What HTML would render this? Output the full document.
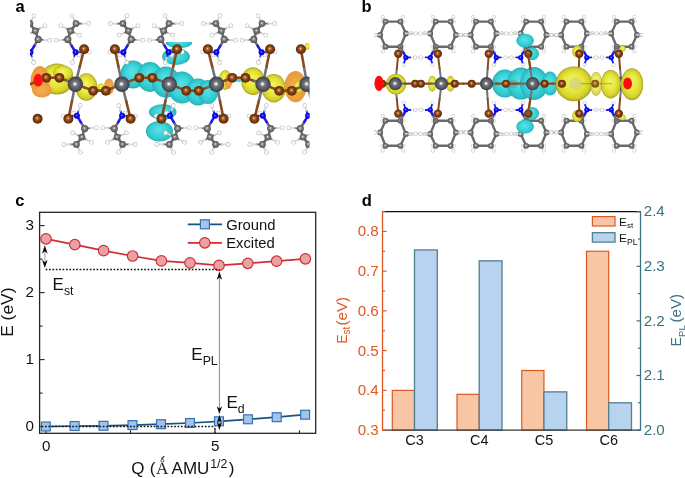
<!DOCTYPE html>
<html><head><meta charset="utf-8"><style>
html,body{margin:0;padding:0;background:#fff;}
svg{display:block;font-family:"Liberation Sans",sans-serif;will-change:transform;}
</style></head><body>
<svg width="685" height="478" viewBox="0 0 685 478">
<defs>
<radialGradient id="gPb" cx="0.5" cy="0.5" r="0.5" fx="0.46" fy="0.48">
 <stop offset="0" stop-color="#ffffff"/><stop offset="0.12" stop-color="#e4e4e6"/><stop offset="0.32" stop-color="#75787e"/><stop offset="0.7" stop-color="#55585e"/><stop offset="1" stop-color="#3c3e43"/></radialGradient>
<radialGradient id="gBr" cx="0.5" cy="0.5" r="0.5" fx="0.45" fy="0.42">
 <stop offset="0" stop-color="#f6d2b0"/><stop offset="0.25" stop-color="#b46a32"/><stop offset="0.6" stop-color="#7c3c10"/><stop offset="1" stop-color="#5a2a08"/></radialGradient>
<radialGradient id="gN" cx="0.5" cy="0.5" r="0.5" fx="0.45" fy="0.42">
 <stop offset="0" stop-color="#a0a0ff"/><stop offset="0.35" stop-color="#1414ff"/><stop offset="1" stop-color="#0000b8"/></radialGradient>
<radialGradient id="gC" cx="0.5" cy="0.5" r="0.5" fx="0.45" fy="0.42">
 <stop offset="0" stop-color="#f0f0f0"/><stop offset="0.35" stop-color="#8a8a8a"/><stop offset="1" stop-color="#505050"/></radialGradient>
<radialGradient id="gH" cx="0.5" cy="0.5" r="0.5">
 <stop offset="0" stop-color="#ffffff"/><stop offset="0.6" stop-color="#f4f4f4"/><stop offset="1" stop-color="#b0b0b0"/></radialGradient>
<radialGradient id="gCy" cx="0.5" cy="0.5" r="0.5" fx="0.45" fy="0.4">
 <stop offset="0" stop-color="#5ae2e6"/><stop offset="0.6" stop-color="#3ad3d8"/><stop offset="0.9" stop-color="#2cc0c6"/><stop offset="1" stop-color="#24aab2"/></radialGradient>
<radialGradient id="gYe" cx="0.5" cy="0.5" r="0.5" fx="0.45" fy="0.4">
 <stop offset="0" stop-color="#f4f46c"/><stop offset="0.55" stop-color="#e6e63a"/><stop offset="0.85" stop-color="#d4d02c"/><stop offset="1" stop-color="#a8a020"/></radialGradient>
<radialGradient id="gOr" cx="0.5" cy="0.5" r="0.5">
 <stop offset="0" stop-color="#f6b050"/><stop offset="1" stop-color="#e89a3a"/></radialGradient>
<clipPath id="clipTopA"><rect x="150" y="42" width="60" height="30"/></clipPath>
<clipPath id="clipA"><rect x="30" y="12" width="279.5" height="145"/></clipPath>
<clipPath id="clipB"><rect x="374" y="12" width="269" height="145"/></clipPath>
</defs>
<text x="15.6" y="11.8" font-size="16.5" font-weight="bold" fill="#000">a</text>
<text x="361.4" y="11.8" font-size="16.5" font-weight="bold" fill="#000">b</text>
<g clip-path="url(#clipA)">
<ellipse cx="57" cy="79" rx="16.5" ry="15.5" fill="url(#gYe)"/>
<ellipse cx="63" cy="73" rx="10" ry="7.5" fill="url(#gYe)"/>
<ellipse cx="40" cy="81.5" rx="9.5" ry="15.5" fill="url(#gOr)"/>
<ellipse cx="42" cy="90" rx="10" ry="7.5" fill="url(#gOr)"/>
<ellipse cx="86.3" cy="87" rx="11" ry="13.8" fill="url(#gYe)"/>
<ellipse cx="101" cy="87.2" rx="3.2" ry="3.8" fill="url(#gYe)"/>
<ellipse cx="109" cy="86.7" rx="5" ry="8.3" fill="url(#gOr)"/>
<ellipse cx="133" cy="74.5" rx="12.5" ry="14" fill="url(#gCy)"/>
<ellipse cx="150" cy="77" rx="13" ry="15" fill="url(#gCy)"/>
<ellipse cx="166" cy="82" rx="14" ry="15.5" fill="url(#gCy)"/>
<ellipse cx="182" cy="87.5" rx="14" ry="16" fill="url(#gCy)"/>
<ellipse cx="198" cy="92" rx="12" ry="13.5" fill="url(#gCy)"/>
<ellipse cx="208" cy="92" rx="10" ry="12" fill="url(#gCy)"/>
<g clip-path="url(#clipTopA)"><ellipse cx="179" cy="42.5" rx="13.2" ry="5.6" fill="url(#gCy)"/></g>
<ellipse cx="176" cy="56.6" rx="13.9" ry="8.4" fill="url(#gCy)"/>
<ellipse cx="162.7" cy="112" rx="13.8" ry="7.8" fill="url(#gCy)"/>
<ellipse cx="159.5" cy="131.2" rx="13.5" ry="10.3" fill="url(#gCy)"/>
<ellipse cx="225.3" cy="80" rx="6.6" ry="10" fill="url(#gYe)"/>
<ellipse cx="228.5" cy="81.5" rx="3.5" ry="7.5" fill="url(#gOr)"/>
<circle cx="238.6" cy="79.5" r="2.8" fill="#48d8dc"/>
<ellipse cx="253" cy="81.2" rx="11.7" ry="13.9" fill="url(#gYe)"/>
<ellipse cx="273.8" cy="88.2" rx="12" ry="14.2" fill="url(#gYe)"/>
<ellipse cx="295.5" cy="86.7" rx="11" ry="15.7" fill="url(#gOr)"/>
<ellipse cx="298.7" cy="87.1" rx="5" ry="6.6" fill="url(#gYe)"/>
<ellipse cx="307.5" cy="46.5" rx="2.6" ry="3.2" fill="url(#gYe)"/>
<line x1="75.4" y1="84" x2="79.75" y2="66.6" stroke="#707378" stroke-width="2.6" stroke-linecap="round"/><line x1="79.75" y1="66.6" x2="84.1" y2="49.2" stroke="#8a4a1c" stroke-width="2.6" stroke-linecap="round"/>
<line x1="121.9" y1="84" x2="126.25" y2="101.4" stroke="#707378" stroke-width="2.6" stroke-linecap="round"/><line x1="126.25" y1="101.4" x2="130.6" y2="118.8" stroke="#8a4a1c" stroke-width="2.6" stroke-linecap="round"/>
<line x1="75.4" y1="84" x2="71.9" y2="101.4" stroke="#707378" stroke-width="2.6" stroke-linecap="round"/><line x1="71.9" y1="101.4" x2="68.4" y2="118.8" stroke="#8a4a1c" stroke-width="2.6" stroke-linecap="round"/>
<line x1="169.3" y1="84" x2="173.2" y2="66.6" stroke="#707378" stroke-width="2.6" stroke-linecap="round"/><line x1="173.2" y1="66.6" x2="177.1" y2="49.2" stroke="#8a4a1c" stroke-width="2.6" stroke-linecap="round"/>
<line x1="216.5" y1="84" x2="220.05" y2="101.4" stroke="#707378" stroke-width="2.6" stroke-linecap="round"/><line x1="220.05" y1="101.4" x2="223.6" y2="118.8" stroke="#8a4a1c" stroke-width="2.6" stroke-linecap="round"/>
<line x1="121.9" y1="84" x2="118.4" y2="66.6" stroke="#707378" stroke-width="2.6" stroke-linecap="round"/><line x1="118.4" y1="66.6" x2="114.9" y2="49.2" stroke="#8a4a1c" stroke-width="2.6" stroke-linecap="round"/>
<line x1="169.3" y1="84" x2="165.35" y2="101.4" stroke="#707378" stroke-width="2.6" stroke-linecap="round"/><line x1="165.35" y1="101.4" x2="161.4" y2="118.8" stroke="#8a4a1c" stroke-width="2.6" stroke-linecap="round"/>
<line x1="263" y1="84" x2="266.55" y2="66.6" stroke="#707378" stroke-width="2.6" stroke-linecap="round"/><line x1="266.55" y1="66.6" x2="270.1" y2="49.2" stroke="#8a4a1c" stroke-width="2.6" stroke-linecap="round"/>
<line x1="307" y1="84" x2="311.8" y2="101.4" stroke="#707378" stroke-width="2.6" stroke-linecap="round"/><line x1="311.8" y1="101.4" x2="316.6" y2="118.8" stroke="#8a4a1c" stroke-width="2.6" stroke-linecap="round"/>
<line x1="216.5" y1="84" x2="212.2" y2="66.6" stroke="#707378" stroke-width="2.6" stroke-linecap="round"/><line x1="212.2" y1="66.6" x2="207.9" y2="49.2" stroke="#8a4a1c" stroke-width="2.6" stroke-linecap="round"/>
<line x1="263" y1="84" x2="258.7" y2="101.4" stroke="#707378" stroke-width="2.6" stroke-linecap="round"/><line x1="258.7" y1="101.4" x2="254.4" y2="118.8" stroke="#8a4a1c" stroke-width="2.6" stroke-linecap="round"/>
<line x1="307" y1="84" x2="303.95" y2="66.6" stroke="#707378" stroke-width="2.6" stroke-linecap="round"/><line x1="303.95" y1="66.6" x2="300.9" y2="49.2" stroke="#8a4a1c" stroke-width="2.6" stroke-linecap="round"/>
<line x1="76.1" y1="23.6" x2="82.4" y2="23.6" stroke="#6e6e6e" stroke-width="1.8" stroke-linecap="round"/><line x1="82.4" y1="23.6" x2="88.7" y2="23.6" stroke="#d8d8d8" stroke-width="1.8" stroke-linecap="round"/>
<line x1="76.1" y1="23.6" x2="74.05" y2="19.7" stroke="#6e6e6e" stroke-width="1.8" stroke-linecap="round"/><line x1="74.05" y1="19.7" x2="72" y2="15.8" stroke="#d8d8d8" stroke-width="1.8" stroke-linecap="round"/>
<line x1="70.6" y1="30.9" x2="65.8" y2="28.3" stroke="#6e6e6e" stroke-width="1.8" stroke-linecap="round"/><line x1="65.8" y1="28.3" x2="61" y2="25.7" stroke="#d8d8d8" stroke-width="1.8" stroke-linecap="round"/>
<line x1="70.6" y1="30.9" x2="75.2" y2="33" stroke="#6e6e6e" stroke-width="1.8" stroke-linecap="round"/><line x1="75.2" y1="33" x2="79.8" y2="35.1" stroke="#d8d8d8" stroke-width="1.8" stroke-linecap="round"/>
<line x1="67.8" y1="39.4" x2="62.05" y2="39.85" stroke="#6e6e6e" stroke-width="1.8" stroke-linecap="round"/><line x1="62.05" y1="39.85" x2="56.3" y2="40.3" stroke="#d8d8d8" stroke-width="1.8" stroke-linecap="round"/>
<line x1="75.6" y1="52.3" x2="73.95" y2="57.35" stroke="#1a1aff" stroke-width="1.8" stroke-linecap="round"/><line x1="73.95" y1="57.35" x2="72.3" y2="62.4" stroke="#d8d8d8" stroke-width="1.8" stroke-linecap="round"/>
<line x1="75.6" y1="52.3" x2="77.15" y2="53.6" stroke="#1a1aff" stroke-width="1.8" stroke-linecap="round"/><line x1="77.15" y1="53.6" x2="78.7" y2="54.9" stroke="#d8d8d8" stroke-width="1.8" stroke-linecap="round"/>
<line x1="75.6" y1="52.3" x2="82.4" y2="52.15" stroke="#1a1aff" stroke-width="1.8" stroke-linecap="round"/><line x1="82.4" y1="52.15" x2="89.2" y2="52" stroke="#d8d8d8" stroke-width="1.8" stroke-linecap="round"/>
<line x1="67.8" y1="39.4" x2="71.7" y2="45.85" stroke="#6e6e6e" stroke-width="2.6" stroke-linecap="round"/><line x1="71.7" y1="45.85" x2="75.6" y2="52.3" stroke="#1a1aff" stroke-width="2.6" stroke-linecap="round"/>
<line x1="67.8" y1="39.4" x2="70.6" y2="30.9" stroke="#6e6e6e" stroke-width="2.6" stroke-linecap="round"/>
<line x1="70.6" y1="30.9" x2="76.1" y2="23.6" stroke="#6e6e6e" stroke-width="2.6" stroke-linecap="round"/>
<circle cx="88.7" cy="23.6" r="2.3" fill="url(#gH)"/>
<circle cx="72" cy="15.8" r="2.3" fill="url(#gH)"/>
<circle cx="61" cy="25.7" r="2.3" fill="url(#gH)"/>
<circle cx="79.8" cy="35.1" r="2.3" fill="url(#gH)"/>
<circle cx="56.3" cy="40.3" r="2.3" fill="url(#gH)"/>
<circle cx="72.3" cy="62.4" r="2.3" fill="url(#gH)"/>
<circle cx="78.7" cy="54.9" r="2.3" fill="url(#gH)"/>
<circle cx="89.2" cy="52" r="2.3" fill="url(#gH)"/>
<circle cx="76.1" cy="23.6" r="3.4" fill="url(#gC)"/>
<circle cx="70.6" cy="30.9" r="3.4" fill="url(#gC)"/>
<circle cx="67.8" cy="39.4" r="3.6" fill="url(#gC)"/>
<circle cx="75.6" cy="52.3" r="3.0" fill="url(#gN)"/>
<line x1="122.6" y1="144.4" x2="128.9" y2="144.4" stroke="#6e6e6e" stroke-width="1.8" stroke-linecap="round"/><line x1="128.9" y1="144.4" x2="135.2" y2="144.4" stroke="#d8d8d8" stroke-width="1.8" stroke-linecap="round"/>
<line x1="122.6" y1="144.4" x2="120.55" y2="148.3" stroke="#6e6e6e" stroke-width="1.8" stroke-linecap="round"/><line x1="120.55" y1="148.3" x2="118.5" y2="152.2" stroke="#d8d8d8" stroke-width="1.8" stroke-linecap="round"/>
<line x1="117.1" y1="137.1" x2="112.3" y2="139.7" stroke="#6e6e6e" stroke-width="1.8" stroke-linecap="round"/><line x1="112.3" y1="139.7" x2="107.5" y2="142.3" stroke="#d8d8d8" stroke-width="1.8" stroke-linecap="round"/>
<line x1="117.1" y1="137.1" x2="121.7" y2="135" stroke="#6e6e6e" stroke-width="1.8" stroke-linecap="round"/><line x1="121.7" y1="135" x2="126.3" y2="132.9" stroke="#d8d8d8" stroke-width="1.8" stroke-linecap="round"/>
<line x1="114.3" y1="128.6" x2="108.55" y2="128.15" stroke="#6e6e6e" stroke-width="1.8" stroke-linecap="round"/><line x1="108.55" y1="128.15" x2="102.8" y2="127.7" stroke="#d8d8d8" stroke-width="1.8" stroke-linecap="round"/>
<line x1="122.1" y1="115.7" x2="120.45" y2="110.65" stroke="#1a1aff" stroke-width="1.8" stroke-linecap="round"/><line x1="120.45" y1="110.65" x2="118.8" y2="105.6" stroke="#d8d8d8" stroke-width="1.8" stroke-linecap="round"/>
<line x1="122.1" y1="115.7" x2="123.65" y2="114.4" stroke="#1a1aff" stroke-width="1.8" stroke-linecap="round"/><line x1="123.65" y1="114.4" x2="125.2" y2="113.1" stroke="#d8d8d8" stroke-width="1.8" stroke-linecap="round"/>
<line x1="122.1" y1="115.7" x2="128.9" y2="115.85" stroke="#1a1aff" stroke-width="1.8" stroke-linecap="round"/><line x1="128.9" y1="115.85" x2="135.7" y2="116" stroke="#d8d8d8" stroke-width="1.8" stroke-linecap="round"/>
<line x1="114.3" y1="128.6" x2="118.2" y2="122.15" stroke="#6e6e6e" stroke-width="2.6" stroke-linecap="round"/><line x1="118.2" y1="122.15" x2="122.1" y2="115.7" stroke="#1a1aff" stroke-width="2.6" stroke-linecap="round"/>
<line x1="114.3" y1="128.6" x2="117.1" y2="137.1" stroke="#6e6e6e" stroke-width="2.6" stroke-linecap="round"/>
<line x1="117.1" y1="137.1" x2="122.6" y2="144.4" stroke="#6e6e6e" stroke-width="2.6" stroke-linecap="round"/>
<circle cx="135.2" cy="144.4" r="2.3" fill="url(#gH)"/>
<circle cx="118.5" cy="152.2" r="2.3" fill="url(#gH)"/>
<circle cx="107.5" cy="142.3" r="2.3" fill="url(#gH)"/>
<circle cx="126.3" cy="132.9" r="2.3" fill="url(#gH)"/>
<circle cx="102.8" cy="127.7" r="2.3" fill="url(#gH)"/>
<circle cx="118.8" cy="105.6" r="2.3" fill="url(#gH)"/>
<circle cx="125.2" cy="113.1" r="2.3" fill="url(#gH)"/>
<circle cx="135.7" cy="116" r="2.3" fill="url(#gH)"/>
<circle cx="122.6" cy="144.4" r="3.4" fill="url(#gC)"/>
<circle cx="117.1" cy="137.1" r="3.4" fill="url(#gC)"/>
<circle cx="114.3" cy="128.6" r="3.6" fill="url(#gC)"/>
<circle cx="122.1" cy="115.7" r="3.0" fill="url(#gN)"/>
<line x1="29.9" y1="23.6" x2="23.6" y2="23.6" stroke="#6e6e6e" stroke-width="1.8" stroke-linecap="round"/><line x1="23.6" y1="23.6" x2="17.3" y2="23.6" stroke="#d8d8d8" stroke-width="1.8" stroke-linecap="round"/>
<line x1="29.9" y1="23.6" x2="31.95" y2="19.7" stroke="#6e6e6e" stroke-width="1.8" stroke-linecap="round"/><line x1="31.95" y1="19.7" x2="34" y2="15.8" stroke="#d8d8d8" stroke-width="1.8" stroke-linecap="round"/>
<line x1="35.4" y1="30.9" x2="40.2" y2="28.3" stroke="#6e6e6e" stroke-width="1.8" stroke-linecap="round"/><line x1="40.2" y1="28.3" x2="45" y2="25.7" stroke="#d8d8d8" stroke-width="1.8" stroke-linecap="round"/>
<line x1="35.4" y1="30.9" x2="30.8" y2="33" stroke="#6e6e6e" stroke-width="1.8" stroke-linecap="round"/><line x1="30.8" y1="33" x2="26.2" y2="35.1" stroke="#d8d8d8" stroke-width="1.8" stroke-linecap="round"/>
<line x1="38.2" y1="39.4" x2="43.95" y2="39.85" stroke="#6e6e6e" stroke-width="1.8" stroke-linecap="round"/><line x1="43.95" y1="39.85" x2="49.7" y2="40.3" stroke="#d8d8d8" stroke-width="1.8" stroke-linecap="round"/>
<line x1="30.4" y1="52.3" x2="32.05" y2="57.35" stroke="#1a1aff" stroke-width="1.8" stroke-linecap="round"/><line x1="32.05" y1="57.35" x2="33.7" y2="62.4" stroke="#d8d8d8" stroke-width="1.8" stroke-linecap="round"/>
<line x1="30.4" y1="52.3" x2="28.85" y2="53.6" stroke="#1a1aff" stroke-width="1.8" stroke-linecap="round"/><line x1="28.85" y1="53.6" x2="27.3" y2="54.9" stroke="#d8d8d8" stroke-width="1.8" stroke-linecap="round"/>
<line x1="30.4" y1="52.3" x2="23.6" y2="52.15" stroke="#1a1aff" stroke-width="1.8" stroke-linecap="round"/><line x1="23.6" y1="52.15" x2="16.8" y2="52" stroke="#d8d8d8" stroke-width="1.8" stroke-linecap="round"/>
<line x1="38.2" y1="39.4" x2="34.3" y2="45.85" stroke="#6e6e6e" stroke-width="2.6" stroke-linecap="round"/><line x1="34.3" y1="45.85" x2="30.4" y2="52.3" stroke="#1a1aff" stroke-width="2.6" stroke-linecap="round"/>
<line x1="38.2" y1="39.4" x2="35.4" y2="30.9" stroke="#6e6e6e" stroke-width="2.6" stroke-linecap="round"/>
<line x1="35.4" y1="30.9" x2="29.9" y2="23.6" stroke="#6e6e6e" stroke-width="2.6" stroke-linecap="round"/>
<circle cx="17.3" cy="23.6" r="2.3" fill="url(#gH)"/>
<circle cx="34" cy="15.8" r="2.3" fill="url(#gH)"/>
<circle cx="45" cy="25.7" r="2.3" fill="url(#gH)"/>
<circle cx="26.2" cy="35.1" r="2.3" fill="url(#gH)"/>
<circle cx="49.7" cy="40.3" r="2.3" fill="url(#gH)"/>
<circle cx="33.7" cy="62.4" r="2.3" fill="url(#gH)"/>
<circle cx="27.3" cy="54.9" r="2.3" fill="url(#gH)"/>
<circle cx="16.8" cy="52" r="2.3" fill="url(#gH)"/>
<circle cx="29.9" cy="23.6" r="3.4" fill="url(#gC)"/>
<circle cx="35.4" cy="30.9" r="3.4" fill="url(#gC)"/>
<circle cx="38.2" cy="39.4" r="3.6" fill="url(#gC)"/>
<circle cx="30.4" cy="52.3" r="3.0" fill="url(#gN)"/>
<line x1="76.4" y1="144.4" x2="70.1" y2="144.4" stroke="#6e6e6e" stroke-width="1.8" stroke-linecap="round"/><line x1="70.1" y1="144.4" x2="63.8" y2="144.4" stroke="#d8d8d8" stroke-width="1.8" stroke-linecap="round"/>
<line x1="76.4" y1="144.4" x2="78.45" y2="148.3" stroke="#6e6e6e" stroke-width="1.8" stroke-linecap="round"/><line x1="78.45" y1="148.3" x2="80.5" y2="152.2" stroke="#d8d8d8" stroke-width="1.8" stroke-linecap="round"/>
<line x1="81.9" y1="137.1" x2="86.7" y2="139.7" stroke="#6e6e6e" stroke-width="1.8" stroke-linecap="round"/><line x1="86.7" y1="139.7" x2="91.5" y2="142.3" stroke="#d8d8d8" stroke-width="1.8" stroke-linecap="round"/>
<line x1="81.9" y1="137.1" x2="77.3" y2="135" stroke="#6e6e6e" stroke-width="1.8" stroke-linecap="round"/><line x1="77.3" y1="135" x2="72.7" y2="132.9" stroke="#d8d8d8" stroke-width="1.8" stroke-linecap="round"/>
<line x1="84.7" y1="128.6" x2="90.45" y2="128.15" stroke="#6e6e6e" stroke-width="1.8" stroke-linecap="round"/><line x1="90.45" y1="128.15" x2="96.2" y2="127.7" stroke="#d8d8d8" stroke-width="1.8" stroke-linecap="round"/>
<line x1="76.9" y1="115.7" x2="78.55" y2="110.65" stroke="#1a1aff" stroke-width="1.8" stroke-linecap="round"/><line x1="78.55" y1="110.65" x2="80.2" y2="105.6" stroke="#d8d8d8" stroke-width="1.8" stroke-linecap="round"/>
<line x1="76.9" y1="115.7" x2="75.35" y2="114.4" stroke="#1a1aff" stroke-width="1.8" stroke-linecap="round"/><line x1="75.35" y1="114.4" x2="73.8" y2="113.1" stroke="#d8d8d8" stroke-width="1.8" stroke-linecap="round"/>
<line x1="76.9" y1="115.7" x2="70.1" y2="115.85" stroke="#1a1aff" stroke-width="1.8" stroke-linecap="round"/><line x1="70.1" y1="115.85" x2="63.3" y2="116" stroke="#d8d8d8" stroke-width="1.8" stroke-linecap="round"/>
<line x1="84.7" y1="128.6" x2="80.8" y2="122.15" stroke="#6e6e6e" stroke-width="2.6" stroke-linecap="round"/><line x1="80.8" y1="122.15" x2="76.9" y2="115.7" stroke="#1a1aff" stroke-width="2.6" stroke-linecap="round"/>
<line x1="84.7" y1="128.6" x2="81.9" y2="137.1" stroke="#6e6e6e" stroke-width="2.6" stroke-linecap="round"/>
<line x1="81.9" y1="137.1" x2="76.4" y2="144.4" stroke="#6e6e6e" stroke-width="2.6" stroke-linecap="round"/>
<circle cx="63.8" cy="144.4" r="2.3" fill="url(#gH)"/>
<circle cx="80.5" cy="152.2" r="2.3" fill="url(#gH)"/>
<circle cx="91.5" cy="142.3" r="2.3" fill="url(#gH)"/>
<circle cx="72.7" cy="132.9" r="2.3" fill="url(#gH)"/>
<circle cx="96.2" cy="127.7" r="2.3" fill="url(#gH)"/>
<circle cx="80.2" cy="105.6" r="2.3" fill="url(#gH)"/>
<circle cx="73.8" cy="113.1" r="2.3" fill="url(#gH)"/>
<circle cx="63.3" cy="116" r="2.3" fill="url(#gH)"/>
<circle cx="76.4" cy="144.4" r="3.4" fill="url(#gC)"/>
<circle cx="81.9" cy="137.1" r="3.4" fill="url(#gC)"/>
<circle cx="84.7" cy="128.6" r="3.6" fill="url(#gC)"/>
<circle cx="76.9" cy="115.7" r="3.0" fill="url(#gN)"/>
<line x1="169.1" y1="23.6" x2="175.4" y2="23.6" stroke="#6e6e6e" stroke-width="1.8" stroke-linecap="round"/><line x1="175.4" y1="23.6" x2="181.7" y2="23.6" stroke="#d8d8d8" stroke-width="1.8" stroke-linecap="round"/>
<line x1="169.1" y1="23.6" x2="167.05" y2="19.7" stroke="#6e6e6e" stroke-width="1.8" stroke-linecap="round"/><line x1="167.05" y1="19.7" x2="165" y2="15.8" stroke="#d8d8d8" stroke-width="1.8" stroke-linecap="round"/>
<line x1="163.6" y1="30.9" x2="158.8" y2="28.3" stroke="#6e6e6e" stroke-width="1.8" stroke-linecap="round"/><line x1="158.8" y1="28.3" x2="154" y2="25.7" stroke="#d8d8d8" stroke-width="1.8" stroke-linecap="round"/>
<line x1="163.6" y1="30.9" x2="168.2" y2="33" stroke="#6e6e6e" stroke-width="1.8" stroke-linecap="round"/><line x1="168.2" y1="33" x2="172.8" y2="35.1" stroke="#d8d8d8" stroke-width="1.8" stroke-linecap="round"/>
<line x1="160.8" y1="39.4" x2="155.05" y2="39.85" stroke="#6e6e6e" stroke-width="1.8" stroke-linecap="round"/><line x1="155.05" y1="39.85" x2="149.3" y2="40.3" stroke="#d8d8d8" stroke-width="1.8" stroke-linecap="round"/>
<line x1="168.6" y1="52.3" x2="166.95" y2="57.35" stroke="#1a1aff" stroke-width="1.8" stroke-linecap="round"/><line x1="166.95" y1="57.35" x2="165.3" y2="62.4" stroke="#d8d8d8" stroke-width="1.8" stroke-linecap="round"/>
<line x1="168.6" y1="52.3" x2="170.15" y2="53.6" stroke="#1a1aff" stroke-width="1.8" stroke-linecap="round"/><line x1="170.15" y1="53.6" x2="171.7" y2="54.9" stroke="#d8d8d8" stroke-width="1.8" stroke-linecap="round"/>
<line x1="168.6" y1="52.3" x2="175.4" y2="52.15" stroke="#1a1aff" stroke-width="1.8" stroke-linecap="round"/><line x1="175.4" y1="52.15" x2="182.2" y2="52" stroke="#d8d8d8" stroke-width="1.8" stroke-linecap="round"/>
<line x1="160.8" y1="39.4" x2="164.7" y2="45.85" stroke="#6e6e6e" stroke-width="2.6" stroke-linecap="round"/><line x1="164.7" y1="45.85" x2="168.6" y2="52.3" stroke="#1a1aff" stroke-width="2.6" stroke-linecap="round"/>
<line x1="160.8" y1="39.4" x2="163.6" y2="30.9" stroke="#6e6e6e" stroke-width="2.6" stroke-linecap="round"/>
<line x1="163.6" y1="30.9" x2="169.1" y2="23.6" stroke="#6e6e6e" stroke-width="2.6" stroke-linecap="round"/>
<circle cx="181.7" cy="23.6" r="2.3" fill="url(#gH)"/>
<circle cx="165" cy="15.8" r="2.3" fill="url(#gH)"/>
<circle cx="154" cy="25.7" r="2.3" fill="url(#gH)"/>
<circle cx="172.8" cy="35.1" r="2.3" fill="url(#gH)"/>
<circle cx="149.3" cy="40.3" r="2.3" fill="url(#gH)"/>
<circle cx="165.3" cy="62.4" r="2.3" fill="url(#gH)"/>
<circle cx="171.7" cy="54.9" r="2.3" fill="url(#gH)"/>
<circle cx="182.2" cy="52" r="2.3" fill="url(#gH)"/>
<circle cx="169.1" cy="23.6" r="3.4" fill="url(#gC)"/>
<circle cx="163.6" cy="30.9" r="3.4" fill="url(#gC)"/>
<circle cx="160.8" cy="39.4" r="3.6" fill="url(#gC)"/>
<circle cx="168.6" cy="52.3" r="3.0" fill="url(#gN)"/>
<line x1="215.6" y1="144.4" x2="221.9" y2="144.4" stroke="#6e6e6e" stroke-width="1.8" stroke-linecap="round"/><line x1="221.9" y1="144.4" x2="228.2" y2="144.4" stroke="#d8d8d8" stroke-width="1.8" stroke-linecap="round"/>
<line x1="215.6" y1="144.4" x2="213.55" y2="148.3" stroke="#6e6e6e" stroke-width="1.8" stroke-linecap="round"/><line x1="213.55" y1="148.3" x2="211.5" y2="152.2" stroke="#d8d8d8" stroke-width="1.8" stroke-linecap="round"/>
<line x1="210.1" y1="137.1" x2="205.3" y2="139.7" stroke="#6e6e6e" stroke-width="1.8" stroke-linecap="round"/><line x1="205.3" y1="139.7" x2="200.5" y2="142.3" stroke="#d8d8d8" stroke-width="1.8" stroke-linecap="round"/>
<line x1="210.1" y1="137.1" x2="214.7" y2="135" stroke="#6e6e6e" stroke-width="1.8" stroke-linecap="round"/><line x1="214.7" y1="135" x2="219.3" y2="132.9" stroke="#d8d8d8" stroke-width="1.8" stroke-linecap="round"/>
<line x1="207.3" y1="128.6" x2="201.55" y2="128.15" stroke="#6e6e6e" stroke-width="1.8" stroke-linecap="round"/><line x1="201.55" y1="128.15" x2="195.8" y2="127.7" stroke="#d8d8d8" stroke-width="1.8" stroke-linecap="round"/>
<line x1="215.1" y1="115.7" x2="213.45" y2="110.65" stroke="#1a1aff" stroke-width="1.8" stroke-linecap="round"/><line x1="213.45" y1="110.65" x2="211.8" y2="105.6" stroke="#d8d8d8" stroke-width="1.8" stroke-linecap="round"/>
<line x1="215.1" y1="115.7" x2="216.65" y2="114.4" stroke="#1a1aff" stroke-width="1.8" stroke-linecap="round"/><line x1="216.65" y1="114.4" x2="218.2" y2="113.1" stroke="#d8d8d8" stroke-width="1.8" stroke-linecap="round"/>
<line x1="215.1" y1="115.7" x2="221.9" y2="115.85" stroke="#1a1aff" stroke-width="1.8" stroke-linecap="round"/><line x1="221.9" y1="115.85" x2="228.7" y2="116" stroke="#d8d8d8" stroke-width="1.8" stroke-linecap="round"/>
<line x1="207.3" y1="128.6" x2="211.2" y2="122.15" stroke="#6e6e6e" stroke-width="2.6" stroke-linecap="round"/><line x1="211.2" y1="122.15" x2="215.1" y2="115.7" stroke="#1a1aff" stroke-width="2.6" stroke-linecap="round"/>
<line x1="207.3" y1="128.6" x2="210.1" y2="137.1" stroke="#6e6e6e" stroke-width="2.6" stroke-linecap="round"/>
<line x1="210.1" y1="137.1" x2="215.6" y2="144.4" stroke="#6e6e6e" stroke-width="2.6" stroke-linecap="round"/>
<circle cx="228.2" cy="144.4" r="2.3" fill="url(#gH)"/>
<circle cx="211.5" cy="152.2" r="2.3" fill="url(#gH)"/>
<circle cx="200.5" cy="142.3" r="2.3" fill="url(#gH)"/>
<circle cx="219.3" cy="132.9" r="2.3" fill="url(#gH)"/>
<circle cx="195.8" cy="127.7" r="2.3" fill="url(#gH)"/>
<circle cx="211.8" cy="105.6" r="2.3" fill="url(#gH)"/>
<circle cx="218.2" cy="113.1" r="2.3" fill="url(#gH)"/>
<circle cx="228.7" cy="116" r="2.3" fill="url(#gH)"/>
<circle cx="215.6" cy="144.4" r="3.4" fill="url(#gC)"/>
<circle cx="210.1" cy="137.1" r="3.4" fill="url(#gC)"/>
<circle cx="207.3" cy="128.6" r="3.6" fill="url(#gC)"/>
<circle cx="215.1" cy="115.7" r="3.0" fill="url(#gN)"/>
<line x1="122.9" y1="23.6" x2="116.6" y2="23.6" stroke="#6e6e6e" stroke-width="1.8" stroke-linecap="round"/><line x1="116.6" y1="23.6" x2="110.3" y2="23.6" stroke="#d8d8d8" stroke-width="1.8" stroke-linecap="round"/>
<line x1="122.9" y1="23.6" x2="124.95" y2="19.7" stroke="#6e6e6e" stroke-width="1.8" stroke-linecap="round"/><line x1="124.95" y1="19.7" x2="127" y2="15.8" stroke="#d8d8d8" stroke-width="1.8" stroke-linecap="round"/>
<line x1="128.4" y1="30.9" x2="133.2" y2="28.3" stroke="#6e6e6e" stroke-width="1.8" stroke-linecap="round"/><line x1="133.2" y1="28.3" x2="138" y2="25.7" stroke="#d8d8d8" stroke-width="1.8" stroke-linecap="round"/>
<line x1="128.4" y1="30.9" x2="123.8" y2="33" stroke="#6e6e6e" stroke-width="1.8" stroke-linecap="round"/><line x1="123.8" y1="33" x2="119.2" y2="35.1" stroke="#d8d8d8" stroke-width="1.8" stroke-linecap="round"/>
<line x1="131.2" y1="39.4" x2="136.95" y2="39.85" stroke="#6e6e6e" stroke-width="1.8" stroke-linecap="round"/><line x1="136.95" y1="39.85" x2="142.7" y2="40.3" stroke="#d8d8d8" stroke-width="1.8" stroke-linecap="round"/>
<line x1="123.4" y1="52.3" x2="125.05" y2="57.35" stroke="#1a1aff" stroke-width="1.8" stroke-linecap="round"/><line x1="125.05" y1="57.35" x2="126.7" y2="62.4" stroke="#d8d8d8" stroke-width="1.8" stroke-linecap="round"/>
<line x1="123.4" y1="52.3" x2="121.85" y2="53.6" stroke="#1a1aff" stroke-width="1.8" stroke-linecap="round"/><line x1="121.85" y1="53.6" x2="120.3" y2="54.9" stroke="#d8d8d8" stroke-width="1.8" stroke-linecap="round"/>
<line x1="123.4" y1="52.3" x2="116.6" y2="52.15" stroke="#1a1aff" stroke-width="1.8" stroke-linecap="round"/><line x1="116.6" y1="52.15" x2="109.8" y2="52" stroke="#d8d8d8" stroke-width="1.8" stroke-linecap="round"/>
<line x1="131.2" y1="39.4" x2="127.3" y2="45.85" stroke="#6e6e6e" stroke-width="2.6" stroke-linecap="round"/><line x1="127.3" y1="45.85" x2="123.4" y2="52.3" stroke="#1a1aff" stroke-width="2.6" stroke-linecap="round"/>
<line x1="131.2" y1="39.4" x2="128.4" y2="30.9" stroke="#6e6e6e" stroke-width="2.6" stroke-linecap="round"/>
<line x1="128.4" y1="30.9" x2="122.9" y2="23.6" stroke="#6e6e6e" stroke-width="2.6" stroke-linecap="round"/>
<circle cx="110.3" cy="23.6" r="2.3" fill="url(#gH)"/>
<circle cx="127" cy="15.8" r="2.3" fill="url(#gH)"/>
<circle cx="138" cy="25.7" r="2.3" fill="url(#gH)"/>
<circle cx="119.2" cy="35.1" r="2.3" fill="url(#gH)"/>
<circle cx="142.7" cy="40.3" r="2.3" fill="url(#gH)"/>
<circle cx="126.7" cy="62.4" r="2.3" fill="url(#gH)"/>
<circle cx="120.3" cy="54.9" r="2.3" fill="url(#gH)"/>
<circle cx="109.8" cy="52" r="2.3" fill="url(#gH)"/>
<circle cx="122.9" cy="23.6" r="3.4" fill="url(#gC)"/>
<circle cx="128.4" cy="30.9" r="3.4" fill="url(#gC)"/>
<circle cx="131.2" cy="39.4" r="3.6" fill="url(#gC)"/>
<circle cx="123.4" cy="52.3" r="3.0" fill="url(#gN)"/>
<line x1="169.4" y1="144.4" x2="163.1" y2="144.4" stroke="#6e6e6e" stroke-width="1.8" stroke-linecap="round"/><line x1="163.1" y1="144.4" x2="156.8" y2="144.4" stroke="#d8d8d8" stroke-width="1.8" stroke-linecap="round"/>
<line x1="169.4" y1="144.4" x2="171.45" y2="148.3" stroke="#6e6e6e" stroke-width="1.8" stroke-linecap="round"/><line x1="171.45" y1="148.3" x2="173.5" y2="152.2" stroke="#d8d8d8" stroke-width="1.8" stroke-linecap="round"/>
<line x1="174.9" y1="137.1" x2="179.7" y2="139.7" stroke="#6e6e6e" stroke-width="1.8" stroke-linecap="round"/><line x1="179.7" y1="139.7" x2="184.5" y2="142.3" stroke="#d8d8d8" stroke-width="1.8" stroke-linecap="round"/>
<line x1="174.9" y1="137.1" x2="170.3" y2="135" stroke="#6e6e6e" stroke-width="1.8" stroke-linecap="round"/><line x1="170.3" y1="135" x2="165.7" y2="132.9" stroke="#d8d8d8" stroke-width="1.8" stroke-linecap="round"/>
<line x1="177.7" y1="128.6" x2="183.45" y2="128.15" stroke="#6e6e6e" stroke-width="1.8" stroke-linecap="round"/><line x1="183.45" y1="128.15" x2="189.2" y2="127.7" stroke="#d8d8d8" stroke-width="1.8" stroke-linecap="round"/>
<line x1="169.9" y1="115.7" x2="171.55" y2="110.65" stroke="#1a1aff" stroke-width="1.8" stroke-linecap="round"/><line x1="171.55" y1="110.65" x2="173.2" y2="105.6" stroke="#d8d8d8" stroke-width="1.8" stroke-linecap="round"/>
<line x1="169.9" y1="115.7" x2="168.35" y2="114.4" stroke="#1a1aff" stroke-width="1.8" stroke-linecap="round"/><line x1="168.35" y1="114.4" x2="166.8" y2="113.1" stroke="#d8d8d8" stroke-width="1.8" stroke-linecap="round"/>
<line x1="169.9" y1="115.7" x2="163.1" y2="115.85" stroke="#1a1aff" stroke-width="1.8" stroke-linecap="round"/><line x1="163.1" y1="115.85" x2="156.3" y2="116" stroke="#d8d8d8" stroke-width="1.8" stroke-linecap="round"/>
<line x1="177.7" y1="128.6" x2="173.8" y2="122.15" stroke="#6e6e6e" stroke-width="2.6" stroke-linecap="round"/><line x1="173.8" y1="122.15" x2="169.9" y2="115.7" stroke="#1a1aff" stroke-width="2.6" stroke-linecap="round"/>
<line x1="177.7" y1="128.6" x2="174.9" y2="137.1" stroke="#6e6e6e" stroke-width="2.6" stroke-linecap="round"/>
<line x1="174.9" y1="137.1" x2="169.4" y2="144.4" stroke="#6e6e6e" stroke-width="2.6" stroke-linecap="round"/>
<circle cx="156.8" cy="144.4" r="2.3" fill="url(#gH)"/>
<circle cx="173.5" cy="152.2" r="2.3" fill="url(#gH)"/>
<circle cx="184.5" cy="142.3" r="2.3" fill="url(#gH)"/>
<circle cx="165.7" cy="132.9" r="2.3" fill="url(#gH)"/>
<circle cx="189.2" cy="127.7" r="2.3" fill="url(#gH)"/>
<circle cx="173.2" cy="105.6" r="2.3" fill="url(#gH)"/>
<circle cx="166.8" cy="113.1" r="2.3" fill="url(#gH)"/>
<circle cx="156.3" cy="116" r="2.3" fill="url(#gH)"/>
<circle cx="169.4" cy="144.4" r="3.4" fill="url(#gC)"/>
<circle cx="174.9" cy="137.1" r="3.4" fill="url(#gC)"/>
<circle cx="177.7" cy="128.6" r="3.6" fill="url(#gC)"/>
<circle cx="169.9" cy="115.7" r="3.0" fill="url(#gN)"/>
<line x1="262.1" y1="23.6" x2="268.4" y2="23.6" stroke="#6e6e6e" stroke-width="1.8" stroke-linecap="round"/><line x1="268.4" y1="23.6" x2="274.7" y2="23.6" stroke="#d8d8d8" stroke-width="1.8" stroke-linecap="round"/>
<line x1="262.1" y1="23.6" x2="260.05" y2="19.7" stroke="#6e6e6e" stroke-width="1.8" stroke-linecap="round"/><line x1="260.05" y1="19.7" x2="258" y2="15.8" stroke="#d8d8d8" stroke-width="1.8" stroke-linecap="round"/>
<line x1="256.6" y1="30.9" x2="251.8" y2="28.3" stroke="#6e6e6e" stroke-width="1.8" stroke-linecap="round"/><line x1="251.8" y1="28.3" x2="247" y2="25.7" stroke="#d8d8d8" stroke-width="1.8" stroke-linecap="round"/>
<line x1="256.6" y1="30.9" x2="261.2" y2="33" stroke="#6e6e6e" stroke-width="1.8" stroke-linecap="round"/><line x1="261.2" y1="33" x2="265.8" y2="35.1" stroke="#d8d8d8" stroke-width="1.8" stroke-linecap="round"/>
<line x1="253.8" y1="39.4" x2="248.05" y2="39.85" stroke="#6e6e6e" stroke-width="1.8" stroke-linecap="round"/><line x1="248.05" y1="39.85" x2="242.3" y2="40.3" stroke="#d8d8d8" stroke-width="1.8" stroke-linecap="round"/>
<line x1="261.6" y1="52.3" x2="259.95" y2="57.35" stroke="#1a1aff" stroke-width="1.8" stroke-linecap="round"/><line x1="259.95" y1="57.35" x2="258.3" y2="62.4" stroke="#d8d8d8" stroke-width="1.8" stroke-linecap="round"/>
<line x1="261.6" y1="52.3" x2="263.15" y2="53.6" stroke="#1a1aff" stroke-width="1.8" stroke-linecap="round"/><line x1="263.15" y1="53.6" x2="264.7" y2="54.9" stroke="#d8d8d8" stroke-width="1.8" stroke-linecap="round"/>
<line x1="261.6" y1="52.3" x2="268.4" y2="52.15" stroke="#1a1aff" stroke-width="1.8" stroke-linecap="round"/><line x1="268.4" y1="52.15" x2="275.2" y2="52" stroke="#d8d8d8" stroke-width="1.8" stroke-linecap="round"/>
<line x1="253.8" y1="39.4" x2="257.7" y2="45.85" stroke="#6e6e6e" stroke-width="2.6" stroke-linecap="round"/><line x1="257.7" y1="45.85" x2="261.6" y2="52.3" stroke="#1a1aff" stroke-width="2.6" stroke-linecap="round"/>
<line x1="253.8" y1="39.4" x2="256.6" y2="30.9" stroke="#6e6e6e" stroke-width="2.6" stroke-linecap="round"/>
<line x1="256.6" y1="30.9" x2="262.1" y2="23.6" stroke="#6e6e6e" stroke-width="2.6" stroke-linecap="round"/>
<circle cx="274.7" cy="23.6" r="2.3" fill="url(#gH)"/>
<circle cx="258" cy="15.8" r="2.3" fill="url(#gH)"/>
<circle cx="247" cy="25.7" r="2.3" fill="url(#gH)"/>
<circle cx="265.8" cy="35.1" r="2.3" fill="url(#gH)"/>
<circle cx="242.3" cy="40.3" r="2.3" fill="url(#gH)"/>
<circle cx="258.3" cy="62.4" r="2.3" fill="url(#gH)"/>
<circle cx="264.7" cy="54.9" r="2.3" fill="url(#gH)"/>
<circle cx="275.2" cy="52" r="2.3" fill="url(#gH)"/>
<circle cx="262.1" cy="23.6" r="3.4" fill="url(#gC)"/>
<circle cx="256.6" cy="30.9" r="3.4" fill="url(#gC)"/>
<circle cx="253.8" cy="39.4" r="3.6" fill="url(#gC)"/>
<circle cx="261.6" cy="52.3" r="3.0" fill="url(#gN)"/>
<line x1="308.6" y1="144.4" x2="314.9" y2="144.4" stroke="#6e6e6e" stroke-width="1.8" stroke-linecap="round"/><line x1="314.9" y1="144.4" x2="321.2" y2="144.4" stroke="#d8d8d8" stroke-width="1.8" stroke-linecap="round"/>
<line x1="308.6" y1="144.4" x2="306.55" y2="148.3" stroke="#6e6e6e" stroke-width="1.8" stroke-linecap="round"/><line x1="306.55" y1="148.3" x2="304.5" y2="152.2" stroke="#d8d8d8" stroke-width="1.8" stroke-linecap="round"/>
<line x1="303.1" y1="137.1" x2="298.3" y2="139.7" stroke="#6e6e6e" stroke-width="1.8" stroke-linecap="round"/><line x1="298.3" y1="139.7" x2="293.5" y2="142.3" stroke="#d8d8d8" stroke-width="1.8" stroke-linecap="round"/>
<line x1="303.1" y1="137.1" x2="307.7" y2="135" stroke="#6e6e6e" stroke-width="1.8" stroke-linecap="round"/><line x1="307.7" y1="135" x2="312.3" y2="132.9" stroke="#d8d8d8" stroke-width="1.8" stroke-linecap="round"/>
<line x1="300.3" y1="128.6" x2="294.55" y2="128.15" stroke="#6e6e6e" stroke-width="1.8" stroke-linecap="round"/><line x1="294.55" y1="128.15" x2="288.8" y2="127.7" stroke="#d8d8d8" stroke-width="1.8" stroke-linecap="round"/>
<line x1="308.1" y1="115.7" x2="306.45" y2="110.65" stroke="#1a1aff" stroke-width="1.8" stroke-linecap="round"/><line x1="306.45" y1="110.65" x2="304.8" y2="105.6" stroke="#d8d8d8" stroke-width="1.8" stroke-linecap="round"/>
<line x1="308.1" y1="115.7" x2="309.65" y2="114.4" stroke="#1a1aff" stroke-width="1.8" stroke-linecap="round"/><line x1="309.65" y1="114.4" x2="311.2" y2="113.1" stroke="#d8d8d8" stroke-width="1.8" stroke-linecap="round"/>
<line x1="308.1" y1="115.7" x2="314.9" y2="115.85" stroke="#1a1aff" stroke-width="1.8" stroke-linecap="round"/><line x1="314.9" y1="115.85" x2="321.7" y2="116" stroke="#d8d8d8" stroke-width="1.8" stroke-linecap="round"/>
<line x1="300.3" y1="128.6" x2="304.2" y2="122.15" stroke="#6e6e6e" stroke-width="2.6" stroke-linecap="round"/><line x1="304.2" y1="122.15" x2="308.1" y2="115.7" stroke="#1a1aff" stroke-width="2.6" stroke-linecap="round"/>
<line x1="300.3" y1="128.6" x2="303.1" y2="137.1" stroke="#6e6e6e" stroke-width="2.6" stroke-linecap="round"/>
<line x1="303.1" y1="137.1" x2="308.6" y2="144.4" stroke="#6e6e6e" stroke-width="2.6" stroke-linecap="round"/>
<circle cx="321.2" cy="144.4" r="2.3" fill="url(#gH)"/>
<circle cx="304.5" cy="152.2" r="2.3" fill="url(#gH)"/>
<circle cx="293.5" cy="142.3" r="2.3" fill="url(#gH)"/>
<circle cx="312.3" cy="132.9" r="2.3" fill="url(#gH)"/>
<circle cx="288.8" cy="127.7" r="2.3" fill="url(#gH)"/>
<circle cx="304.8" cy="105.6" r="2.3" fill="url(#gH)"/>
<circle cx="311.2" cy="113.1" r="2.3" fill="url(#gH)"/>
<circle cx="321.7" cy="116" r="2.3" fill="url(#gH)"/>
<circle cx="308.6" cy="144.4" r="3.4" fill="url(#gC)"/>
<circle cx="303.1" cy="137.1" r="3.4" fill="url(#gC)"/>
<circle cx="300.3" cy="128.6" r="3.6" fill="url(#gC)"/>
<circle cx="308.1" cy="115.7" r="3.0" fill="url(#gN)"/>
<line x1="215.9" y1="23.6" x2="209.6" y2="23.6" stroke="#6e6e6e" stroke-width="1.8" stroke-linecap="round"/><line x1="209.6" y1="23.6" x2="203.3" y2="23.6" stroke="#d8d8d8" stroke-width="1.8" stroke-linecap="round"/>
<line x1="215.9" y1="23.6" x2="217.95" y2="19.7" stroke="#6e6e6e" stroke-width="1.8" stroke-linecap="round"/><line x1="217.95" y1="19.7" x2="220" y2="15.8" stroke="#d8d8d8" stroke-width="1.8" stroke-linecap="round"/>
<line x1="221.4" y1="30.9" x2="226.2" y2="28.3" stroke="#6e6e6e" stroke-width="1.8" stroke-linecap="round"/><line x1="226.2" y1="28.3" x2="231" y2="25.7" stroke="#d8d8d8" stroke-width="1.8" stroke-linecap="round"/>
<line x1="221.4" y1="30.9" x2="216.8" y2="33" stroke="#6e6e6e" stroke-width="1.8" stroke-linecap="round"/><line x1="216.8" y1="33" x2="212.2" y2="35.1" stroke="#d8d8d8" stroke-width="1.8" stroke-linecap="round"/>
<line x1="224.2" y1="39.4" x2="229.95" y2="39.85" stroke="#6e6e6e" stroke-width="1.8" stroke-linecap="round"/><line x1="229.95" y1="39.85" x2="235.7" y2="40.3" stroke="#d8d8d8" stroke-width="1.8" stroke-linecap="round"/>
<line x1="216.4" y1="52.3" x2="218.05" y2="57.35" stroke="#1a1aff" stroke-width="1.8" stroke-linecap="round"/><line x1="218.05" y1="57.35" x2="219.7" y2="62.4" stroke="#d8d8d8" stroke-width="1.8" stroke-linecap="round"/>
<line x1="216.4" y1="52.3" x2="214.85" y2="53.6" stroke="#1a1aff" stroke-width="1.8" stroke-linecap="round"/><line x1="214.85" y1="53.6" x2="213.3" y2="54.9" stroke="#d8d8d8" stroke-width="1.8" stroke-linecap="round"/>
<line x1="216.4" y1="52.3" x2="209.6" y2="52.15" stroke="#1a1aff" stroke-width="1.8" stroke-linecap="round"/><line x1="209.6" y1="52.15" x2="202.8" y2="52" stroke="#d8d8d8" stroke-width="1.8" stroke-linecap="round"/>
<line x1="224.2" y1="39.4" x2="220.3" y2="45.85" stroke="#6e6e6e" stroke-width="2.6" stroke-linecap="round"/><line x1="220.3" y1="45.85" x2="216.4" y2="52.3" stroke="#1a1aff" stroke-width="2.6" stroke-linecap="round"/>
<line x1="224.2" y1="39.4" x2="221.4" y2="30.9" stroke="#6e6e6e" stroke-width="2.6" stroke-linecap="round"/>
<line x1="221.4" y1="30.9" x2="215.9" y2="23.6" stroke="#6e6e6e" stroke-width="2.6" stroke-linecap="round"/>
<circle cx="203.3" cy="23.6" r="2.3" fill="url(#gH)"/>
<circle cx="220" cy="15.8" r="2.3" fill="url(#gH)"/>
<circle cx="231" cy="25.7" r="2.3" fill="url(#gH)"/>
<circle cx="212.2" cy="35.1" r="2.3" fill="url(#gH)"/>
<circle cx="235.7" cy="40.3" r="2.3" fill="url(#gH)"/>
<circle cx="219.7" cy="62.4" r="2.3" fill="url(#gH)"/>
<circle cx="213.3" cy="54.9" r="2.3" fill="url(#gH)"/>
<circle cx="202.8" cy="52" r="2.3" fill="url(#gH)"/>
<circle cx="215.9" cy="23.6" r="3.4" fill="url(#gC)"/>
<circle cx="221.4" cy="30.9" r="3.4" fill="url(#gC)"/>
<circle cx="224.2" cy="39.4" r="3.6" fill="url(#gC)"/>
<circle cx="216.4" cy="52.3" r="3.0" fill="url(#gN)"/>
<line x1="262.4" y1="144.4" x2="256.1" y2="144.4" stroke="#6e6e6e" stroke-width="1.8" stroke-linecap="round"/><line x1="256.1" y1="144.4" x2="249.8" y2="144.4" stroke="#d8d8d8" stroke-width="1.8" stroke-linecap="round"/>
<line x1="262.4" y1="144.4" x2="264.45" y2="148.3" stroke="#6e6e6e" stroke-width="1.8" stroke-linecap="round"/><line x1="264.45" y1="148.3" x2="266.5" y2="152.2" stroke="#d8d8d8" stroke-width="1.8" stroke-linecap="round"/>
<line x1="267.9" y1="137.1" x2="272.7" y2="139.7" stroke="#6e6e6e" stroke-width="1.8" stroke-linecap="round"/><line x1="272.7" y1="139.7" x2="277.5" y2="142.3" stroke="#d8d8d8" stroke-width="1.8" stroke-linecap="round"/>
<line x1="267.9" y1="137.1" x2="263.3" y2="135" stroke="#6e6e6e" stroke-width="1.8" stroke-linecap="round"/><line x1="263.3" y1="135" x2="258.7" y2="132.9" stroke="#d8d8d8" stroke-width="1.8" stroke-linecap="round"/>
<line x1="270.7" y1="128.6" x2="276.45" y2="128.15" stroke="#6e6e6e" stroke-width="1.8" stroke-linecap="round"/><line x1="276.45" y1="128.15" x2="282.2" y2="127.7" stroke="#d8d8d8" stroke-width="1.8" stroke-linecap="round"/>
<line x1="262.9" y1="115.7" x2="264.55" y2="110.65" stroke="#1a1aff" stroke-width="1.8" stroke-linecap="round"/><line x1="264.55" y1="110.65" x2="266.2" y2="105.6" stroke="#d8d8d8" stroke-width="1.8" stroke-linecap="round"/>
<line x1="262.9" y1="115.7" x2="261.35" y2="114.4" stroke="#1a1aff" stroke-width="1.8" stroke-linecap="round"/><line x1="261.35" y1="114.4" x2="259.8" y2="113.1" stroke="#d8d8d8" stroke-width="1.8" stroke-linecap="round"/>
<line x1="262.9" y1="115.7" x2="256.1" y2="115.85" stroke="#1a1aff" stroke-width="1.8" stroke-linecap="round"/><line x1="256.1" y1="115.85" x2="249.3" y2="116" stroke="#d8d8d8" stroke-width="1.8" stroke-linecap="round"/>
<line x1="270.7" y1="128.6" x2="266.8" y2="122.15" stroke="#6e6e6e" stroke-width="2.6" stroke-linecap="round"/><line x1="266.8" y1="122.15" x2="262.9" y2="115.7" stroke="#1a1aff" stroke-width="2.6" stroke-linecap="round"/>
<line x1="270.7" y1="128.6" x2="267.9" y2="137.1" stroke="#6e6e6e" stroke-width="2.6" stroke-linecap="round"/>
<line x1="267.9" y1="137.1" x2="262.4" y2="144.4" stroke="#6e6e6e" stroke-width="2.6" stroke-linecap="round"/>
<circle cx="249.8" cy="144.4" r="2.3" fill="url(#gH)"/>
<circle cx="266.5" cy="152.2" r="2.3" fill="url(#gH)"/>
<circle cx="277.5" cy="142.3" r="2.3" fill="url(#gH)"/>
<circle cx="258.7" cy="132.9" r="2.3" fill="url(#gH)"/>
<circle cx="282.2" cy="127.7" r="2.3" fill="url(#gH)"/>
<circle cx="266.2" cy="105.6" r="2.3" fill="url(#gH)"/>
<circle cx="259.8" cy="113.1" r="2.3" fill="url(#gH)"/>
<circle cx="249.3" cy="116" r="2.3" fill="url(#gH)"/>
<circle cx="262.4" cy="144.4" r="3.4" fill="url(#gC)"/>
<circle cx="267.9" cy="137.1" r="3.4" fill="url(#gC)"/>
<circle cx="270.7" cy="128.6" r="3.6" fill="url(#gC)"/>
<circle cx="262.9" cy="115.7" r="3.0" fill="url(#gN)"/>
<circle cx="37.6" cy="118.8" r="5.0" fill="url(#gBr)"/>
<circle cx="84.1" cy="49.2" r="5.0" fill="url(#gBr)"/>
<circle cx="130.6" cy="118.8" r="5.0" fill="url(#gBr)"/>
<circle cx="68.4" cy="118.8" r="5.0" fill="url(#gBr)"/>
<circle cx="177.1" cy="49.2" r="5.0" fill="url(#gBr)"/>
<circle cx="223.6" cy="118.8" r="5.0" fill="url(#gBr)"/>
<circle cx="114.9" cy="49.2" r="5.0" fill="url(#gBr)"/>
<circle cx="161.4" cy="118.8" r="5.0" fill="url(#gBr)"/>
<circle cx="270.1" cy="49.2" r="5.0" fill="url(#gBr)"/>
<circle cx="207.9" cy="49.2" r="5.0" fill="url(#gBr)"/>
<circle cx="254.4" cy="118.8" r="5.0" fill="url(#gBr)"/>
<circle cx="300.9" cy="49.2" r="5.0" fill="url(#gBr)"/>
<line x1="-46.7" y1="77.8" x2="-40.15" y2="77.8" stroke="#8a4a1c" stroke-width="2.6" stroke-linecap="round"/><line x1="-40.15" y1="77.8" x2="-33.6" y2="77.8" stroke="#8a4a1c" stroke-width="2.6" stroke-linecap="round"/>
<line x1="-33.6" y1="77.8" x2="-16.7" y2="84.3" stroke="#8a4a1c" stroke-width="2.6" stroke-linecap="round"/><line x1="-16.7" y1="84.3" x2="0.2" y2="90.8" stroke="#8a4a1c" stroke-width="2.6" stroke-linecap="round"/>
<line x1="0.2" y1="90.8" x2="6.5" y2="90.8" stroke="#8a4a1c" stroke-width="2.6" stroke-linecap="round"/><line x1="6.5" y1="90.8" x2="12.8" y2="90.8" stroke="#8a4a1c" stroke-width="2.6" stroke-linecap="round"/>
<line x1="12.8" y1="90.8" x2="29.55" y2="84.3" stroke="#8a4a1c" stroke-width="2.6" stroke-linecap="round"/><line x1="29.55" y1="84.3" x2="46.3" y2="77.8" stroke="#8a4a1c" stroke-width="2.6" stroke-linecap="round"/>
<line x1="46.3" y1="77.8" x2="52.85" y2="77.8" stroke="#8a4a1c" stroke-width="2.6" stroke-linecap="round"/><line x1="52.85" y1="77.8" x2="59.4" y2="77.8" stroke="#8a4a1c" stroke-width="2.6" stroke-linecap="round"/>
<line x1="59.4" y1="77.8" x2="67.4" y2="80.9" stroke="#8a4a1c" stroke-width="2.6" stroke-linecap="round"/><line x1="67.4" y1="80.9" x2="75.4" y2="84" stroke="#6a6d72" stroke-width="2.6" stroke-linecap="round"/>
<line x1="75.4" y1="84" x2="84.3" y2="87.4" stroke="#6a6d72" stroke-width="2.6" stroke-linecap="round"/><line x1="84.3" y1="87.4" x2="93.2" y2="90.8" stroke="#8a4a1c" stroke-width="2.6" stroke-linecap="round"/>
<line x1="93.2" y1="90.8" x2="99.5" y2="90.8" stroke="#8a4a1c" stroke-width="2.6" stroke-linecap="round"/><line x1="99.5" y1="90.8" x2="105.8" y2="90.8" stroke="#8a4a1c" stroke-width="2.6" stroke-linecap="round"/>
<line x1="105.8" y1="90.8" x2="113.85" y2="87.4" stroke="#8a4a1c" stroke-width="2.6" stroke-linecap="round"/><line x1="113.85" y1="87.4" x2="121.9" y2="84" stroke="#6a6d72" stroke-width="2.6" stroke-linecap="round"/>
<line x1="121.9" y1="84" x2="130.6" y2="80.9" stroke="#6a6d72" stroke-width="2.6" stroke-linecap="round"/><line x1="130.6" y1="80.9" x2="139.3" y2="77.8" stroke="#8a4a1c" stroke-width="2.6" stroke-linecap="round"/>
<line x1="139.3" y1="77.8" x2="145.85" y2="77.8" stroke="#8a4a1c" stroke-width="2.6" stroke-linecap="round"/><line x1="145.85" y1="77.8" x2="152.4" y2="77.8" stroke="#8a4a1c" stroke-width="2.6" stroke-linecap="round"/>
<line x1="152.4" y1="77.8" x2="160.85" y2="80.9" stroke="#8a4a1c" stroke-width="2.6" stroke-linecap="round"/><line x1="160.85" y1="80.9" x2="169.3" y2="84" stroke="#6a6d72" stroke-width="2.6" stroke-linecap="round"/>
<line x1="169.3" y1="84" x2="177.75" y2="87.4" stroke="#6a6d72" stroke-width="2.6" stroke-linecap="round"/><line x1="177.75" y1="87.4" x2="186.2" y2="90.8" stroke="#8a4a1c" stroke-width="2.6" stroke-linecap="round"/>
<line x1="186.2" y1="90.8" x2="192.5" y2="90.8" stroke="#8a4a1c" stroke-width="2.6" stroke-linecap="round"/><line x1="192.5" y1="90.8" x2="198.8" y2="90.8" stroke="#8a4a1c" stroke-width="2.6" stroke-linecap="round"/>
<line x1="198.8" y1="90.8" x2="207.65" y2="87.4" stroke="#8a4a1c" stroke-width="2.6" stroke-linecap="round"/><line x1="207.65" y1="87.4" x2="216.5" y2="84" stroke="#6a6d72" stroke-width="2.6" stroke-linecap="round"/>
<line x1="216.5" y1="84" x2="224.4" y2="80.9" stroke="#6a6d72" stroke-width="2.6" stroke-linecap="round"/><line x1="224.4" y1="80.9" x2="232.3" y2="77.8" stroke="#8a4a1c" stroke-width="2.6" stroke-linecap="round"/>
<line x1="232.3" y1="77.8" x2="238.85" y2="77.8" stroke="#8a4a1c" stroke-width="2.6" stroke-linecap="round"/><line x1="238.85" y1="77.8" x2="245.4" y2="77.8" stroke="#8a4a1c" stroke-width="2.6" stroke-linecap="round"/>
<line x1="245.4" y1="77.8" x2="254.2" y2="80.9" stroke="#8a4a1c" stroke-width="2.6" stroke-linecap="round"/><line x1="254.2" y1="80.9" x2="263" y2="84" stroke="#6a6d72" stroke-width="2.6" stroke-linecap="round"/>
<line x1="263" y1="84" x2="271.1" y2="87.4" stroke="#6a6d72" stroke-width="2.6" stroke-linecap="round"/><line x1="271.1" y1="87.4" x2="279.2" y2="90.8" stroke="#8a4a1c" stroke-width="2.6" stroke-linecap="round"/>
<line x1="279.2" y1="90.8" x2="285.5" y2="90.8" stroke="#8a4a1c" stroke-width="2.6" stroke-linecap="round"/><line x1="285.5" y1="90.8" x2="291.8" y2="90.8" stroke="#8a4a1c" stroke-width="2.6" stroke-linecap="round"/>
<line x1="291.8" y1="90.8" x2="299.4" y2="87.4" stroke="#8a4a1c" stroke-width="2.6" stroke-linecap="round"/><line x1="299.4" y1="87.4" x2="307" y2="84" stroke="#6a6d72" stroke-width="2.6" stroke-linecap="round"/>
<line x1="307" y1="84" x2="316.15" y2="80.9" stroke="#6a6d72" stroke-width="2.6" stroke-linecap="round"/><line x1="316.15" y1="80.9" x2="325.3" y2="77.8" stroke="#8a4a1c" stroke-width="2.6" stroke-linecap="round"/>
<line x1="325.3" y1="77.8" x2="331.85" y2="77.8" stroke="#8a4a1c" stroke-width="2.6" stroke-linecap="round"/><line x1="331.85" y1="77.8" x2="338.4" y2="77.8" stroke="#8a4a1c" stroke-width="2.6" stroke-linecap="round"/>
<line x1="338.4" y1="77.8" x2="355.3" y2="84.3" stroke="#8a4a1c" stroke-width="2.6" stroke-linecap="round"/><line x1="355.3" y1="84.3" x2="372.2" y2="90.8" stroke="#8a4a1c" stroke-width="2.6" stroke-linecap="round"/>
<line x1="372.2" y1="90.8" x2="378.5" y2="90.8" stroke="#8a4a1c" stroke-width="2.6" stroke-linecap="round"/><line x1="378.5" y1="90.8" x2="384.8" y2="90.8" stroke="#8a4a1c" stroke-width="2.6" stroke-linecap="round"/>
<line x1="384.8" y1="90.8" x2="401.55" y2="84.3" stroke="#8a4a1c" stroke-width="2.6" stroke-linecap="round"/><line x1="401.55" y1="84.3" x2="418.3" y2="77.8" stroke="#8a4a1c" stroke-width="2.6" stroke-linecap="round"/>
<line x1="418.3" y1="77.8" x2="424.85" y2="77.8" stroke="#8a4a1c" stroke-width="2.6" stroke-linecap="round"/><line x1="424.85" y1="77.8" x2="431.4" y2="77.8" stroke="#8a4a1c" stroke-width="2.6" stroke-linecap="round"/>
<line x1="431.4" y1="77.8" x2="448.3" y2="84.3" stroke="#8a4a1c" stroke-width="2.6" stroke-linecap="round"/><line x1="448.3" y1="84.3" x2="465.2" y2="90.8" stroke="#8a4a1c" stroke-width="2.6" stroke-linecap="round"/>
<line x1="465.2" y1="90.8" x2="471.5" y2="90.8" stroke="#8a4a1c" stroke-width="2.6" stroke-linecap="round"/><line x1="471.5" y1="90.8" x2="477.8" y2="90.8" stroke="#8a4a1c" stroke-width="2.6" stroke-linecap="round"/>
<circle cx="-46.7" cy="77.8" r="4.9" fill="url(#gBr)"/>
<circle cx="-33.6" cy="77.8" r="4.9" fill="url(#gBr)"/>
<circle cx="0.2" cy="90.8" r="4.9" fill="url(#gBr)"/>
<circle cx="12.8" cy="90.8" r="4.9" fill="url(#gBr)"/>
<circle cx="46.3" cy="77.8" r="4.9" fill="url(#gBr)"/>
<circle cx="59.4" cy="77.8" r="4.9" fill="url(#gBr)"/>
<circle cx="93.2" cy="90.8" r="4.9" fill="url(#gBr)"/>
<circle cx="105.8" cy="90.8" r="4.9" fill="url(#gBr)"/>
<circle cx="139.3" cy="77.8" r="4.9" fill="url(#gBr)"/>
<circle cx="152.4" cy="77.8" r="4.9" fill="url(#gBr)"/>
<circle cx="186.2" cy="90.8" r="4.9" fill="url(#gBr)"/>
<circle cx="198.8" cy="90.8" r="4.9" fill="url(#gBr)"/>
<circle cx="232.3" cy="77.8" r="4.9" fill="url(#gBr)"/>
<circle cx="245.4" cy="77.8" r="4.9" fill="url(#gBr)"/>
<circle cx="279.2" cy="90.8" r="4.9" fill="url(#gBr)"/>
<circle cx="291.8" cy="90.8" r="4.9" fill="url(#gBr)"/>
<circle cx="325.3" cy="77.8" r="4.9" fill="url(#gBr)"/>
<circle cx="338.4" cy="77.8" r="4.9" fill="url(#gBr)"/>
<circle cx="372.2" cy="90.8" r="4.9" fill="url(#gBr)"/>
<circle cx="384.8" cy="90.8" r="4.9" fill="url(#gBr)"/>
<circle cx="418.3" cy="77.8" r="4.9" fill="url(#gBr)"/>
<circle cx="431.4" cy="77.8" r="4.9" fill="url(#gBr)"/>
<circle cx="465.2" cy="90.8" r="4.9" fill="url(#gBr)"/>
<circle cx="477.8" cy="90.8" r="4.9" fill="url(#gBr)"/>
<circle cx="75.4" cy="84.2" r="7.7" fill="url(#gPb)"/>
<circle cx="121.9" cy="84.2" r="7.7" fill="url(#gPb)"/>
<circle cx="169.3" cy="84.2" r="7.7" fill="url(#gPb)"/>
<circle cx="216.5" cy="84.2" r="7.7" fill="url(#gPb)"/>
<circle cx="263" cy="84.2" r="7.7" fill="url(#gPb)"/>
<circle cx="307" cy="84.2" r="7.7" fill="url(#gPb)"/>
<ellipse cx="38.1" cy="80.2" rx="4.6" ry="6.4" fill="#ff1010"/>
</g>
<g clip-path="url(#clipB)">
<line x1="349.5" y1="83.7" x2="303.15" y2="68.75" stroke="#707378" stroke-width="2.0" stroke-linecap="round"/><line x1="303.15" y1="68.75" x2="256.8" y2="53.8" stroke="#8a4a1c" stroke-width="2.0" stroke-linecap="round"/>
<line x1="349.5" y1="83.7" x2="303.15" y2="98.65" stroke="#707378" stroke-width="2.0" stroke-linecap="round"/><line x1="303.15" y1="98.65" x2="256.8" y2="113.6" stroke="#8a4a1c" stroke-width="2.0" stroke-linecap="round"/>
<line x1="349.5" y1="83.7" x2="328.65" y2="68.75" stroke="#707378" stroke-width="2.0" stroke-linecap="round"/><line x1="328.65" y1="68.75" x2="307.8" y2="53.8" stroke="#8a4a1c" stroke-width="2.0" stroke-linecap="round"/>
<line x1="349.5" y1="83.7" x2="328.65" y2="98.65" stroke="#707378" stroke-width="2.0" stroke-linecap="round"/><line x1="328.65" y1="98.65" x2="307.8" y2="113.6" stroke="#8a4a1c" stroke-width="2.0" stroke-linecap="round"/>
<line x1="349.5" y1="83.7" x2="348.4" y2="68.75" stroke="#707378" stroke-width="2.0" stroke-linecap="round"/><line x1="348.4" y1="68.75" x2="347.3" y2="53.8" stroke="#8a4a1c" stroke-width="2.0" stroke-linecap="round"/>
<line x1="349.5" y1="83.7" x2="348.4" y2="98.65" stroke="#707378" stroke-width="2.0" stroke-linecap="round"/><line x1="348.4" y1="98.65" x2="347.3" y2="113.6" stroke="#8a4a1c" stroke-width="2.0" stroke-linecap="round"/>
<line x1="395.3" y1="83.7" x2="396.8" y2="68.75" stroke="#707378" stroke-width="2.0" stroke-linecap="round"/><line x1="396.8" y1="68.75" x2="398.3" y2="53.8" stroke="#8a4a1c" stroke-width="2.0" stroke-linecap="round"/>
<line x1="395.3" y1="83.7" x2="396.8" y2="98.65" stroke="#707378" stroke-width="2.0" stroke-linecap="round"/><line x1="396.8" y1="98.65" x2="398.3" y2="113.6" stroke="#8a4a1c" stroke-width="2.0" stroke-linecap="round"/>
<line x1="441.5" y1="83.7" x2="439.65" y2="68.75" stroke="#707378" stroke-width="2.0" stroke-linecap="round"/><line x1="439.65" y1="68.75" x2="437.8" y2="53.8" stroke="#8a4a1c" stroke-width="2.0" stroke-linecap="round"/>
<line x1="441.5" y1="83.7" x2="439.65" y2="98.65" stroke="#707378" stroke-width="2.0" stroke-linecap="round"/><line x1="439.65" y1="98.65" x2="437.8" y2="113.6" stroke="#8a4a1c" stroke-width="2.0" stroke-linecap="round"/>
<line x1="486.5" y1="83.7" x2="487.65" y2="68.75" stroke="#707378" stroke-width="2.0" stroke-linecap="round"/><line x1="487.65" y1="68.75" x2="488.8" y2="53.8" stroke="#8a4a1c" stroke-width="2.0" stroke-linecap="round"/>
<line x1="486.5" y1="83.7" x2="487.65" y2="98.65" stroke="#707378" stroke-width="2.0" stroke-linecap="round"/><line x1="487.65" y1="98.65" x2="488.8" y2="113.6" stroke="#8a4a1c" stroke-width="2.0" stroke-linecap="round"/>
<line x1="532.7" y1="83.7" x2="530.5" y2="68.75" stroke="#707378" stroke-width="2.0" stroke-linecap="round"/><line x1="530.5" y1="68.75" x2="528.3" y2="53.8" stroke="#8a4a1c" stroke-width="2.0" stroke-linecap="round"/>
<line x1="532.7" y1="83.7" x2="530.5" y2="98.65" stroke="#707378" stroke-width="2.0" stroke-linecap="round"/><line x1="530.5" y1="98.65" x2="528.3" y2="113.6" stroke="#8a4a1c" stroke-width="2.0" stroke-linecap="round"/>
<line x1="578.5" y1="83.7" x2="578.9" y2="68.75" stroke="#707378" stroke-width="2.0" stroke-linecap="round"/><line x1="578.9" y1="68.75" x2="579.3" y2="53.8" stroke="#8a4a1c" stroke-width="2.0" stroke-linecap="round"/>
<line x1="578.5" y1="83.7" x2="578.9" y2="98.65" stroke="#707378" stroke-width="2.0" stroke-linecap="round"/><line x1="578.9" y1="98.65" x2="579.3" y2="113.6" stroke="#8a4a1c" stroke-width="2.0" stroke-linecap="round"/>
<line x1="621.4" y1="83.7" x2="620.1" y2="68.75" stroke="#707378" stroke-width="2.0" stroke-linecap="round"/><line x1="620.1" y1="68.75" x2="618.8" y2="53.8" stroke="#8a4a1c" stroke-width="2.0" stroke-linecap="round"/>
<line x1="621.4" y1="83.7" x2="620.1" y2="98.65" stroke="#707378" stroke-width="2.0" stroke-linecap="round"/><line x1="620.1" y1="98.65" x2="618.8" y2="113.6" stroke="#8a4a1c" stroke-width="2.0" stroke-linecap="round"/>
<line x1="667" y1="83.7" x2="668.4" y2="68.75" stroke="#707378" stroke-width="2.0" stroke-linecap="round"/><line x1="668.4" y1="68.75" x2="669.8" y2="53.8" stroke="#8a4a1c" stroke-width="2.0" stroke-linecap="round"/>
<line x1="667" y1="83.7" x2="668.4" y2="98.65" stroke="#707378" stroke-width="2.0" stroke-linecap="round"/><line x1="668.4" y1="98.65" x2="669.8" y2="113.6" stroke="#8a4a1c" stroke-width="2.0" stroke-linecap="round"/>
<line x1="254.7" y1="21.6" x2="253.3" y2="19.23" stroke="#6e6e6e" stroke-width="1.4" stroke-linecap="round"/><line x1="253.3" y1="19.23" x2="251.9" y2="16.87" stroke="#d8d8d8" stroke-width="1.4" stroke-linecap="round"/>
<circle cx="251.9" cy="16.87" r="1.9" fill="url(#gH)"/>
<circle cx="251.5" cy="21.6" r="1.8" fill="url(#gH)"/>
<line x1="269.6" y1="21.6" x2="271.01" y2="19.24" stroke="#6e6e6e" stroke-width="1.4" stroke-linecap="round"/><line x1="271.01" y1="19.24" x2="272.43" y2="16.88" stroke="#d8d8d8" stroke-width="1.4" stroke-linecap="round"/>
<circle cx="272.43" cy="16.88" r="1.9" fill="url(#gH)"/>
<circle cx="272.8" cy="21.6" r="1.8" fill="url(#gH)"/>
<line x1="274.9" y1="34.9" x2="277.64" y2="35.07" stroke="#6e6e6e" stroke-width="1.4" stroke-linecap="round"/><line x1="277.64" y1="35.07" x2="280.39" y2="35.24" stroke="#d8d8d8" stroke-width="1.4" stroke-linecap="round"/>
<circle cx="280.39" cy="35.24" r="1.9" fill="url(#gH)"/>
<circle cx="278.1" cy="34.9" r="1.8" fill="url(#gH)"/>
<line x1="269.6" y1="46.7" x2="271.01" y2="49.06" stroke="#6e6e6e" stroke-width="1.4" stroke-linecap="round"/><line x1="271.01" y1="49.06" x2="272.41" y2="51.43" stroke="#d8d8d8" stroke-width="1.4" stroke-linecap="round"/>
<circle cx="272.41" cy="51.43" r="1.9" fill="url(#gH)"/>
<circle cx="272.8" cy="46.7" r="1.8" fill="url(#gH)"/>
<line x1="254.7" y1="46.7" x2="253.31" y2="49.07" stroke="#6e6e6e" stroke-width="1.4" stroke-linecap="round"/><line x1="253.31" y1="49.07" x2="251.91" y2="51.44" stroke="#d8d8d8" stroke-width="1.4" stroke-linecap="round"/>
<circle cx="251.91" cy="51.44" r="1.9" fill="url(#gH)"/>
<circle cx="251.5" cy="46.7" r="1.8" fill="url(#gH)"/>
<line x1="249.2" y1="33.5" x2="246.45" y2="33.37" stroke="#6e6e6e" stroke-width="1.4" stroke-linecap="round"/><line x1="246.45" y1="33.37" x2="243.71" y2="33.24" stroke="#d8d8d8" stroke-width="1.4" stroke-linecap="round"/>
<circle cx="243.71" cy="33.24" r="1.9" fill="url(#gH)"/>
<circle cx="246" cy="33.5" r="1.8" fill="url(#gH)"/>
<line x1="254.7" y1="21.6" x2="269.6" y2="21.6" stroke="#6a6a6a" stroke-width="2.4" stroke-linecap="round"/>
<line x1="269.6" y1="21.6" x2="274.9" y2="34.9" stroke="#6a6a6a" stroke-width="2.4" stroke-linecap="round"/>
<line x1="274.9" y1="34.9" x2="269.6" y2="46.7" stroke="#6a6a6a" stroke-width="2.4" stroke-linecap="round"/>
<line x1="269.6" y1="46.7" x2="254.7" y2="46.7" stroke="#6a6a6a" stroke-width="2.4" stroke-linecap="round"/>
<line x1="254.7" y1="46.7" x2="249.2" y2="33.5" stroke="#6a6a6a" stroke-width="2.4" stroke-linecap="round"/>
<line x1="249.2" y1="33.5" x2="254.7" y2="21.6" stroke="#6a6a6a" stroke-width="2.4" stroke-linecap="round"/>
<circle cx="254.7" cy="21.6" r="2.9" fill="url(#gC)"/>
<circle cx="269.6" cy="21.6" r="2.9" fill="url(#gC)"/>
<circle cx="274.9" cy="34.9" r="2.9" fill="url(#gC)"/>
<circle cx="269.6" cy="46.7" r="2.9" fill="url(#gC)"/>
<circle cx="254.7" cy="46.7" r="2.9" fill="url(#gC)"/>
<circle cx="249.2" cy="33.5" r="2.9" fill="url(#gC)"/>
<line x1="254.7" y1="145.8" x2="253.3" y2="148.17" stroke="#6e6e6e" stroke-width="1.4" stroke-linecap="round"/><line x1="253.3" y1="148.17" x2="251.9" y2="150.53" stroke="#d8d8d8" stroke-width="1.4" stroke-linecap="round"/>
<circle cx="251.9" cy="150.53" r="1.9" fill="url(#gH)"/>
<circle cx="251.5" cy="145.8" r="1.8" fill="url(#gH)"/>
<line x1="269.6" y1="145.8" x2="271.01" y2="148.16" stroke="#6e6e6e" stroke-width="1.4" stroke-linecap="round"/><line x1="271.01" y1="148.16" x2="272.43" y2="150.52" stroke="#d8d8d8" stroke-width="1.4" stroke-linecap="round"/>
<circle cx="272.43" cy="150.52" r="1.9" fill="url(#gH)"/>
<circle cx="272.8" cy="145.8" r="1.8" fill="url(#gH)"/>
<line x1="274.9" y1="132.5" x2="277.64" y2="132.33" stroke="#6e6e6e" stroke-width="1.4" stroke-linecap="round"/><line x1="277.64" y1="132.33" x2="280.39" y2="132.16" stroke="#d8d8d8" stroke-width="1.4" stroke-linecap="round"/>
<circle cx="280.39" cy="132.16" r="1.9" fill="url(#gH)"/>
<circle cx="278.1" cy="132.5" r="1.8" fill="url(#gH)"/>
<line x1="269.6" y1="120.7" x2="271.01" y2="118.34" stroke="#6e6e6e" stroke-width="1.4" stroke-linecap="round"/><line x1="271.01" y1="118.34" x2="272.41" y2="115.97" stroke="#d8d8d8" stroke-width="1.4" stroke-linecap="round"/>
<circle cx="272.41" cy="115.97" r="1.9" fill="url(#gH)"/>
<circle cx="272.8" cy="120.7" r="1.8" fill="url(#gH)"/>
<line x1="254.7" y1="120.7" x2="253.31" y2="118.33" stroke="#6e6e6e" stroke-width="1.4" stroke-linecap="round"/><line x1="253.31" y1="118.33" x2="251.91" y2="115.96" stroke="#d8d8d8" stroke-width="1.4" stroke-linecap="round"/>
<circle cx="251.91" cy="115.96" r="1.9" fill="url(#gH)"/>
<circle cx="251.5" cy="120.7" r="1.8" fill="url(#gH)"/>
<line x1="249.2" y1="133.9" x2="246.45" y2="134.03" stroke="#6e6e6e" stroke-width="1.4" stroke-linecap="round"/><line x1="246.45" y1="134.03" x2="243.71" y2="134.16" stroke="#d8d8d8" stroke-width="1.4" stroke-linecap="round"/>
<circle cx="243.71" cy="134.16" r="1.9" fill="url(#gH)"/>
<circle cx="246" cy="133.9" r="1.8" fill="url(#gH)"/>
<line x1="254.7" y1="145.8" x2="269.6" y2="145.8" stroke="#6a6a6a" stroke-width="2.4" stroke-linecap="round"/>
<line x1="269.6" y1="145.8" x2="274.9" y2="132.5" stroke="#6a6a6a" stroke-width="2.4" stroke-linecap="round"/>
<line x1="274.9" y1="132.5" x2="269.6" y2="120.7" stroke="#6a6a6a" stroke-width="2.4" stroke-linecap="round"/>
<line x1="269.6" y1="120.7" x2="254.7" y2="120.7" stroke="#6a6a6a" stroke-width="2.4" stroke-linecap="round"/>
<line x1="254.7" y1="120.7" x2="249.2" y2="133.9" stroke="#6a6a6a" stroke-width="2.4" stroke-linecap="round"/>
<line x1="249.2" y1="133.9" x2="254.7" y2="145.8" stroke="#6a6a6a" stroke-width="2.4" stroke-linecap="round"/>
<circle cx="254.7" cy="145.8" r="2.9" fill="url(#gC)"/>
<circle cx="269.6" cy="145.8" r="2.9" fill="url(#gC)"/>
<circle cx="274.9" cy="132.5" r="2.9" fill="url(#gC)"/>
<circle cx="269.6" cy="120.7" r="2.9" fill="url(#gC)"/>
<circle cx="254.7" cy="120.7" r="2.9" fill="url(#gC)"/>
<circle cx="249.2" cy="133.9" r="2.9" fill="url(#gC)"/>
<line x1="309.9" y1="21.6" x2="311.3" y2="19.23" stroke="#6e6e6e" stroke-width="1.4" stroke-linecap="round"/><line x1="311.3" y1="19.23" x2="312.7" y2="16.87" stroke="#d8d8d8" stroke-width="1.4" stroke-linecap="round"/>
<circle cx="312.7" cy="16.87" r="1.9" fill="url(#gH)"/>
<circle cx="313.1" cy="21.6" r="1.8" fill="url(#gH)"/>
<line x1="295" y1="21.6" x2="293.59" y2="19.24" stroke="#6e6e6e" stroke-width="1.4" stroke-linecap="round"/><line x1="293.59" y1="19.24" x2="292.17" y2="16.88" stroke="#d8d8d8" stroke-width="1.4" stroke-linecap="round"/>
<circle cx="292.17" cy="16.88" r="1.9" fill="url(#gH)"/>
<circle cx="291.8" cy="21.6" r="1.8" fill="url(#gH)"/>
<line x1="289.7" y1="34.9" x2="286.96" y2="35.07" stroke="#6e6e6e" stroke-width="1.4" stroke-linecap="round"/><line x1="286.96" y1="35.07" x2="284.21" y2="35.24" stroke="#d8d8d8" stroke-width="1.4" stroke-linecap="round"/>
<circle cx="284.21" cy="35.24" r="1.9" fill="url(#gH)"/>
<circle cx="286.5" cy="34.9" r="1.8" fill="url(#gH)"/>
<line x1="295" y1="46.7" x2="293.59" y2="49.06" stroke="#6e6e6e" stroke-width="1.4" stroke-linecap="round"/><line x1="293.59" y1="49.06" x2="292.19" y2="51.43" stroke="#d8d8d8" stroke-width="1.4" stroke-linecap="round"/>
<circle cx="292.19" cy="51.43" r="1.9" fill="url(#gH)"/>
<circle cx="291.8" cy="46.7" r="1.8" fill="url(#gH)"/>
<line x1="309.9" y1="46.7" x2="311.29" y2="49.07" stroke="#6e6e6e" stroke-width="1.4" stroke-linecap="round"/><line x1="311.29" y1="49.07" x2="312.69" y2="51.44" stroke="#d8d8d8" stroke-width="1.4" stroke-linecap="round"/>
<circle cx="312.69" cy="51.44" r="1.9" fill="url(#gH)"/>
<circle cx="313.1" cy="46.7" r="1.8" fill="url(#gH)"/>
<line x1="315.4" y1="33.5" x2="318.15" y2="33.37" stroke="#6e6e6e" stroke-width="1.4" stroke-linecap="round"/><line x1="318.15" y1="33.37" x2="320.89" y2="33.24" stroke="#d8d8d8" stroke-width="1.4" stroke-linecap="round"/>
<circle cx="320.89" cy="33.24" r="1.9" fill="url(#gH)"/>
<circle cx="318.6" cy="33.5" r="1.8" fill="url(#gH)"/>
<line x1="309.9" y1="21.6" x2="295" y2="21.6" stroke="#6a6a6a" stroke-width="2.4" stroke-linecap="round"/>
<line x1="295" y1="21.6" x2="289.7" y2="34.9" stroke="#6a6a6a" stroke-width="2.4" stroke-linecap="round"/>
<line x1="289.7" y1="34.9" x2="295" y2="46.7" stroke="#6a6a6a" stroke-width="2.4" stroke-linecap="round"/>
<line x1="295" y1="46.7" x2="309.9" y2="46.7" stroke="#6a6a6a" stroke-width="2.4" stroke-linecap="round"/>
<line x1="309.9" y1="46.7" x2="315.4" y2="33.5" stroke="#6a6a6a" stroke-width="2.4" stroke-linecap="round"/>
<line x1="315.4" y1="33.5" x2="309.9" y2="21.6" stroke="#6a6a6a" stroke-width="2.4" stroke-linecap="round"/>
<circle cx="309.9" cy="21.6" r="2.9" fill="url(#gC)"/>
<circle cx="295" cy="21.6" r="2.9" fill="url(#gC)"/>
<circle cx="289.7" cy="34.9" r="2.9" fill="url(#gC)"/>
<circle cx="295" cy="46.7" r="2.9" fill="url(#gC)"/>
<circle cx="309.9" cy="46.7" r="2.9" fill="url(#gC)"/>
<circle cx="315.4" cy="33.5" r="2.9" fill="url(#gC)"/>
<line x1="309.9" y1="145.8" x2="311.3" y2="148.17" stroke="#6e6e6e" stroke-width="1.4" stroke-linecap="round"/><line x1="311.3" y1="148.17" x2="312.7" y2="150.53" stroke="#d8d8d8" stroke-width="1.4" stroke-linecap="round"/>
<circle cx="312.7" cy="150.53" r="1.9" fill="url(#gH)"/>
<circle cx="313.1" cy="145.8" r="1.8" fill="url(#gH)"/>
<line x1="295" y1="145.8" x2="293.59" y2="148.16" stroke="#6e6e6e" stroke-width="1.4" stroke-linecap="round"/><line x1="293.59" y1="148.16" x2="292.17" y2="150.52" stroke="#d8d8d8" stroke-width="1.4" stroke-linecap="round"/>
<circle cx="292.17" cy="150.52" r="1.9" fill="url(#gH)"/>
<circle cx="291.8" cy="145.8" r="1.8" fill="url(#gH)"/>
<line x1="289.7" y1="132.5" x2="286.96" y2="132.33" stroke="#6e6e6e" stroke-width="1.4" stroke-linecap="round"/><line x1="286.96" y1="132.33" x2="284.21" y2="132.16" stroke="#d8d8d8" stroke-width="1.4" stroke-linecap="round"/>
<circle cx="284.21" cy="132.16" r="1.9" fill="url(#gH)"/>
<circle cx="286.5" cy="132.5" r="1.8" fill="url(#gH)"/>
<line x1="295" y1="120.7" x2="293.59" y2="118.34" stroke="#6e6e6e" stroke-width="1.4" stroke-linecap="round"/><line x1="293.59" y1="118.34" x2="292.19" y2="115.97" stroke="#d8d8d8" stroke-width="1.4" stroke-linecap="round"/>
<circle cx="292.19" cy="115.97" r="1.9" fill="url(#gH)"/>
<circle cx="291.8" cy="120.7" r="1.8" fill="url(#gH)"/>
<line x1="309.9" y1="120.7" x2="311.29" y2="118.33" stroke="#6e6e6e" stroke-width="1.4" stroke-linecap="round"/><line x1="311.29" y1="118.33" x2="312.69" y2="115.96" stroke="#d8d8d8" stroke-width="1.4" stroke-linecap="round"/>
<circle cx="312.69" cy="115.96" r="1.9" fill="url(#gH)"/>
<circle cx="313.1" cy="120.7" r="1.8" fill="url(#gH)"/>
<line x1="315.4" y1="133.9" x2="318.15" y2="134.03" stroke="#6e6e6e" stroke-width="1.4" stroke-linecap="round"/><line x1="318.15" y1="134.03" x2="320.89" y2="134.16" stroke="#d8d8d8" stroke-width="1.4" stroke-linecap="round"/>
<circle cx="320.89" cy="134.16" r="1.9" fill="url(#gH)"/>
<circle cx="318.6" cy="133.9" r="1.8" fill="url(#gH)"/>
<line x1="309.9" y1="145.8" x2="295" y2="145.8" stroke="#6a6a6a" stroke-width="2.4" stroke-linecap="round"/>
<line x1="295" y1="145.8" x2="289.7" y2="132.5" stroke="#6a6a6a" stroke-width="2.4" stroke-linecap="round"/>
<line x1="289.7" y1="132.5" x2="295" y2="120.7" stroke="#6a6a6a" stroke-width="2.4" stroke-linecap="round"/>
<line x1="295" y1="120.7" x2="309.9" y2="120.7" stroke="#6a6a6a" stroke-width="2.4" stroke-linecap="round"/>
<line x1="309.9" y1="120.7" x2="315.4" y2="133.9" stroke="#6a6a6a" stroke-width="2.4" stroke-linecap="round"/>
<line x1="315.4" y1="133.9" x2="309.9" y2="145.8" stroke="#6a6a6a" stroke-width="2.4" stroke-linecap="round"/>
<circle cx="309.9" cy="145.8" r="2.9" fill="url(#gC)"/>
<circle cx="295" cy="145.8" r="2.9" fill="url(#gC)"/>
<circle cx="289.7" cy="132.5" r="2.9" fill="url(#gC)"/>
<circle cx="295" cy="120.7" r="2.9" fill="url(#gC)"/>
<circle cx="309.9" cy="120.7" r="2.9" fill="url(#gC)"/>
<circle cx="315.4" cy="133.9" r="2.9" fill="url(#gC)"/>
<line x1="345.2" y1="21.6" x2="343.8" y2="19.23" stroke="#6e6e6e" stroke-width="1.4" stroke-linecap="round"/><line x1="343.8" y1="19.23" x2="342.4" y2="16.87" stroke="#d8d8d8" stroke-width="1.4" stroke-linecap="round"/>
<circle cx="342.4" cy="16.87" r="1.9" fill="url(#gH)"/>
<circle cx="342" cy="21.6" r="1.8" fill="url(#gH)"/>
<line x1="360.1" y1="21.6" x2="361.51" y2="19.24" stroke="#6e6e6e" stroke-width="1.4" stroke-linecap="round"/><line x1="361.51" y1="19.24" x2="362.93" y2="16.88" stroke="#d8d8d8" stroke-width="1.4" stroke-linecap="round"/>
<circle cx="362.93" cy="16.88" r="1.9" fill="url(#gH)"/>
<circle cx="363.3" cy="21.6" r="1.8" fill="url(#gH)"/>
<line x1="365.4" y1="34.9" x2="368.14" y2="35.07" stroke="#6e6e6e" stroke-width="1.4" stroke-linecap="round"/><line x1="368.14" y1="35.07" x2="370.89" y2="35.24" stroke="#d8d8d8" stroke-width="1.4" stroke-linecap="round"/>
<circle cx="370.89" cy="35.24" r="1.9" fill="url(#gH)"/>
<circle cx="368.6" cy="34.9" r="1.8" fill="url(#gH)"/>
<line x1="360.1" y1="46.7" x2="361.51" y2="49.06" stroke="#6e6e6e" stroke-width="1.4" stroke-linecap="round"/><line x1="361.51" y1="49.06" x2="362.91" y2="51.43" stroke="#d8d8d8" stroke-width="1.4" stroke-linecap="round"/>
<circle cx="362.91" cy="51.43" r="1.9" fill="url(#gH)"/>
<circle cx="363.3" cy="46.7" r="1.8" fill="url(#gH)"/>
<line x1="345.2" y1="46.7" x2="343.81" y2="49.07" stroke="#6e6e6e" stroke-width="1.4" stroke-linecap="round"/><line x1="343.81" y1="49.07" x2="342.41" y2="51.44" stroke="#d8d8d8" stroke-width="1.4" stroke-linecap="round"/>
<circle cx="342.41" cy="51.44" r="1.9" fill="url(#gH)"/>
<circle cx="342" cy="46.7" r="1.8" fill="url(#gH)"/>
<line x1="339.7" y1="33.5" x2="336.95" y2="33.37" stroke="#6e6e6e" stroke-width="1.4" stroke-linecap="round"/><line x1="336.95" y1="33.37" x2="334.21" y2="33.24" stroke="#d8d8d8" stroke-width="1.4" stroke-linecap="round"/>
<circle cx="334.21" cy="33.24" r="1.9" fill="url(#gH)"/>
<circle cx="336.5" cy="33.5" r="1.8" fill="url(#gH)"/>
<line x1="345.2" y1="21.6" x2="360.1" y2="21.6" stroke="#6a6a6a" stroke-width="2.4" stroke-linecap="round"/>
<line x1="360.1" y1="21.6" x2="365.4" y2="34.9" stroke="#6a6a6a" stroke-width="2.4" stroke-linecap="round"/>
<line x1="365.4" y1="34.9" x2="360.1" y2="46.7" stroke="#6a6a6a" stroke-width="2.4" stroke-linecap="round"/>
<line x1="360.1" y1="46.7" x2="345.2" y2="46.7" stroke="#6a6a6a" stroke-width="2.4" stroke-linecap="round"/>
<line x1="345.2" y1="46.7" x2="339.7" y2="33.5" stroke="#6a6a6a" stroke-width="2.4" stroke-linecap="round"/>
<line x1="339.7" y1="33.5" x2="345.2" y2="21.6" stroke="#6a6a6a" stroke-width="2.4" stroke-linecap="round"/>
<circle cx="345.2" cy="21.6" r="2.9" fill="url(#gC)"/>
<circle cx="360.1" cy="21.6" r="2.9" fill="url(#gC)"/>
<circle cx="365.4" cy="34.9" r="2.9" fill="url(#gC)"/>
<circle cx="360.1" cy="46.7" r="2.9" fill="url(#gC)"/>
<circle cx="345.2" cy="46.7" r="2.9" fill="url(#gC)"/>
<circle cx="339.7" cy="33.5" r="2.9" fill="url(#gC)"/>
<line x1="345.2" y1="145.8" x2="343.8" y2="148.17" stroke="#6e6e6e" stroke-width="1.4" stroke-linecap="round"/><line x1="343.8" y1="148.17" x2="342.4" y2="150.53" stroke="#d8d8d8" stroke-width="1.4" stroke-linecap="round"/>
<circle cx="342.4" cy="150.53" r="1.9" fill="url(#gH)"/>
<circle cx="342" cy="145.8" r="1.8" fill="url(#gH)"/>
<line x1="360.1" y1="145.8" x2="361.51" y2="148.16" stroke="#6e6e6e" stroke-width="1.4" stroke-linecap="round"/><line x1="361.51" y1="148.16" x2="362.93" y2="150.52" stroke="#d8d8d8" stroke-width="1.4" stroke-linecap="round"/>
<circle cx="362.93" cy="150.52" r="1.9" fill="url(#gH)"/>
<circle cx="363.3" cy="145.8" r="1.8" fill="url(#gH)"/>
<line x1="365.4" y1="132.5" x2="368.14" y2="132.33" stroke="#6e6e6e" stroke-width="1.4" stroke-linecap="round"/><line x1="368.14" y1="132.33" x2="370.89" y2="132.16" stroke="#d8d8d8" stroke-width="1.4" stroke-linecap="round"/>
<circle cx="370.89" cy="132.16" r="1.9" fill="url(#gH)"/>
<circle cx="368.6" cy="132.5" r="1.8" fill="url(#gH)"/>
<line x1="360.1" y1="120.7" x2="361.51" y2="118.34" stroke="#6e6e6e" stroke-width="1.4" stroke-linecap="round"/><line x1="361.51" y1="118.34" x2="362.91" y2="115.97" stroke="#d8d8d8" stroke-width="1.4" stroke-linecap="round"/>
<circle cx="362.91" cy="115.97" r="1.9" fill="url(#gH)"/>
<circle cx="363.3" cy="120.7" r="1.8" fill="url(#gH)"/>
<line x1="345.2" y1="120.7" x2="343.81" y2="118.33" stroke="#6e6e6e" stroke-width="1.4" stroke-linecap="round"/><line x1="343.81" y1="118.33" x2="342.41" y2="115.96" stroke="#d8d8d8" stroke-width="1.4" stroke-linecap="round"/>
<circle cx="342.41" cy="115.96" r="1.9" fill="url(#gH)"/>
<circle cx="342" cy="120.7" r="1.8" fill="url(#gH)"/>
<line x1="339.7" y1="133.9" x2="336.95" y2="134.03" stroke="#6e6e6e" stroke-width="1.4" stroke-linecap="round"/><line x1="336.95" y1="134.03" x2="334.21" y2="134.16" stroke="#d8d8d8" stroke-width="1.4" stroke-linecap="round"/>
<circle cx="334.21" cy="134.16" r="1.9" fill="url(#gH)"/>
<circle cx="336.5" cy="133.9" r="1.8" fill="url(#gH)"/>
<line x1="345.2" y1="145.8" x2="360.1" y2="145.8" stroke="#6a6a6a" stroke-width="2.4" stroke-linecap="round"/>
<line x1="360.1" y1="145.8" x2="365.4" y2="132.5" stroke="#6a6a6a" stroke-width="2.4" stroke-linecap="round"/>
<line x1="365.4" y1="132.5" x2="360.1" y2="120.7" stroke="#6a6a6a" stroke-width="2.4" stroke-linecap="round"/>
<line x1="360.1" y1="120.7" x2="345.2" y2="120.7" stroke="#6a6a6a" stroke-width="2.4" stroke-linecap="round"/>
<line x1="345.2" y1="120.7" x2="339.7" y2="133.9" stroke="#6a6a6a" stroke-width="2.4" stroke-linecap="round"/>
<line x1="339.7" y1="133.9" x2="345.2" y2="145.8" stroke="#6a6a6a" stroke-width="2.4" stroke-linecap="round"/>
<circle cx="345.2" cy="145.8" r="2.9" fill="url(#gC)"/>
<circle cx="360.1" cy="145.8" r="2.9" fill="url(#gC)"/>
<circle cx="365.4" cy="132.5" r="2.9" fill="url(#gC)"/>
<circle cx="360.1" cy="120.7" r="2.9" fill="url(#gC)"/>
<circle cx="345.2" cy="120.7" r="2.9" fill="url(#gC)"/>
<circle cx="339.7" cy="133.9" r="2.9" fill="url(#gC)"/>
<line x1="400.4" y1="21.6" x2="401.8" y2="19.23" stroke="#6e6e6e" stroke-width="1.4" stroke-linecap="round"/><line x1="401.8" y1="19.23" x2="403.2" y2="16.87" stroke="#d8d8d8" stroke-width="1.4" stroke-linecap="round"/>
<circle cx="403.2" cy="16.87" r="1.9" fill="url(#gH)"/>
<circle cx="403.6" cy="21.6" r="1.8" fill="url(#gH)"/>
<line x1="385.5" y1="21.6" x2="384.09" y2="19.24" stroke="#6e6e6e" stroke-width="1.4" stroke-linecap="round"/><line x1="384.09" y1="19.24" x2="382.67" y2="16.88" stroke="#d8d8d8" stroke-width="1.4" stroke-linecap="round"/>
<circle cx="382.67" cy="16.88" r="1.9" fill="url(#gH)"/>
<circle cx="382.3" cy="21.6" r="1.8" fill="url(#gH)"/>
<line x1="380.2" y1="34.9" x2="377.46" y2="35.07" stroke="#6e6e6e" stroke-width="1.4" stroke-linecap="round"/><line x1="377.46" y1="35.07" x2="374.71" y2="35.24" stroke="#d8d8d8" stroke-width="1.4" stroke-linecap="round"/>
<circle cx="374.71" cy="35.24" r="1.9" fill="url(#gH)"/>
<circle cx="377" cy="34.9" r="1.8" fill="url(#gH)"/>
<line x1="385.5" y1="46.7" x2="384.09" y2="49.06" stroke="#6e6e6e" stroke-width="1.4" stroke-linecap="round"/><line x1="384.09" y1="49.06" x2="382.69" y2="51.43" stroke="#d8d8d8" stroke-width="1.4" stroke-linecap="round"/>
<circle cx="382.69" cy="51.43" r="1.9" fill="url(#gH)"/>
<circle cx="382.3" cy="46.7" r="1.8" fill="url(#gH)"/>
<line x1="400.4" y1="46.7" x2="401.79" y2="49.07" stroke="#6e6e6e" stroke-width="1.4" stroke-linecap="round"/><line x1="401.79" y1="49.07" x2="403.19" y2="51.44" stroke="#d8d8d8" stroke-width="1.4" stroke-linecap="round"/>
<circle cx="403.19" cy="51.44" r="1.9" fill="url(#gH)"/>
<circle cx="403.6" cy="46.7" r="1.8" fill="url(#gH)"/>
<line x1="405.9" y1="33.5" x2="408.65" y2="33.37" stroke="#6e6e6e" stroke-width="1.4" stroke-linecap="round"/><line x1="408.65" y1="33.37" x2="411.39" y2="33.24" stroke="#d8d8d8" stroke-width="1.4" stroke-linecap="round"/>
<circle cx="411.39" cy="33.24" r="1.9" fill="url(#gH)"/>
<circle cx="409.1" cy="33.5" r="1.8" fill="url(#gH)"/>
<line x1="400.4" y1="21.6" x2="385.5" y2="21.6" stroke="#6a6a6a" stroke-width="2.4" stroke-linecap="round"/>
<line x1="385.5" y1="21.6" x2="380.2" y2="34.9" stroke="#6a6a6a" stroke-width="2.4" stroke-linecap="round"/>
<line x1="380.2" y1="34.9" x2="385.5" y2="46.7" stroke="#6a6a6a" stroke-width="2.4" stroke-linecap="round"/>
<line x1="385.5" y1="46.7" x2="400.4" y2="46.7" stroke="#6a6a6a" stroke-width="2.4" stroke-linecap="round"/>
<line x1="400.4" y1="46.7" x2="405.9" y2="33.5" stroke="#6a6a6a" stroke-width="2.4" stroke-linecap="round"/>
<line x1="405.9" y1="33.5" x2="400.4" y2="21.6" stroke="#6a6a6a" stroke-width="2.4" stroke-linecap="round"/>
<circle cx="400.4" cy="21.6" r="2.9" fill="url(#gC)"/>
<circle cx="385.5" cy="21.6" r="2.9" fill="url(#gC)"/>
<circle cx="380.2" cy="34.9" r="2.9" fill="url(#gC)"/>
<circle cx="385.5" cy="46.7" r="2.9" fill="url(#gC)"/>
<circle cx="400.4" cy="46.7" r="2.9" fill="url(#gC)"/>
<circle cx="405.9" cy="33.5" r="2.9" fill="url(#gC)"/>
<line x1="400.4" y1="145.8" x2="401.8" y2="148.17" stroke="#6e6e6e" stroke-width="1.4" stroke-linecap="round"/><line x1="401.8" y1="148.17" x2="403.2" y2="150.53" stroke="#d8d8d8" stroke-width="1.4" stroke-linecap="round"/>
<circle cx="403.2" cy="150.53" r="1.9" fill="url(#gH)"/>
<circle cx="403.6" cy="145.8" r="1.8" fill="url(#gH)"/>
<line x1="385.5" y1="145.8" x2="384.09" y2="148.16" stroke="#6e6e6e" stroke-width="1.4" stroke-linecap="round"/><line x1="384.09" y1="148.16" x2="382.67" y2="150.52" stroke="#d8d8d8" stroke-width="1.4" stroke-linecap="round"/>
<circle cx="382.67" cy="150.52" r="1.9" fill="url(#gH)"/>
<circle cx="382.3" cy="145.8" r="1.8" fill="url(#gH)"/>
<line x1="380.2" y1="132.5" x2="377.46" y2="132.33" stroke="#6e6e6e" stroke-width="1.4" stroke-linecap="round"/><line x1="377.46" y1="132.33" x2="374.71" y2="132.16" stroke="#d8d8d8" stroke-width="1.4" stroke-linecap="round"/>
<circle cx="374.71" cy="132.16" r="1.9" fill="url(#gH)"/>
<circle cx="377" cy="132.5" r="1.8" fill="url(#gH)"/>
<line x1="385.5" y1="120.7" x2="384.09" y2="118.34" stroke="#6e6e6e" stroke-width="1.4" stroke-linecap="round"/><line x1="384.09" y1="118.34" x2="382.69" y2="115.97" stroke="#d8d8d8" stroke-width="1.4" stroke-linecap="round"/>
<circle cx="382.69" cy="115.97" r="1.9" fill="url(#gH)"/>
<circle cx="382.3" cy="120.7" r="1.8" fill="url(#gH)"/>
<line x1="400.4" y1="120.7" x2="401.79" y2="118.33" stroke="#6e6e6e" stroke-width="1.4" stroke-linecap="round"/><line x1="401.79" y1="118.33" x2="403.19" y2="115.96" stroke="#d8d8d8" stroke-width="1.4" stroke-linecap="round"/>
<circle cx="403.19" cy="115.96" r="1.9" fill="url(#gH)"/>
<circle cx="403.6" cy="120.7" r="1.8" fill="url(#gH)"/>
<line x1="405.9" y1="133.9" x2="408.65" y2="134.03" stroke="#6e6e6e" stroke-width="1.4" stroke-linecap="round"/><line x1="408.65" y1="134.03" x2="411.39" y2="134.16" stroke="#d8d8d8" stroke-width="1.4" stroke-linecap="round"/>
<circle cx="411.39" cy="134.16" r="1.9" fill="url(#gH)"/>
<circle cx="409.1" cy="133.9" r="1.8" fill="url(#gH)"/>
<line x1="400.4" y1="145.8" x2="385.5" y2="145.8" stroke="#6a6a6a" stroke-width="2.4" stroke-linecap="round"/>
<line x1="385.5" y1="145.8" x2="380.2" y2="132.5" stroke="#6a6a6a" stroke-width="2.4" stroke-linecap="round"/>
<line x1="380.2" y1="132.5" x2="385.5" y2="120.7" stroke="#6a6a6a" stroke-width="2.4" stroke-linecap="round"/>
<line x1="385.5" y1="120.7" x2="400.4" y2="120.7" stroke="#6a6a6a" stroke-width="2.4" stroke-linecap="round"/>
<line x1="400.4" y1="120.7" x2="405.9" y2="133.9" stroke="#6a6a6a" stroke-width="2.4" stroke-linecap="round"/>
<line x1="405.9" y1="133.9" x2="400.4" y2="145.8" stroke="#6a6a6a" stroke-width="2.4" stroke-linecap="round"/>
<circle cx="400.4" cy="145.8" r="2.9" fill="url(#gC)"/>
<circle cx="385.5" cy="145.8" r="2.9" fill="url(#gC)"/>
<circle cx="380.2" cy="132.5" r="2.9" fill="url(#gC)"/>
<circle cx="385.5" cy="120.7" r="2.9" fill="url(#gC)"/>
<circle cx="400.4" cy="120.7" r="2.9" fill="url(#gC)"/>
<circle cx="405.9" cy="133.9" r="2.9" fill="url(#gC)"/>
<line x1="435.7" y1="21.6" x2="434.3" y2="19.23" stroke="#6e6e6e" stroke-width="1.4" stroke-linecap="round"/><line x1="434.3" y1="19.23" x2="432.9" y2="16.87" stroke="#d8d8d8" stroke-width="1.4" stroke-linecap="round"/>
<circle cx="432.9" cy="16.87" r="1.9" fill="url(#gH)"/>
<circle cx="432.5" cy="21.6" r="1.8" fill="url(#gH)"/>
<line x1="450.6" y1="21.6" x2="452.01" y2="19.24" stroke="#6e6e6e" stroke-width="1.4" stroke-linecap="round"/><line x1="452.01" y1="19.24" x2="453.43" y2="16.88" stroke="#d8d8d8" stroke-width="1.4" stroke-linecap="round"/>
<circle cx="453.43" cy="16.88" r="1.9" fill="url(#gH)"/>
<circle cx="453.8" cy="21.6" r="1.8" fill="url(#gH)"/>
<line x1="455.9" y1="34.9" x2="458.64" y2="35.07" stroke="#6e6e6e" stroke-width="1.4" stroke-linecap="round"/><line x1="458.64" y1="35.07" x2="461.39" y2="35.24" stroke="#d8d8d8" stroke-width="1.4" stroke-linecap="round"/>
<circle cx="461.39" cy="35.24" r="1.9" fill="url(#gH)"/>
<circle cx="459.1" cy="34.9" r="1.8" fill="url(#gH)"/>
<line x1="450.6" y1="46.7" x2="452.01" y2="49.06" stroke="#6e6e6e" stroke-width="1.4" stroke-linecap="round"/><line x1="452.01" y1="49.06" x2="453.41" y2="51.43" stroke="#d8d8d8" stroke-width="1.4" stroke-linecap="round"/>
<circle cx="453.41" cy="51.43" r="1.9" fill="url(#gH)"/>
<circle cx="453.8" cy="46.7" r="1.8" fill="url(#gH)"/>
<line x1="435.7" y1="46.7" x2="434.31" y2="49.07" stroke="#6e6e6e" stroke-width="1.4" stroke-linecap="round"/><line x1="434.31" y1="49.07" x2="432.91" y2="51.44" stroke="#d8d8d8" stroke-width="1.4" stroke-linecap="round"/>
<circle cx="432.91" cy="51.44" r="1.9" fill="url(#gH)"/>
<circle cx="432.5" cy="46.7" r="1.8" fill="url(#gH)"/>
<line x1="430.2" y1="33.5" x2="427.45" y2="33.37" stroke="#6e6e6e" stroke-width="1.4" stroke-linecap="round"/><line x1="427.45" y1="33.37" x2="424.71" y2="33.24" stroke="#d8d8d8" stroke-width="1.4" stroke-linecap="round"/>
<circle cx="424.71" cy="33.24" r="1.9" fill="url(#gH)"/>
<circle cx="427" cy="33.5" r="1.8" fill="url(#gH)"/>
<line x1="435.7" y1="21.6" x2="450.6" y2="21.6" stroke="#6a6a6a" stroke-width="2.4" stroke-linecap="round"/>
<line x1="450.6" y1="21.6" x2="455.9" y2="34.9" stroke="#6a6a6a" stroke-width="2.4" stroke-linecap="round"/>
<line x1="455.9" y1="34.9" x2="450.6" y2="46.7" stroke="#6a6a6a" stroke-width="2.4" stroke-linecap="round"/>
<line x1="450.6" y1="46.7" x2="435.7" y2="46.7" stroke="#6a6a6a" stroke-width="2.4" stroke-linecap="round"/>
<line x1="435.7" y1="46.7" x2="430.2" y2="33.5" stroke="#6a6a6a" stroke-width="2.4" stroke-linecap="round"/>
<line x1="430.2" y1="33.5" x2="435.7" y2="21.6" stroke="#6a6a6a" stroke-width="2.4" stroke-linecap="round"/>
<circle cx="435.7" cy="21.6" r="2.9" fill="url(#gC)"/>
<circle cx="450.6" cy="21.6" r="2.9" fill="url(#gC)"/>
<circle cx="455.9" cy="34.9" r="2.9" fill="url(#gC)"/>
<circle cx="450.6" cy="46.7" r="2.9" fill="url(#gC)"/>
<circle cx="435.7" cy="46.7" r="2.9" fill="url(#gC)"/>
<circle cx="430.2" cy="33.5" r="2.9" fill="url(#gC)"/>
<line x1="435.7" y1="145.8" x2="434.3" y2="148.17" stroke="#6e6e6e" stroke-width="1.4" stroke-linecap="round"/><line x1="434.3" y1="148.17" x2="432.9" y2="150.53" stroke="#d8d8d8" stroke-width="1.4" stroke-linecap="round"/>
<circle cx="432.9" cy="150.53" r="1.9" fill="url(#gH)"/>
<circle cx="432.5" cy="145.8" r="1.8" fill="url(#gH)"/>
<line x1="450.6" y1="145.8" x2="452.01" y2="148.16" stroke="#6e6e6e" stroke-width="1.4" stroke-linecap="round"/><line x1="452.01" y1="148.16" x2="453.43" y2="150.52" stroke="#d8d8d8" stroke-width="1.4" stroke-linecap="round"/>
<circle cx="453.43" cy="150.52" r="1.9" fill="url(#gH)"/>
<circle cx="453.8" cy="145.8" r="1.8" fill="url(#gH)"/>
<line x1="455.9" y1="132.5" x2="458.64" y2="132.33" stroke="#6e6e6e" stroke-width="1.4" stroke-linecap="round"/><line x1="458.64" y1="132.33" x2="461.39" y2="132.16" stroke="#d8d8d8" stroke-width="1.4" stroke-linecap="round"/>
<circle cx="461.39" cy="132.16" r="1.9" fill="url(#gH)"/>
<circle cx="459.1" cy="132.5" r="1.8" fill="url(#gH)"/>
<line x1="450.6" y1="120.7" x2="452.01" y2="118.34" stroke="#6e6e6e" stroke-width="1.4" stroke-linecap="round"/><line x1="452.01" y1="118.34" x2="453.41" y2="115.97" stroke="#d8d8d8" stroke-width="1.4" stroke-linecap="round"/>
<circle cx="453.41" cy="115.97" r="1.9" fill="url(#gH)"/>
<circle cx="453.8" cy="120.7" r="1.8" fill="url(#gH)"/>
<line x1="435.7" y1="120.7" x2="434.31" y2="118.33" stroke="#6e6e6e" stroke-width="1.4" stroke-linecap="round"/><line x1="434.31" y1="118.33" x2="432.91" y2="115.96" stroke="#d8d8d8" stroke-width="1.4" stroke-linecap="round"/>
<circle cx="432.91" cy="115.96" r="1.9" fill="url(#gH)"/>
<circle cx="432.5" cy="120.7" r="1.8" fill="url(#gH)"/>
<line x1="430.2" y1="133.9" x2="427.45" y2="134.03" stroke="#6e6e6e" stroke-width="1.4" stroke-linecap="round"/><line x1="427.45" y1="134.03" x2="424.71" y2="134.16" stroke="#d8d8d8" stroke-width="1.4" stroke-linecap="round"/>
<circle cx="424.71" cy="134.16" r="1.9" fill="url(#gH)"/>
<circle cx="427" cy="133.9" r="1.8" fill="url(#gH)"/>
<line x1="435.7" y1="145.8" x2="450.6" y2="145.8" stroke="#6a6a6a" stroke-width="2.4" stroke-linecap="round"/>
<line x1="450.6" y1="145.8" x2="455.9" y2="132.5" stroke="#6a6a6a" stroke-width="2.4" stroke-linecap="round"/>
<line x1="455.9" y1="132.5" x2="450.6" y2="120.7" stroke="#6a6a6a" stroke-width="2.4" stroke-linecap="round"/>
<line x1="450.6" y1="120.7" x2="435.7" y2="120.7" stroke="#6a6a6a" stroke-width="2.4" stroke-linecap="round"/>
<line x1="435.7" y1="120.7" x2="430.2" y2="133.9" stroke="#6a6a6a" stroke-width="2.4" stroke-linecap="round"/>
<line x1="430.2" y1="133.9" x2="435.7" y2="145.8" stroke="#6a6a6a" stroke-width="2.4" stroke-linecap="round"/>
<circle cx="435.7" cy="145.8" r="2.9" fill="url(#gC)"/>
<circle cx="450.6" cy="145.8" r="2.9" fill="url(#gC)"/>
<circle cx="455.9" cy="132.5" r="2.9" fill="url(#gC)"/>
<circle cx="450.6" cy="120.7" r="2.9" fill="url(#gC)"/>
<circle cx="435.7" cy="120.7" r="2.9" fill="url(#gC)"/>
<circle cx="430.2" cy="133.9" r="2.9" fill="url(#gC)"/>
<line x1="490.9" y1="21.6" x2="492.3" y2="19.23" stroke="#6e6e6e" stroke-width="1.4" stroke-linecap="round"/><line x1="492.3" y1="19.23" x2="493.7" y2="16.87" stroke="#d8d8d8" stroke-width="1.4" stroke-linecap="round"/>
<circle cx="493.7" cy="16.87" r="1.9" fill="url(#gH)"/>
<circle cx="494.1" cy="21.6" r="1.8" fill="url(#gH)"/>
<line x1="476" y1="21.6" x2="474.59" y2="19.24" stroke="#6e6e6e" stroke-width="1.4" stroke-linecap="round"/><line x1="474.59" y1="19.24" x2="473.17" y2="16.88" stroke="#d8d8d8" stroke-width="1.4" stroke-linecap="round"/>
<circle cx="473.17" cy="16.88" r="1.9" fill="url(#gH)"/>
<circle cx="472.8" cy="21.6" r="1.8" fill="url(#gH)"/>
<line x1="470.7" y1="34.9" x2="467.96" y2="35.07" stroke="#6e6e6e" stroke-width="1.4" stroke-linecap="round"/><line x1="467.96" y1="35.07" x2="465.21" y2="35.24" stroke="#d8d8d8" stroke-width="1.4" stroke-linecap="round"/>
<circle cx="465.21" cy="35.24" r="1.9" fill="url(#gH)"/>
<circle cx="467.5" cy="34.9" r="1.8" fill="url(#gH)"/>
<line x1="476" y1="46.7" x2="474.59" y2="49.06" stroke="#6e6e6e" stroke-width="1.4" stroke-linecap="round"/><line x1="474.59" y1="49.06" x2="473.19" y2="51.43" stroke="#d8d8d8" stroke-width="1.4" stroke-linecap="round"/>
<circle cx="473.19" cy="51.43" r="1.9" fill="url(#gH)"/>
<circle cx="472.8" cy="46.7" r="1.8" fill="url(#gH)"/>
<line x1="490.9" y1="46.7" x2="492.29" y2="49.07" stroke="#6e6e6e" stroke-width="1.4" stroke-linecap="round"/><line x1="492.29" y1="49.07" x2="493.69" y2="51.44" stroke="#d8d8d8" stroke-width="1.4" stroke-linecap="round"/>
<circle cx="493.69" cy="51.44" r="1.9" fill="url(#gH)"/>
<circle cx="494.1" cy="46.7" r="1.8" fill="url(#gH)"/>
<line x1="496.4" y1="33.5" x2="499.15" y2="33.37" stroke="#6e6e6e" stroke-width="1.4" stroke-linecap="round"/><line x1="499.15" y1="33.37" x2="501.89" y2="33.24" stroke="#d8d8d8" stroke-width="1.4" stroke-linecap="round"/>
<circle cx="501.89" cy="33.24" r="1.9" fill="url(#gH)"/>
<circle cx="499.6" cy="33.5" r="1.8" fill="url(#gH)"/>
<line x1="490.9" y1="21.6" x2="476" y2="21.6" stroke="#6a6a6a" stroke-width="2.4" stroke-linecap="round"/>
<line x1="476" y1="21.6" x2="470.7" y2="34.9" stroke="#6a6a6a" stroke-width="2.4" stroke-linecap="round"/>
<line x1="470.7" y1="34.9" x2="476" y2="46.7" stroke="#6a6a6a" stroke-width="2.4" stroke-linecap="round"/>
<line x1="476" y1="46.7" x2="490.9" y2="46.7" stroke="#6a6a6a" stroke-width="2.4" stroke-linecap="round"/>
<line x1="490.9" y1="46.7" x2="496.4" y2="33.5" stroke="#6a6a6a" stroke-width="2.4" stroke-linecap="round"/>
<line x1="496.4" y1="33.5" x2="490.9" y2="21.6" stroke="#6a6a6a" stroke-width="2.4" stroke-linecap="round"/>
<circle cx="490.9" cy="21.6" r="2.9" fill="url(#gC)"/>
<circle cx="476" cy="21.6" r="2.9" fill="url(#gC)"/>
<circle cx="470.7" cy="34.9" r="2.9" fill="url(#gC)"/>
<circle cx="476" cy="46.7" r="2.9" fill="url(#gC)"/>
<circle cx="490.9" cy="46.7" r="2.9" fill="url(#gC)"/>
<circle cx="496.4" cy="33.5" r="2.9" fill="url(#gC)"/>
<line x1="490.9" y1="145.8" x2="492.3" y2="148.17" stroke="#6e6e6e" stroke-width="1.4" stroke-linecap="round"/><line x1="492.3" y1="148.17" x2="493.7" y2="150.53" stroke="#d8d8d8" stroke-width="1.4" stroke-linecap="round"/>
<circle cx="493.7" cy="150.53" r="1.9" fill="url(#gH)"/>
<circle cx="494.1" cy="145.8" r="1.8" fill="url(#gH)"/>
<line x1="476" y1="145.8" x2="474.59" y2="148.16" stroke="#6e6e6e" stroke-width="1.4" stroke-linecap="round"/><line x1="474.59" y1="148.16" x2="473.17" y2="150.52" stroke="#d8d8d8" stroke-width="1.4" stroke-linecap="round"/>
<circle cx="473.17" cy="150.52" r="1.9" fill="url(#gH)"/>
<circle cx="472.8" cy="145.8" r="1.8" fill="url(#gH)"/>
<line x1="470.7" y1="132.5" x2="467.96" y2="132.33" stroke="#6e6e6e" stroke-width="1.4" stroke-linecap="round"/><line x1="467.96" y1="132.33" x2="465.21" y2="132.16" stroke="#d8d8d8" stroke-width="1.4" stroke-linecap="round"/>
<circle cx="465.21" cy="132.16" r="1.9" fill="url(#gH)"/>
<circle cx="467.5" cy="132.5" r="1.8" fill="url(#gH)"/>
<line x1="476" y1="120.7" x2="474.59" y2="118.34" stroke="#6e6e6e" stroke-width="1.4" stroke-linecap="round"/><line x1="474.59" y1="118.34" x2="473.19" y2="115.97" stroke="#d8d8d8" stroke-width="1.4" stroke-linecap="round"/>
<circle cx="473.19" cy="115.97" r="1.9" fill="url(#gH)"/>
<circle cx="472.8" cy="120.7" r="1.8" fill="url(#gH)"/>
<line x1="490.9" y1="120.7" x2="492.29" y2="118.33" stroke="#6e6e6e" stroke-width="1.4" stroke-linecap="round"/><line x1="492.29" y1="118.33" x2="493.69" y2="115.96" stroke="#d8d8d8" stroke-width="1.4" stroke-linecap="round"/>
<circle cx="493.69" cy="115.96" r="1.9" fill="url(#gH)"/>
<circle cx="494.1" cy="120.7" r="1.8" fill="url(#gH)"/>
<line x1="496.4" y1="133.9" x2="499.15" y2="134.03" stroke="#6e6e6e" stroke-width="1.4" stroke-linecap="round"/><line x1="499.15" y1="134.03" x2="501.89" y2="134.16" stroke="#d8d8d8" stroke-width="1.4" stroke-linecap="round"/>
<circle cx="501.89" cy="134.16" r="1.9" fill="url(#gH)"/>
<circle cx="499.6" cy="133.9" r="1.8" fill="url(#gH)"/>
<line x1="490.9" y1="145.8" x2="476" y2="145.8" stroke="#6a6a6a" stroke-width="2.4" stroke-linecap="round"/>
<line x1="476" y1="145.8" x2="470.7" y2="132.5" stroke="#6a6a6a" stroke-width="2.4" stroke-linecap="round"/>
<line x1="470.7" y1="132.5" x2="476" y2="120.7" stroke="#6a6a6a" stroke-width="2.4" stroke-linecap="round"/>
<line x1="476" y1="120.7" x2="490.9" y2="120.7" stroke="#6a6a6a" stroke-width="2.4" stroke-linecap="round"/>
<line x1="490.9" y1="120.7" x2="496.4" y2="133.9" stroke="#6a6a6a" stroke-width="2.4" stroke-linecap="round"/>
<line x1="496.4" y1="133.9" x2="490.9" y2="145.8" stroke="#6a6a6a" stroke-width="2.4" stroke-linecap="round"/>
<circle cx="490.9" cy="145.8" r="2.9" fill="url(#gC)"/>
<circle cx="476" cy="145.8" r="2.9" fill="url(#gC)"/>
<circle cx="470.7" cy="132.5" r="2.9" fill="url(#gC)"/>
<circle cx="476" cy="120.7" r="2.9" fill="url(#gC)"/>
<circle cx="490.9" cy="120.7" r="2.9" fill="url(#gC)"/>
<circle cx="496.4" cy="133.9" r="2.9" fill="url(#gC)"/>
<line x1="526.2" y1="21.6" x2="524.8" y2="19.23" stroke="#6e6e6e" stroke-width="1.4" stroke-linecap="round"/><line x1="524.8" y1="19.23" x2="523.4" y2="16.87" stroke="#d8d8d8" stroke-width="1.4" stroke-linecap="round"/>
<circle cx="523.4" cy="16.87" r="1.9" fill="url(#gH)"/>
<circle cx="523" cy="21.6" r="1.8" fill="url(#gH)"/>
<line x1="541.1" y1="21.6" x2="542.51" y2="19.24" stroke="#6e6e6e" stroke-width="1.4" stroke-linecap="round"/><line x1="542.51" y1="19.24" x2="543.93" y2="16.88" stroke="#d8d8d8" stroke-width="1.4" stroke-linecap="round"/>
<circle cx="543.93" cy="16.88" r="1.9" fill="url(#gH)"/>
<circle cx="544.3" cy="21.6" r="1.8" fill="url(#gH)"/>
<line x1="546.4" y1="34.9" x2="549.14" y2="35.07" stroke="#6e6e6e" stroke-width="1.4" stroke-linecap="round"/><line x1="549.14" y1="35.07" x2="551.89" y2="35.24" stroke="#d8d8d8" stroke-width="1.4" stroke-linecap="round"/>
<circle cx="551.89" cy="35.24" r="1.9" fill="url(#gH)"/>
<circle cx="549.6" cy="34.9" r="1.8" fill="url(#gH)"/>
<line x1="541.1" y1="46.7" x2="542.51" y2="49.06" stroke="#6e6e6e" stroke-width="1.4" stroke-linecap="round"/><line x1="542.51" y1="49.06" x2="543.91" y2="51.43" stroke="#d8d8d8" stroke-width="1.4" stroke-linecap="round"/>
<circle cx="543.91" cy="51.43" r="1.9" fill="url(#gH)"/>
<circle cx="544.3" cy="46.7" r="1.8" fill="url(#gH)"/>
<line x1="526.2" y1="46.7" x2="524.81" y2="49.07" stroke="#6e6e6e" stroke-width="1.4" stroke-linecap="round"/><line x1="524.81" y1="49.07" x2="523.41" y2="51.44" stroke="#d8d8d8" stroke-width="1.4" stroke-linecap="round"/>
<circle cx="523.41" cy="51.44" r="1.9" fill="url(#gH)"/>
<circle cx="523" cy="46.7" r="1.8" fill="url(#gH)"/>
<line x1="520.7" y1="33.5" x2="517.95" y2="33.37" stroke="#6e6e6e" stroke-width="1.4" stroke-linecap="round"/><line x1="517.95" y1="33.37" x2="515.21" y2="33.24" stroke="#d8d8d8" stroke-width="1.4" stroke-linecap="round"/>
<circle cx="515.21" cy="33.24" r="1.9" fill="url(#gH)"/>
<circle cx="517.5" cy="33.5" r="1.8" fill="url(#gH)"/>
<line x1="526.2" y1="21.6" x2="541.1" y2="21.6" stroke="#6a6a6a" stroke-width="2.4" stroke-linecap="round"/>
<line x1="541.1" y1="21.6" x2="546.4" y2="34.9" stroke="#6a6a6a" stroke-width="2.4" stroke-linecap="round"/>
<line x1="546.4" y1="34.9" x2="541.1" y2="46.7" stroke="#6a6a6a" stroke-width="2.4" stroke-linecap="round"/>
<line x1="541.1" y1="46.7" x2="526.2" y2="46.7" stroke="#6a6a6a" stroke-width="2.4" stroke-linecap="round"/>
<line x1="526.2" y1="46.7" x2="520.7" y2="33.5" stroke="#6a6a6a" stroke-width="2.4" stroke-linecap="round"/>
<line x1="520.7" y1="33.5" x2="526.2" y2="21.6" stroke="#6a6a6a" stroke-width="2.4" stroke-linecap="round"/>
<circle cx="526.2" cy="21.6" r="2.9" fill="url(#gC)"/>
<circle cx="541.1" cy="21.6" r="2.9" fill="url(#gC)"/>
<circle cx="546.4" cy="34.9" r="2.9" fill="url(#gC)"/>
<circle cx="541.1" cy="46.7" r="2.9" fill="url(#gC)"/>
<circle cx="526.2" cy="46.7" r="2.9" fill="url(#gC)"/>
<circle cx="520.7" cy="33.5" r="2.9" fill="url(#gC)"/>
<line x1="526.2" y1="145.8" x2="524.8" y2="148.17" stroke="#6e6e6e" stroke-width="1.4" stroke-linecap="round"/><line x1="524.8" y1="148.17" x2="523.4" y2="150.53" stroke="#d8d8d8" stroke-width="1.4" stroke-linecap="round"/>
<circle cx="523.4" cy="150.53" r="1.9" fill="url(#gH)"/>
<circle cx="523" cy="145.8" r="1.8" fill="url(#gH)"/>
<line x1="541.1" y1="145.8" x2="542.51" y2="148.16" stroke="#6e6e6e" stroke-width="1.4" stroke-linecap="round"/><line x1="542.51" y1="148.16" x2="543.93" y2="150.52" stroke="#d8d8d8" stroke-width="1.4" stroke-linecap="round"/>
<circle cx="543.93" cy="150.52" r="1.9" fill="url(#gH)"/>
<circle cx="544.3" cy="145.8" r="1.8" fill="url(#gH)"/>
<line x1="546.4" y1="132.5" x2="549.14" y2="132.33" stroke="#6e6e6e" stroke-width="1.4" stroke-linecap="round"/><line x1="549.14" y1="132.33" x2="551.89" y2="132.16" stroke="#d8d8d8" stroke-width="1.4" stroke-linecap="round"/>
<circle cx="551.89" cy="132.16" r="1.9" fill="url(#gH)"/>
<circle cx="549.6" cy="132.5" r="1.8" fill="url(#gH)"/>
<line x1="541.1" y1="120.7" x2="542.51" y2="118.34" stroke="#6e6e6e" stroke-width="1.4" stroke-linecap="round"/><line x1="542.51" y1="118.34" x2="543.91" y2="115.97" stroke="#d8d8d8" stroke-width="1.4" stroke-linecap="round"/>
<circle cx="543.91" cy="115.97" r="1.9" fill="url(#gH)"/>
<circle cx="544.3" cy="120.7" r="1.8" fill="url(#gH)"/>
<line x1="526.2" y1="120.7" x2="524.81" y2="118.33" stroke="#6e6e6e" stroke-width="1.4" stroke-linecap="round"/><line x1="524.81" y1="118.33" x2="523.41" y2="115.96" stroke="#d8d8d8" stroke-width="1.4" stroke-linecap="round"/>
<circle cx="523.41" cy="115.96" r="1.9" fill="url(#gH)"/>
<circle cx="523" cy="120.7" r="1.8" fill="url(#gH)"/>
<line x1="520.7" y1="133.9" x2="517.95" y2="134.03" stroke="#6e6e6e" stroke-width="1.4" stroke-linecap="round"/><line x1="517.95" y1="134.03" x2="515.21" y2="134.16" stroke="#d8d8d8" stroke-width="1.4" stroke-linecap="round"/>
<circle cx="515.21" cy="134.16" r="1.9" fill="url(#gH)"/>
<circle cx="517.5" cy="133.9" r="1.8" fill="url(#gH)"/>
<line x1="526.2" y1="145.8" x2="541.1" y2="145.8" stroke="#6a6a6a" stroke-width="2.4" stroke-linecap="round"/>
<line x1="541.1" y1="145.8" x2="546.4" y2="132.5" stroke="#6a6a6a" stroke-width="2.4" stroke-linecap="round"/>
<line x1="546.4" y1="132.5" x2="541.1" y2="120.7" stroke="#6a6a6a" stroke-width="2.4" stroke-linecap="round"/>
<line x1="541.1" y1="120.7" x2="526.2" y2="120.7" stroke="#6a6a6a" stroke-width="2.4" stroke-linecap="round"/>
<line x1="526.2" y1="120.7" x2="520.7" y2="133.9" stroke="#6a6a6a" stroke-width="2.4" stroke-linecap="round"/>
<line x1="520.7" y1="133.9" x2="526.2" y2="145.8" stroke="#6a6a6a" stroke-width="2.4" stroke-linecap="round"/>
<circle cx="526.2" cy="145.8" r="2.9" fill="url(#gC)"/>
<circle cx="541.1" cy="145.8" r="2.9" fill="url(#gC)"/>
<circle cx="546.4" cy="132.5" r="2.9" fill="url(#gC)"/>
<circle cx="541.1" cy="120.7" r="2.9" fill="url(#gC)"/>
<circle cx="526.2" cy="120.7" r="2.9" fill="url(#gC)"/>
<circle cx="520.7" cy="133.9" r="2.9" fill="url(#gC)"/>
<line x1="581.4" y1="21.6" x2="582.8" y2="19.23" stroke="#6e6e6e" stroke-width="1.4" stroke-linecap="round"/><line x1="582.8" y1="19.23" x2="584.2" y2="16.87" stroke="#d8d8d8" stroke-width="1.4" stroke-linecap="round"/>
<circle cx="584.2" cy="16.87" r="1.9" fill="url(#gH)"/>
<circle cx="584.6" cy="21.6" r="1.8" fill="url(#gH)"/>
<line x1="566.5" y1="21.6" x2="565.09" y2="19.24" stroke="#6e6e6e" stroke-width="1.4" stroke-linecap="round"/><line x1="565.09" y1="19.24" x2="563.67" y2="16.88" stroke="#d8d8d8" stroke-width="1.4" stroke-linecap="round"/>
<circle cx="563.67" cy="16.88" r="1.9" fill="url(#gH)"/>
<circle cx="563.3" cy="21.6" r="1.8" fill="url(#gH)"/>
<line x1="561.2" y1="34.9" x2="558.46" y2="35.07" stroke="#6e6e6e" stroke-width="1.4" stroke-linecap="round"/><line x1="558.46" y1="35.07" x2="555.71" y2="35.24" stroke="#d8d8d8" stroke-width="1.4" stroke-linecap="round"/>
<circle cx="555.71" cy="35.24" r="1.9" fill="url(#gH)"/>
<circle cx="558" cy="34.9" r="1.8" fill="url(#gH)"/>
<line x1="566.5" y1="46.7" x2="565.09" y2="49.06" stroke="#6e6e6e" stroke-width="1.4" stroke-linecap="round"/><line x1="565.09" y1="49.06" x2="563.69" y2="51.43" stroke="#d8d8d8" stroke-width="1.4" stroke-linecap="round"/>
<circle cx="563.69" cy="51.43" r="1.9" fill="url(#gH)"/>
<circle cx="563.3" cy="46.7" r="1.8" fill="url(#gH)"/>
<line x1="581.4" y1="46.7" x2="582.79" y2="49.07" stroke="#6e6e6e" stroke-width="1.4" stroke-linecap="round"/><line x1="582.79" y1="49.07" x2="584.19" y2="51.44" stroke="#d8d8d8" stroke-width="1.4" stroke-linecap="round"/>
<circle cx="584.19" cy="51.44" r="1.9" fill="url(#gH)"/>
<circle cx="584.6" cy="46.7" r="1.8" fill="url(#gH)"/>
<line x1="586.9" y1="33.5" x2="589.65" y2="33.37" stroke="#6e6e6e" stroke-width="1.4" stroke-linecap="round"/><line x1="589.65" y1="33.37" x2="592.39" y2="33.24" stroke="#d8d8d8" stroke-width="1.4" stroke-linecap="round"/>
<circle cx="592.39" cy="33.24" r="1.9" fill="url(#gH)"/>
<circle cx="590.1" cy="33.5" r="1.8" fill="url(#gH)"/>
<line x1="581.4" y1="21.6" x2="566.5" y2="21.6" stroke="#6a6a6a" stroke-width="2.4" stroke-linecap="round"/>
<line x1="566.5" y1="21.6" x2="561.2" y2="34.9" stroke="#6a6a6a" stroke-width="2.4" stroke-linecap="round"/>
<line x1="561.2" y1="34.9" x2="566.5" y2="46.7" stroke="#6a6a6a" stroke-width="2.4" stroke-linecap="round"/>
<line x1="566.5" y1="46.7" x2="581.4" y2="46.7" stroke="#6a6a6a" stroke-width="2.4" stroke-linecap="round"/>
<line x1="581.4" y1="46.7" x2="586.9" y2="33.5" stroke="#6a6a6a" stroke-width="2.4" stroke-linecap="round"/>
<line x1="586.9" y1="33.5" x2="581.4" y2="21.6" stroke="#6a6a6a" stroke-width="2.4" stroke-linecap="round"/>
<circle cx="581.4" cy="21.6" r="2.9" fill="url(#gC)"/>
<circle cx="566.5" cy="21.6" r="2.9" fill="url(#gC)"/>
<circle cx="561.2" cy="34.9" r="2.9" fill="url(#gC)"/>
<circle cx="566.5" cy="46.7" r="2.9" fill="url(#gC)"/>
<circle cx="581.4" cy="46.7" r="2.9" fill="url(#gC)"/>
<circle cx="586.9" cy="33.5" r="2.9" fill="url(#gC)"/>
<line x1="581.4" y1="145.8" x2="582.8" y2="148.17" stroke="#6e6e6e" stroke-width="1.4" stroke-linecap="round"/><line x1="582.8" y1="148.17" x2="584.2" y2="150.53" stroke="#d8d8d8" stroke-width="1.4" stroke-linecap="round"/>
<circle cx="584.2" cy="150.53" r="1.9" fill="url(#gH)"/>
<circle cx="584.6" cy="145.8" r="1.8" fill="url(#gH)"/>
<line x1="566.5" y1="145.8" x2="565.09" y2="148.16" stroke="#6e6e6e" stroke-width="1.4" stroke-linecap="round"/><line x1="565.09" y1="148.16" x2="563.67" y2="150.52" stroke="#d8d8d8" stroke-width="1.4" stroke-linecap="round"/>
<circle cx="563.67" cy="150.52" r="1.9" fill="url(#gH)"/>
<circle cx="563.3" cy="145.8" r="1.8" fill="url(#gH)"/>
<line x1="561.2" y1="132.5" x2="558.46" y2="132.33" stroke="#6e6e6e" stroke-width="1.4" stroke-linecap="round"/><line x1="558.46" y1="132.33" x2="555.71" y2="132.16" stroke="#d8d8d8" stroke-width="1.4" stroke-linecap="round"/>
<circle cx="555.71" cy="132.16" r="1.9" fill="url(#gH)"/>
<circle cx="558" cy="132.5" r="1.8" fill="url(#gH)"/>
<line x1="566.5" y1="120.7" x2="565.09" y2="118.34" stroke="#6e6e6e" stroke-width="1.4" stroke-linecap="round"/><line x1="565.09" y1="118.34" x2="563.69" y2="115.97" stroke="#d8d8d8" stroke-width="1.4" stroke-linecap="round"/>
<circle cx="563.69" cy="115.97" r="1.9" fill="url(#gH)"/>
<circle cx="563.3" cy="120.7" r="1.8" fill="url(#gH)"/>
<line x1="581.4" y1="120.7" x2="582.79" y2="118.33" stroke="#6e6e6e" stroke-width="1.4" stroke-linecap="round"/><line x1="582.79" y1="118.33" x2="584.19" y2="115.96" stroke="#d8d8d8" stroke-width="1.4" stroke-linecap="round"/>
<circle cx="584.19" cy="115.96" r="1.9" fill="url(#gH)"/>
<circle cx="584.6" cy="120.7" r="1.8" fill="url(#gH)"/>
<line x1="586.9" y1="133.9" x2="589.65" y2="134.03" stroke="#6e6e6e" stroke-width="1.4" stroke-linecap="round"/><line x1="589.65" y1="134.03" x2="592.39" y2="134.16" stroke="#d8d8d8" stroke-width="1.4" stroke-linecap="round"/>
<circle cx="592.39" cy="134.16" r="1.9" fill="url(#gH)"/>
<circle cx="590.1" cy="133.9" r="1.8" fill="url(#gH)"/>
<line x1="581.4" y1="145.8" x2="566.5" y2="145.8" stroke="#6a6a6a" stroke-width="2.4" stroke-linecap="round"/>
<line x1="566.5" y1="145.8" x2="561.2" y2="132.5" stroke="#6a6a6a" stroke-width="2.4" stroke-linecap="round"/>
<line x1="561.2" y1="132.5" x2="566.5" y2="120.7" stroke="#6a6a6a" stroke-width="2.4" stroke-linecap="round"/>
<line x1="566.5" y1="120.7" x2="581.4" y2="120.7" stroke="#6a6a6a" stroke-width="2.4" stroke-linecap="round"/>
<line x1="581.4" y1="120.7" x2="586.9" y2="133.9" stroke="#6a6a6a" stroke-width="2.4" stroke-linecap="round"/>
<line x1="586.9" y1="133.9" x2="581.4" y2="145.8" stroke="#6a6a6a" stroke-width="2.4" stroke-linecap="round"/>
<circle cx="581.4" cy="145.8" r="2.9" fill="url(#gC)"/>
<circle cx="566.5" cy="145.8" r="2.9" fill="url(#gC)"/>
<circle cx="561.2" cy="132.5" r="2.9" fill="url(#gC)"/>
<circle cx="566.5" cy="120.7" r="2.9" fill="url(#gC)"/>
<circle cx="581.4" cy="120.7" r="2.9" fill="url(#gC)"/>
<circle cx="586.9" cy="133.9" r="2.9" fill="url(#gC)"/>
<line x1="616.7" y1="21.6" x2="615.3" y2="19.23" stroke="#6e6e6e" stroke-width="1.4" stroke-linecap="round"/><line x1="615.3" y1="19.23" x2="613.9" y2="16.87" stroke="#d8d8d8" stroke-width="1.4" stroke-linecap="round"/>
<circle cx="613.9" cy="16.87" r="1.9" fill="url(#gH)"/>
<circle cx="613.5" cy="21.6" r="1.8" fill="url(#gH)"/>
<line x1="631.6" y1="21.6" x2="633.01" y2="19.24" stroke="#6e6e6e" stroke-width="1.4" stroke-linecap="round"/><line x1="633.01" y1="19.24" x2="634.43" y2="16.88" stroke="#d8d8d8" stroke-width="1.4" stroke-linecap="round"/>
<circle cx="634.43" cy="16.88" r="1.9" fill="url(#gH)"/>
<circle cx="634.8" cy="21.6" r="1.8" fill="url(#gH)"/>
<line x1="636.9" y1="34.9" x2="639.64" y2="35.07" stroke="#6e6e6e" stroke-width="1.4" stroke-linecap="round"/><line x1="639.64" y1="35.07" x2="642.39" y2="35.24" stroke="#d8d8d8" stroke-width="1.4" stroke-linecap="round"/>
<circle cx="642.39" cy="35.24" r="1.9" fill="url(#gH)"/>
<circle cx="640.1" cy="34.9" r="1.8" fill="url(#gH)"/>
<line x1="631.6" y1="46.7" x2="633.01" y2="49.06" stroke="#6e6e6e" stroke-width="1.4" stroke-linecap="round"/><line x1="633.01" y1="49.06" x2="634.41" y2="51.43" stroke="#d8d8d8" stroke-width="1.4" stroke-linecap="round"/>
<circle cx="634.41" cy="51.43" r="1.9" fill="url(#gH)"/>
<circle cx="634.8" cy="46.7" r="1.8" fill="url(#gH)"/>
<line x1="616.7" y1="46.7" x2="615.31" y2="49.07" stroke="#6e6e6e" stroke-width="1.4" stroke-linecap="round"/><line x1="615.31" y1="49.07" x2="613.91" y2="51.44" stroke="#d8d8d8" stroke-width="1.4" stroke-linecap="round"/>
<circle cx="613.91" cy="51.44" r="1.9" fill="url(#gH)"/>
<circle cx="613.5" cy="46.7" r="1.8" fill="url(#gH)"/>
<line x1="611.2" y1="33.5" x2="608.45" y2="33.37" stroke="#6e6e6e" stroke-width="1.4" stroke-linecap="round"/><line x1="608.45" y1="33.37" x2="605.71" y2="33.24" stroke="#d8d8d8" stroke-width="1.4" stroke-linecap="round"/>
<circle cx="605.71" cy="33.24" r="1.9" fill="url(#gH)"/>
<circle cx="608" cy="33.5" r="1.8" fill="url(#gH)"/>
<line x1="616.7" y1="21.6" x2="631.6" y2="21.6" stroke="#6a6a6a" stroke-width="2.4" stroke-linecap="round"/>
<line x1="631.6" y1="21.6" x2="636.9" y2="34.9" stroke="#6a6a6a" stroke-width="2.4" stroke-linecap="round"/>
<line x1="636.9" y1="34.9" x2="631.6" y2="46.7" stroke="#6a6a6a" stroke-width="2.4" stroke-linecap="round"/>
<line x1="631.6" y1="46.7" x2="616.7" y2="46.7" stroke="#6a6a6a" stroke-width="2.4" stroke-linecap="round"/>
<line x1="616.7" y1="46.7" x2="611.2" y2="33.5" stroke="#6a6a6a" stroke-width="2.4" stroke-linecap="round"/>
<line x1="611.2" y1="33.5" x2="616.7" y2="21.6" stroke="#6a6a6a" stroke-width="2.4" stroke-linecap="round"/>
<circle cx="616.7" cy="21.6" r="2.9" fill="url(#gC)"/>
<circle cx="631.6" cy="21.6" r="2.9" fill="url(#gC)"/>
<circle cx="636.9" cy="34.9" r="2.9" fill="url(#gC)"/>
<circle cx="631.6" cy="46.7" r="2.9" fill="url(#gC)"/>
<circle cx="616.7" cy="46.7" r="2.9" fill="url(#gC)"/>
<circle cx="611.2" cy="33.5" r="2.9" fill="url(#gC)"/>
<line x1="616.7" y1="145.8" x2="615.3" y2="148.17" stroke="#6e6e6e" stroke-width="1.4" stroke-linecap="round"/><line x1="615.3" y1="148.17" x2="613.9" y2="150.53" stroke="#d8d8d8" stroke-width="1.4" stroke-linecap="round"/>
<circle cx="613.9" cy="150.53" r="1.9" fill="url(#gH)"/>
<circle cx="613.5" cy="145.8" r="1.8" fill="url(#gH)"/>
<line x1="631.6" y1="145.8" x2="633.01" y2="148.16" stroke="#6e6e6e" stroke-width="1.4" stroke-linecap="round"/><line x1="633.01" y1="148.16" x2="634.43" y2="150.52" stroke="#d8d8d8" stroke-width="1.4" stroke-linecap="round"/>
<circle cx="634.43" cy="150.52" r="1.9" fill="url(#gH)"/>
<circle cx="634.8" cy="145.8" r="1.8" fill="url(#gH)"/>
<line x1="636.9" y1="132.5" x2="639.64" y2="132.33" stroke="#6e6e6e" stroke-width="1.4" stroke-linecap="round"/><line x1="639.64" y1="132.33" x2="642.39" y2="132.16" stroke="#d8d8d8" stroke-width="1.4" stroke-linecap="round"/>
<circle cx="642.39" cy="132.16" r="1.9" fill="url(#gH)"/>
<circle cx="640.1" cy="132.5" r="1.8" fill="url(#gH)"/>
<line x1="631.6" y1="120.7" x2="633.01" y2="118.34" stroke="#6e6e6e" stroke-width="1.4" stroke-linecap="round"/><line x1="633.01" y1="118.34" x2="634.41" y2="115.97" stroke="#d8d8d8" stroke-width="1.4" stroke-linecap="round"/>
<circle cx="634.41" cy="115.97" r="1.9" fill="url(#gH)"/>
<circle cx="634.8" cy="120.7" r="1.8" fill="url(#gH)"/>
<line x1="616.7" y1="120.7" x2="615.31" y2="118.33" stroke="#6e6e6e" stroke-width="1.4" stroke-linecap="round"/><line x1="615.31" y1="118.33" x2="613.91" y2="115.96" stroke="#d8d8d8" stroke-width="1.4" stroke-linecap="round"/>
<circle cx="613.91" cy="115.96" r="1.9" fill="url(#gH)"/>
<circle cx="613.5" cy="120.7" r="1.8" fill="url(#gH)"/>
<line x1="611.2" y1="133.9" x2="608.45" y2="134.03" stroke="#6e6e6e" stroke-width="1.4" stroke-linecap="round"/><line x1="608.45" y1="134.03" x2="605.71" y2="134.16" stroke="#d8d8d8" stroke-width="1.4" stroke-linecap="round"/>
<circle cx="605.71" cy="134.16" r="1.9" fill="url(#gH)"/>
<circle cx="608" cy="133.9" r="1.8" fill="url(#gH)"/>
<line x1="616.7" y1="145.8" x2="631.6" y2="145.8" stroke="#6a6a6a" stroke-width="2.4" stroke-linecap="round"/>
<line x1="631.6" y1="145.8" x2="636.9" y2="132.5" stroke="#6a6a6a" stroke-width="2.4" stroke-linecap="round"/>
<line x1="636.9" y1="132.5" x2="631.6" y2="120.7" stroke="#6a6a6a" stroke-width="2.4" stroke-linecap="round"/>
<line x1="631.6" y1="120.7" x2="616.7" y2="120.7" stroke="#6a6a6a" stroke-width="2.4" stroke-linecap="round"/>
<line x1="616.7" y1="120.7" x2="611.2" y2="133.9" stroke="#6a6a6a" stroke-width="2.4" stroke-linecap="round"/>
<line x1="611.2" y1="133.9" x2="616.7" y2="145.8" stroke="#6a6a6a" stroke-width="2.4" stroke-linecap="round"/>
<circle cx="616.7" cy="145.8" r="2.9" fill="url(#gC)"/>
<circle cx="631.6" cy="145.8" r="2.9" fill="url(#gC)"/>
<circle cx="636.9" cy="132.5" r="2.9" fill="url(#gC)"/>
<circle cx="631.6" cy="120.7" r="2.9" fill="url(#gC)"/>
<circle cx="616.7" cy="120.7" r="2.9" fill="url(#gC)"/>
<circle cx="611.2" cy="133.9" r="2.9" fill="url(#gC)"/>
<line x1="671.9" y1="21.6" x2="673.3" y2="19.23" stroke="#6e6e6e" stroke-width="1.4" stroke-linecap="round"/><line x1="673.3" y1="19.23" x2="674.7" y2="16.87" stroke="#d8d8d8" stroke-width="1.4" stroke-linecap="round"/>
<circle cx="674.7" cy="16.87" r="1.9" fill="url(#gH)"/>
<circle cx="675.1" cy="21.6" r="1.8" fill="url(#gH)"/>
<line x1="657" y1="21.6" x2="655.59" y2="19.24" stroke="#6e6e6e" stroke-width="1.4" stroke-linecap="round"/><line x1="655.59" y1="19.24" x2="654.17" y2="16.88" stroke="#d8d8d8" stroke-width="1.4" stroke-linecap="round"/>
<circle cx="654.17" cy="16.88" r="1.9" fill="url(#gH)"/>
<circle cx="653.8" cy="21.6" r="1.8" fill="url(#gH)"/>
<line x1="651.7" y1="34.9" x2="648.96" y2="35.07" stroke="#6e6e6e" stroke-width="1.4" stroke-linecap="round"/><line x1="648.96" y1="35.07" x2="646.21" y2="35.24" stroke="#d8d8d8" stroke-width="1.4" stroke-linecap="round"/>
<circle cx="646.21" cy="35.24" r="1.9" fill="url(#gH)"/>
<circle cx="648.5" cy="34.9" r="1.8" fill="url(#gH)"/>
<line x1="657" y1="46.7" x2="655.59" y2="49.06" stroke="#6e6e6e" stroke-width="1.4" stroke-linecap="round"/><line x1="655.59" y1="49.06" x2="654.19" y2="51.43" stroke="#d8d8d8" stroke-width="1.4" stroke-linecap="round"/>
<circle cx="654.19" cy="51.43" r="1.9" fill="url(#gH)"/>
<circle cx="653.8" cy="46.7" r="1.8" fill="url(#gH)"/>
<line x1="671.9" y1="46.7" x2="673.29" y2="49.07" stroke="#6e6e6e" stroke-width="1.4" stroke-linecap="round"/><line x1="673.29" y1="49.07" x2="674.69" y2="51.44" stroke="#d8d8d8" stroke-width="1.4" stroke-linecap="round"/>
<circle cx="674.69" cy="51.44" r="1.9" fill="url(#gH)"/>
<circle cx="675.1" cy="46.7" r="1.8" fill="url(#gH)"/>
<line x1="677.4" y1="33.5" x2="680.15" y2="33.37" stroke="#6e6e6e" stroke-width="1.4" stroke-linecap="round"/><line x1="680.15" y1="33.37" x2="682.89" y2="33.24" stroke="#d8d8d8" stroke-width="1.4" stroke-linecap="round"/>
<circle cx="682.89" cy="33.24" r="1.9" fill="url(#gH)"/>
<circle cx="680.6" cy="33.5" r="1.8" fill="url(#gH)"/>
<line x1="671.9" y1="21.6" x2="657" y2="21.6" stroke="#6a6a6a" stroke-width="2.4" stroke-linecap="round"/>
<line x1="657" y1="21.6" x2="651.7" y2="34.9" stroke="#6a6a6a" stroke-width="2.4" stroke-linecap="round"/>
<line x1="651.7" y1="34.9" x2="657" y2="46.7" stroke="#6a6a6a" stroke-width="2.4" stroke-linecap="round"/>
<line x1="657" y1="46.7" x2="671.9" y2="46.7" stroke="#6a6a6a" stroke-width="2.4" stroke-linecap="round"/>
<line x1="671.9" y1="46.7" x2="677.4" y2="33.5" stroke="#6a6a6a" stroke-width="2.4" stroke-linecap="round"/>
<line x1="677.4" y1="33.5" x2="671.9" y2="21.6" stroke="#6a6a6a" stroke-width="2.4" stroke-linecap="round"/>
<circle cx="671.9" cy="21.6" r="2.9" fill="url(#gC)"/>
<circle cx="657" cy="21.6" r="2.9" fill="url(#gC)"/>
<circle cx="651.7" cy="34.9" r="2.9" fill="url(#gC)"/>
<circle cx="657" cy="46.7" r="2.9" fill="url(#gC)"/>
<circle cx="671.9" cy="46.7" r="2.9" fill="url(#gC)"/>
<circle cx="677.4" cy="33.5" r="2.9" fill="url(#gC)"/>
<line x1="671.9" y1="145.8" x2="673.3" y2="148.17" stroke="#6e6e6e" stroke-width="1.4" stroke-linecap="round"/><line x1="673.3" y1="148.17" x2="674.7" y2="150.53" stroke="#d8d8d8" stroke-width="1.4" stroke-linecap="round"/>
<circle cx="674.7" cy="150.53" r="1.9" fill="url(#gH)"/>
<circle cx="675.1" cy="145.8" r="1.8" fill="url(#gH)"/>
<line x1="657" y1="145.8" x2="655.59" y2="148.16" stroke="#6e6e6e" stroke-width="1.4" stroke-linecap="round"/><line x1="655.59" y1="148.16" x2="654.17" y2="150.52" stroke="#d8d8d8" stroke-width="1.4" stroke-linecap="round"/>
<circle cx="654.17" cy="150.52" r="1.9" fill="url(#gH)"/>
<circle cx="653.8" cy="145.8" r="1.8" fill="url(#gH)"/>
<line x1="651.7" y1="132.5" x2="648.96" y2="132.33" stroke="#6e6e6e" stroke-width="1.4" stroke-linecap="round"/><line x1="648.96" y1="132.33" x2="646.21" y2="132.16" stroke="#d8d8d8" stroke-width="1.4" stroke-linecap="round"/>
<circle cx="646.21" cy="132.16" r="1.9" fill="url(#gH)"/>
<circle cx="648.5" cy="132.5" r="1.8" fill="url(#gH)"/>
<line x1="657" y1="120.7" x2="655.59" y2="118.34" stroke="#6e6e6e" stroke-width="1.4" stroke-linecap="round"/><line x1="655.59" y1="118.34" x2="654.19" y2="115.97" stroke="#d8d8d8" stroke-width="1.4" stroke-linecap="round"/>
<circle cx="654.19" cy="115.97" r="1.9" fill="url(#gH)"/>
<circle cx="653.8" cy="120.7" r="1.8" fill="url(#gH)"/>
<line x1="671.9" y1="120.7" x2="673.29" y2="118.33" stroke="#6e6e6e" stroke-width="1.4" stroke-linecap="round"/><line x1="673.29" y1="118.33" x2="674.69" y2="115.96" stroke="#d8d8d8" stroke-width="1.4" stroke-linecap="round"/>
<circle cx="674.69" cy="115.96" r="1.9" fill="url(#gH)"/>
<circle cx="675.1" cy="120.7" r="1.8" fill="url(#gH)"/>
<line x1="677.4" y1="133.9" x2="680.15" y2="134.03" stroke="#6e6e6e" stroke-width="1.4" stroke-linecap="round"/><line x1="680.15" y1="134.03" x2="682.89" y2="134.16" stroke="#d8d8d8" stroke-width="1.4" stroke-linecap="round"/>
<circle cx="682.89" cy="134.16" r="1.9" fill="url(#gH)"/>
<circle cx="680.6" cy="133.9" r="1.8" fill="url(#gH)"/>
<line x1="671.9" y1="145.8" x2="657" y2="145.8" stroke="#6a6a6a" stroke-width="2.4" stroke-linecap="round"/>
<line x1="657" y1="145.8" x2="651.7" y2="132.5" stroke="#6a6a6a" stroke-width="2.4" stroke-linecap="round"/>
<line x1="651.7" y1="132.5" x2="657" y2="120.7" stroke="#6a6a6a" stroke-width="2.4" stroke-linecap="round"/>
<line x1="657" y1="120.7" x2="671.9" y2="120.7" stroke="#6a6a6a" stroke-width="2.4" stroke-linecap="round"/>
<line x1="671.9" y1="120.7" x2="677.4" y2="133.9" stroke="#6a6a6a" stroke-width="2.4" stroke-linecap="round"/>
<line x1="677.4" y1="133.9" x2="671.9" y2="145.8" stroke="#6a6a6a" stroke-width="2.4" stroke-linecap="round"/>
<circle cx="671.9" cy="145.8" r="2.9" fill="url(#gC)"/>
<circle cx="657" cy="145.8" r="2.9" fill="url(#gC)"/>
<circle cx="651.7" cy="132.5" r="2.9" fill="url(#gC)"/>
<circle cx="657" cy="120.7" r="2.9" fill="url(#gC)"/>
<circle cx="671.9" cy="120.7" r="2.9" fill="url(#gC)"/>
<circle cx="677.4" cy="133.9" r="2.9" fill="url(#gC)"/>
<line x1="274.9" y1="34.9" x2="289.7" y2="34.9" stroke="#bdbdbd" stroke-width="1.6" stroke-linecap="round"/>
<circle cx="279.8" cy="34.9" r="1.9" fill="url(#gH)"/>
<circle cx="284.8" cy="34.9" r="1.9" fill="url(#gH)"/>
<line x1="315.3" y1="33.5" x2="339.8" y2="33.5" stroke="#d0d0d0" stroke-width="1.4" stroke-linecap="round"/>
<circle cx="325.15" cy="33.5" r="2.1" fill="url(#gH)"/>
<circle cx="329.95" cy="33.5" r="2.1" fill="url(#gH)"/>
<line x1="274.9" y1="132.5" x2="289.7" y2="132.5" stroke="#bdbdbd" stroke-width="1.6" stroke-linecap="round"/>
<circle cx="279.8" cy="132.5" r="1.9" fill="url(#gH)"/>
<circle cx="284.8" cy="132.5" r="1.9" fill="url(#gH)"/>
<line x1="315.3" y1="133.9" x2="339.8" y2="133.9" stroke="#d0d0d0" stroke-width="1.4" stroke-linecap="round"/>
<circle cx="325.15" cy="133.9" r="2.1" fill="url(#gH)"/>
<circle cx="329.95" cy="133.9" r="2.1" fill="url(#gH)"/>
<line x1="365.4" y1="34.9" x2="380.2" y2="34.9" stroke="#bdbdbd" stroke-width="1.6" stroke-linecap="round"/>
<circle cx="370.3" cy="34.9" r="1.9" fill="url(#gH)"/>
<circle cx="375.3" cy="34.9" r="1.9" fill="url(#gH)"/>
<line x1="405.8" y1="33.5" x2="430.3" y2="33.5" stroke="#d0d0d0" stroke-width="1.4" stroke-linecap="round"/>
<circle cx="415.65" cy="33.5" r="2.1" fill="url(#gH)"/>
<circle cx="420.45" cy="33.5" r="2.1" fill="url(#gH)"/>
<line x1="365.4" y1="132.5" x2="380.2" y2="132.5" stroke="#bdbdbd" stroke-width="1.6" stroke-linecap="round"/>
<circle cx="370.3" cy="132.5" r="1.9" fill="url(#gH)"/>
<circle cx="375.3" cy="132.5" r="1.9" fill="url(#gH)"/>
<line x1="405.8" y1="133.9" x2="430.3" y2="133.9" stroke="#d0d0d0" stroke-width="1.4" stroke-linecap="round"/>
<circle cx="415.65" cy="133.9" r="2.1" fill="url(#gH)"/>
<circle cx="420.45" cy="133.9" r="2.1" fill="url(#gH)"/>
<line x1="455.9" y1="34.9" x2="470.7" y2="34.9" stroke="#bdbdbd" stroke-width="1.6" stroke-linecap="round"/>
<circle cx="460.8" cy="34.9" r="1.9" fill="url(#gH)"/>
<circle cx="465.8" cy="34.9" r="1.9" fill="url(#gH)"/>
<line x1="496.3" y1="33.5" x2="520.8" y2="33.5" stroke="#d0d0d0" stroke-width="1.4" stroke-linecap="round"/>
<circle cx="506.15" cy="33.5" r="2.1" fill="url(#gH)"/>
<circle cx="510.95" cy="33.5" r="2.1" fill="url(#gH)"/>
<line x1="455.9" y1="132.5" x2="470.7" y2="132.5" stroke="#bdbdbd" stroke-width="1.6" stroke-linecap="round"/>
<circle cx="460.8" cy="132.5" r="1.9" fill="url(#gH)"/>
<circle cx="465.8" cy="132.5" r="1.9" fill="url(#gH)"/>
<line x1="496.3" y1="133.9" x2="520.8" y2="133.9" stroke="#d0d0d0" stroke-width="1.4" stroke-linecap="round"/>
<circle cx="506.15" cy="133.9" r="2.1" fill="url(#gH)"/>
<circle cx="510.95" cy="133.9" r="2.1" fill="url(#gH)"/>
<line x1="546.4" y1="34.9" x2="561.2" y2="34.9" stroke="#bdbdbd" stroke-width="1.6" stroke-linecap="round"/>
<circle cx="551.3" cy="34.9" r="1.9" fill="url(#gH)"/>
<circle cx="556.3" cy="34.9" r="1.9" fill="url(#gH)"/>
<line x1="586.8" y1="33.5" x2="611.3" y2="33.5" stroke="#d0d0d0" stroke-width="1.4" stroke-linecap="round"/>
<circle cx="596.65" cy="33.5" r="2.1" fill="url(#gH)"/>
<circle cx="601.45" cy="33.5" r="2.1" fill="url(#gH)"/>
<line x1="546.4" y1="132.5" x2="561.2" y2="132.5" stroke="#bdbdbd" stroke-width="1.6" stroke-linecap="round"/>
<circle cx="551.3" cy="132.5" r="1.9" fill="url(#gH)"/>
<circle cx="556.3" cy="132.5" r="1.9" fill="url(#gH)"/>
<line x1="586.8" y1="133.9" x2="611.3" y2="133.9" stroke="#d0d0d0" stroke-width="1.4" stroke-linecap="round"/>
<circle cx="596.65" cy="133.9" r="2.1" fill="url(#gH)"/>
<circle cx="601.45" cy="133.9" r="2.1" fill="url(#gH)"/>
<line x1="636.9" y1="34.9" x2="651.7" y2="34.9" stroke="#bdbdbd" stroke-width="1.6" stroke-linecap="round"/>
<circle cx="641.8" cy="34.9" r="1.9" fill="url(#gH)"/>
<circle cx="646.8" cy="34.9" r="1.9" fill="url(#gH)"/>
<line x1="677.3" y1="33.5" x2="701.8" y2="33.5" stroke="#d0d0d0" stroke-width="1.4" stroke-linecap="round"/>
<circle cx="687.15" cy="33.5" r="2.1" fill="url(#gH)"/>
<circle cx="691.95" cy="33.5" r="2.1" fill="url(#gH)"/>
<line x1="636.9" y1="132.5" x2="651.7" y2="132.5" stroke="#bdbdbd" stroke-width="1.6" stroke-linecap="round"/>
<circle cx="641.8" cy="132.5" r="1.9" fill="url(#gH)"/>
<circle cx="646.8" cy="132.5" r="1.9" fill="url(#gH)"/>
<line x1="677.3" y1="133.9" x2="701.8" y2="133.9" stroke="#d0d0d0" stroke-width="1.4" stroke-linecap="round"/>
<circle cx="687.15" cy="133.9" r="2.1" fill="url(#gH)"/>
<circle cx="691.95" cy="133.9" r="2.1" fill="url(#gH)"/>
<line x1="254.6" y1="46.7" x2="251.95" y2="52.15" stroke="#6e6e6e" stroke-width="2.0" stroke-linecap="round"/><line x1="251.95" y1="52.15" x2="249.3" y2="57.6" stroke="#1a1aff" stroke-width="2.0" stroke-linecap="round"/>
<line x1="310" y1="46.7" x2="312.65" y2="52.15" stroke="#6e6e6e" stroke-width="2.0" stroke-linecap="round"/><line x1="312.65" y1="52.15" x2="315.3" y2="57.6" stroke="#1a1aff" stroke-width="2.0" stroke-linecap="round"/>
<line x1="315.3" y1="57.6" x2="339.8" y2="57.6" stroke="#e2e2e2" stroke-width="1.5" stroke-linecap="round"/>
<circle cx="324.65" cy="57.6" r="2.1" fill="url(#gH)"/>
<circle cx="330.45" cy="57.6" r="2.1" fill="url(#gH)"/>
<line x1="249.3" y1="57.6" x2="251.5" y2="64.1" stroke="#1a1aff" stroke-width="1.8" stroke-linecap="round"/>
<line x1="249.3" y1="57.6" x2="244.8" y2="57.4" stroke="#1a1aff" stroke-width="1.8" stroke-linecap="round"/>
<line x1="249.3" y1="57.6" x2="250.8" y2="53.1" stroke="#1a1aff" stroke-width="1.8" stroke-linecap="round"/>
<circle cx="251.5" cy="64.8" r="1.9" fill="url(#gH)"/>
<circle cx="249.3" cy="57.6" r="2.6" fill="url(#gN)"/>
<line x1="315.3" y1="57.6" x2="313.1" y2="64.1" stroke="#1a1aff" stroke-width="1.8" stroke-linecap="round"/>
<line x1="315.3" y1="57.6" x2="319.8" y2="57.4" stroke="#1a1aff" stroke-width="1.8" stroke-linecap="round"/>
<line x1="315.3" y1="57.6" x2="313.8" y2="53.1" stroke="#1a1aff" stroke-width="1.8" stroke-linecap="round"/>
<circle cx="313.1" cy="64.8" r="1.9" fill="url(#gH)"/>
<circle cx="315.3" cy="57.6" r="2.6" fill="url(#gN)"/>
<line x1="254.6" y1="120.7" x2="251.95" y2="115.25" stroke="#6e6e6e" stroke-width="2.0" stroke-linecap="round"/><line x1="251.95" y1="115.25" x2="249.3" y2="109.8" stroke="#1a1aff" stroke-width="2.0" stroke-linecap="round"/>
<line x1="310" y1="120.7" x2="312.65" y2="115.25" stroke="#6e6e6e" stroke-width="2.0" stroke-linecap="round"/><line x1="312.65" y1="115.25" x2="315.3" y2="109.8" stroke="#1a1aff" stroke-width="2.0" stroke-linecap="round"/>
<line x1="315.3" y1="109.8" x2="339.8" y2="109.8" stroke="#e2e2e2" stroke-width="1.5" stroke-linecap="round"/>
<circle cx="324.65" cy="109.8" r="2.1" fill="url(#gH)"/>
<circle cx="330.45" cy="109.8" r="2.1" fill="url(#gH)"/>
<line x1="249.3" y1="109.8" x2="251.5" y2="103.3" stroke="#1a1aff" stroke-width="1.8" stroke-linecap="round"/>
<line x1="249.3" y1="109.8" x2="244.8" y2="110" stroke="#1a1aff" stroke-width="1.8" stroke-linecap="round"/>
<line x1="249.3" y1="109.8" x2="250.8" y2="114.3" stroke="#1a1aff" stroke-width="1.8" stroke-linecap="round"/>
<circle cx="251.5" cy="102.6" r="1.9" fill="url(#gH)"/>
<circle cx="249.3" cy="109.8" r="2.6" fill="url(#gN)"/>
<line x1="315.3" y1="109.8" x2="313.1" y2="103.3" stroke="#1a1aff" stroke-width="1.8" stroke-linecap="round"/>
<line x1="315.3" y1="109.8" x2="319.8" y2="110" stroke="#1a1aff" stroke-width="1.8" stroke-linecap="round"/>
<line x1="315.3" y1="109.8" x2="313.8" y2="114.3" stroke="#1a1aff" stroke-width="1.8" stroke-linecap="round"/>
<circle cx="313.1" cy="102.6" r="1.9" fill="url(#gH)"/>
<circle cx="315.3" cy="109.8" r="2.6" fill="url(#gN)"/>
<line x1="345.1" y1="46.7" x2="342.45" y2="52.15" stroke="#6e6e6e" stroke-width="2.0" stroke-linecap="round"/><line x1="342.45" y1="52.15" x2="339.8" y2="57.6" stroke="#1a1aff" stroke-width="2.0" stroke-linecap="round"/>
<line x1="400.5" y1="46.7" x2="403.15" y2="52.15" stroke="#6e6e6e" stroke-width="2.0" stroke-linecap="round"/><line x1="403.15" y1="52.15" x2="405.8" y2="57.6" stroke="#1a1aff" stroke-width="2.0" stroke-linecap="round"/>
<line x1="405.8" y1="57.6" x2="430.3" y2="57.6" stroke="#e2e2e2" stroke-width="1.5" stroke-linecap="round"/>
<circle cx="415.15" cy="57.6" r="2.1" fill="url(#gH)"/>
<circle cx="420.95" cy="57.6" r="2.1" fill="url(#gH)"/>
<line x1="339.8" y1="57.6" x2="342" y2="64.1" stroke="#1a1aff" stroke-width="1.8" stroke-linecap="round"/>
<line x1="339.8" y1="57.6" x2="335.3" y2="57.4" stroke="#1a1aff" stroke-width="1.8" stroke-linecap="round"/>
<line x1="339.8" y1="57.6" x2="341.3" y2="53.1" stroke="#1a1aff" stroke-width="1.8" stroke-linecap="round"/>
<circle cx="342" cy="64.8" r="1.9" fill="url(#gH)"/>
<circle cx="339.8" cy="57.6" r="2.6" fill="url(#gN)"/>
<line x1="405.8" y1="57.6" x2="403.6" y2="64.1" stroke="#1a1aff" stroke-width="1.8" stroke-linecap="round"/>
<line x1="405.8" y1="57.6" x2="410.3" y2="57.4" stroke="#1a1aff" stroke-width="1.8" stroke-linecap="round"/>
<line x1="405.8" y1="57.6" x2="404.3" y2="53.1" stroke="#1a1aff" stroke-width="1.8" stroke-linecap="round"/>
<circle cx="403.6" cy="64.8" r="1.9" fill="url(#gH)"/>
<circle cx="405.8" cy="57.6" r="2.6" fill="url(#gN)"/>
<line x1="345.1" y1="120.7" x2="342.45" y2="115.25" stroke="#6e6e6e" stroke-width="2.0" stroke-linecap="round"/><line x1="342.45" y1="115.25" x2="339.8" y2="109.8" stroke="#1a1aff" stroke-width="2.0" stroke-linecap="round"/>
<line x1="400.5" y1="120.7" x2="403.15" y2="115.25" stroke="#6e6e6e" stroke-width="2.0" stroke-linecap="round"/><line x1="403.15" y1="115.25" x2="405.8" y2="109.8" stroke="#1a1aff" stroke-width="2.0" stroke-linecap="round"/>
<line x1="405.8" y1="109.8" x2="430.3" y2="109.8" stroke="#e2e2e2" stroke-width="1.5" stroke-linecap="round"/>
<circle cx="415.15" cy="109.8" r="2.1" fill="url(#gH)"/>
<circle cx="420.95" cy="109.8" r="2.1" fill="url(#gH)"/>
<line x1="339.8" y1="109.8" x2="342" y2="103.3" stroke="#1a1aff" stroke-width="1.8" stroke-linecap="round"/>
<line x1="339.8" y1="109.8" x2="335.3" y2="110" stroke="#1a1aff" stroke-width="1.8" stroke-linecap="round"/>
<line x1="339.8" y1="109.8" x2="341.3" y2="114.3" stroke="#1a1aff" stroke-width="1.8" stroke-linecap="round"/>
<circle cx="342" cy="102.6" r="1.9" fill="url(#gH)"/>
<circle cx="339.8" cy="109.8" r="2.6" fill="url(#gN)"/>
<line x1="405.8" y1="109.8" x2="403.6" y2="103.3" stroke="#1a1aff" stroke-width="1.8" stroke-linecap="round"/>
<line x1="405.8" y1="109.8" x2="410.3" y2="110" stroke="#1a1aff" stroke-width="1.8" stroke-linecap="round"/>
<line x1="405.8" y1="109.8" x2="404.3" y2="114.3" stroke="#1a1aff" stroke-width="1.8" stroke-linecap="round"/>
<circle cx="403.6" cy="102.6" r="1.9" fill="url(#gH)"/>
<circle cx="405.8" cy="109.8" r="2.6" fill="url(#gN)"/>
<line x1="435.6" y1="46.7" x2="432.95" y2="52.15" stroke="#6e6e6e" stroke-width="2.0" stroke-linecap="round"/><line x1="432.95" y1="52.15" x2="430.3" y2="57.6" stroke="#1a1aff" stroke-width="2.0" stroke-linecap="round"/>
<line x1="491" y1="46.7" x2="493.65" y2="52.15" stroke="#6e6e6e" stroke-width="2.0" stroke-linecap="round"/><line x1="493.65" y1="52.15" x2="496.3" y2="57.6" stroke="#1a1aff" stroke-width="2.0" stroke-linecap="round"/>
<line x1="496.3" y1="57.6" x2="520.8" y2="57.6" stroke="#e2e2e2" stroke-width="1.5" stroke-linecap="round"/>
<circle cx="505.65" cy="57.6" r="2.1" fill="url(#gH)"/>
<circle cx="511.45" cy="57.6" r="2.1" fill="url(#gH)"/>
<line x1="430.3" y1="57.6" x2="432.5" y2="64.1" stroke="#1a1aff" stroke-width="1.8" stroke-linecap="round"/>
<line x1="430.3" y1="57.6" x2="425.8" y2="57.4" stroke="#1a1aff" stroke-width="1.8" stroke-linecap="round"/>
<line x1="430.3" y1="57.6" x2="431.8" y2="53.1" stroke="#1a1aff" stroke-width="1.8" stroke-linecap="round"/>
<circle cx="432.5" cy="64.8" r="1.9" fill="url(#gH)"/>
<circle cx="430.3" cy="57.6" r="2.6" fill="url(#gN)"/>
<line x1="496.3" y1="57.6" x2="494.1" y2="64.1" stroke="#1a1aff" stroke-width="1.8" stroke-linecap="round"/>
<line x1="496.3" y1="57.6" x2="500.8" y2="57.4" stroke="#1a1aff" stroke-width="1.8" stroke-linecap="round"/>
<line x1="496.3" y1="57.6" x2="494.8" y2="53.1" stroke="#1a1aff" stroke-width="1.8" stroke-linecap="round"/>
<circle cx="494.1" cy="64.8" r="1.9" fill="url(#gH)"/>
<circle cx="496.3" cy="57.6" r="2.6" fill="url(#gN)"/>
<line x1="435.6" y1="120.7" x2="432.95" y2="115.25" stroke="#6e6e6e" stroke-width="2.0" stroke-linecap="round"/><line x1="432.95" y1="115.25" x2="430.3" y2="109.8" stroke="#1a1aff" stroke-width="2.0" stroke-linecap="round"/>
<line x1="491" y1="120.7" x2="493.65" y2="115.25" stroke="#6e6e6e" stroke-width="2.0" stroke-linecap="round"/><line x1="493.65" y1="115.25" x2="496.3" y2="109.8" stroke="#1a1aff" stroke-width="2.0" stroke-linecap="round"/>
<line x1="496.3" y1="109.8" x2="520.8" y2="109.8" stroke="#e2e2e2" stroke-width="1.5" stroke-linecap="round"/>
<circle cx="505.65" cy="109.8" r="2.1" fill="url(#gH)"/>
<circle cx="511.45" cy="109.8" r="2.1" fill="url(#gH)"/>
<line x1="430.3" y1="109.8" x2="432.5" y2="103.3" stroke="#1a1aff" stroke-width="1.8" stroke-linecap="round"/>
<line x1="430.3" y1="109.8" x2="425.8" y2="110" stroke="#1a1aff" stroke-width="1.8" stroke-linecap="round"/>
<line x1="430.3" y1="109.8" x2="431.8" y2="114.3" stroke="#1a1aff" stroke-width="1.8" stroke-linecap="round"/>
<circle cx="432.5" cy="102.6" r="1.9" fill="url(#gH)"/>
<circle cx="430.3" cy="109.8" r="2.6" fill="url(#gN)"/>
<line x1="496.3" y1="109.8" x2="494.1" y2="103.3" stroke="#1a1aff" stroke-width="1.8" stroke-linecap="round"/>
<line x1="496.3" y1="109.8" x2="500.8" y2="110" stroke="#1a1aff" stroke-width="1.8" stroke-linecap="round"/>
<line x1="496.3" y1="109.8" x2="494.8" y2="114.3" stroke="#1a1aff" stroke-width="1.8" stroke-linecap="round"/>
<circle cx="494.1" cy="102.6" r="1.9" fill="url(#gH)"/>
<circle cx="496.3" cy="109.8" r="2.6" fill="url(#gN)"/>
<line x1="526.1" y1="46.7" x2="523.45" y2="52.15" stroke="#6e6e6e" stroke-width="2.0" stroke-linecap="round"/><line x1="523.45" y1="52.15" x2="520.8" y2="57.6" stroke="#1a1aff" stroke-width="2.0" stroke-linecap="round"/>
<line x1="581.5" y1="46.7" x2="584.15" y2="52.15" stroke="#6e6e6e" stroke-width="2.0" stroke-linecap="round"/><line x1="584.15" y1="52.15" x2="586.8" y2="57.6" stroke="#1a1aff" stroke-width="2.0" stroke-linecap="round"/>
<line x1="586.8" y1="57.6" x2="611.3" y2="57.6" stroke="#e2e2e2" stroke-width="1.5" stroke-linecap="round"/>
<circle cx="596.15" cy="57.6" r="2.1" fill="url(#gH)"/>
<circle cx="601.95" cy="57.6" r="2.1" fill="url(#gH)"/>
<line x1="520.8" y1="57.6" x2="523" y2="64.1" stroke="#1a1aff" stroke-width="1.8" stroke-linecap="round"/>
<line x1="520.8" y1="57.6" x2="516.3" y2="57.4" stroke="#1a1aff" stroke-width="1.8" stroke-linecap="round"/>
<line x1="520.8" y1="57.6" x2="522.3" y2="53.1" stroke="#1a1aff" stroke-width="1.8" stroke-linecap="round"/>
<circle cx="523" cy="64.8" r="1.9" fill="url(#gH)"/>
<circle cx="520.8" cy="57.6" r="2.6" fill="url(#gN)"/>
<line x1="586.8" y1="57.6" x2="584.6" y2="64.1" stroke="#1a1aff" stroke-width="1.8" stroke-linecap="round"/>
<line x1="586.8" y1="57.6" x2="591.3" y2="57.4" stroke="#1a1aff" stroke-width="1.8" stroke-linecap="round"/>
<line x1="586.8" y1="57.6" x2="585.3" y2="53.1" stroke="#1a1aff" stroke-width="1.8" stroke-linecap="round"/>
<circle cx="584.6" cy="64.8" r="1.9" fill="url(#gH)"/>
<circle cx="586.8" cy="57.6" r="2.6" fill="url(#gN)"/>
<line x1="526.1" y1="120.7" x2="523.45" y2="115.25" stroke="#6e6e6e" stroke-width="2.0" stroke-linecap="round"/><line x1="523.45" y1="115.25" x2="520.8" y2="109.8" stroke="#1a1aff" stroke-width="2.0" stroke-linecap="round"/>
<line x1="581.5" y1="120.7" x2="584.15" y2="115.25" stroke="#6e6e6e" stroke-width="2.0" stroke-linecap="round"/><line x1="584.15" y1="115.25" x2="586.8" y2="109.8" stroke="#1a1aff" stroke-width="2.0" stroke-linecap="round"/>
<line x1="586.8" y1="109.8" x2="611.3" y2="109.8" stroke="#e2e2e2" stroke-width="1.5" stroke-linecap="round"/>
<circle cx="596.15" cy="109.8" r="2.1" fill="url(#gH)"/>
<circle cx="601.95" cy="109.8" r="2.1" fill="url(#gH)"/>
<line x1="520.8" y1="109.8" x2="523" y2="103.3" stroke="#1a1aff" stroke-width="1.8" stroke-linecap="round"/>
<line x1="520.8" y1="109.8" x2="516.3" y2="110" stroke="#1a1aff" stroke-width="1.8" stroke-linecap="round"/>
<line x1="520.8" y1="109.8" x2="522.3" y2="114.3" stroke="#1a1aff" stroke-width="1.8" stroke-linecap="round"/>
<circle cx="523" cy="102.6" r="1.9" fill="url(#gH)"/>
<circle cx="520.8" cy="109.8" r="2.6" fill="url(#gN)"/>
<line x1="586.8" y1="109.8" x2="584.6" y2="103.3" stroke="#1a1aff" stroke-width="1.8" stroke-linecap="round"/>
<line x1="586.8" y1="109.8" x2="591.3" y2="110" stroke="#1a1aff" stroke-width="1.8" stroke-linecap="round"/>
<line x1="586.8" y1="109.8" x2="585.3" y2="114.3" stroke="#1a1aff" stroke-width="1.8" stroke-linecap="round"/>
<circle cx="584.6" cy="102.6" r="1.9" fill="url(#gH)"/>
<circle cx="586.8" cy="109.8" r="2.6" fill="url(#gN)"/>
<line x1="616.6" y1="46.7" x2="613.95" y2="52.15" stroke="#6e6e6e" stroke-width="2.0" stroke-linecap="round"/><line x1="613.95" y1="52.15" x2="611.3" y2="57.6" stroke="#1a1aff" stroke-width="2.0" stroke-linecap="round"/>
<line x1="672" y1="46.7" x2="674.65" y2="52.15" stroke="#6e6e6e" stroke-width="2.0" stroke-linecap="round"/><line x1="674.65" y1="52.15" x2="677.3" y2="57.6" stroke="#1a1aff" stroke-width="2.0" stroke-linecap="round"/>
<line x1="677.3" y1="57.6" x2="701.8" y2="57.6" stroke="#e2e2e2" stroke-width="1.5" stroke-linecap="round"/>
<circle cx="686.65" cy="57.6" r="2.1" fill="url(#gH)"/>
<circle cx="692.45" cy="57.6" r="2.1" fill="url(#gH)"/>
<line x1="611.3" y1="57.6" x2="613.5" y2="64.1" stroke="#1a1aff" stroke-width="1.8" stroke-linecap="round"/>
<line x1="611.3" y1="57.6" x2="606.8" y2="57.4" stroke="#1a1aff" stroke-width="1.8" stroke-linecap="round"/>
<line x1="611.3" y1="57.6" x2="612.8" y2="53.1" stroke="#1a1aff" stroke-width="1.8" stroke-linecap="round"/>
<circle cx="613.5" cy="64.8" r="1.9" fill="url(#gH)"/>
<circle cx="611.3" cy="57.6" r="2.6" fill="url(#gN)"/>
<line x1="677.3" y1="57.6" x2="675.1" y2="64.1" stroke="#1a1aff" stroke-width="1.8" stroke-linecap="round"/>
<line x1="677.3" y1="57.6" x2="681.8" y2="57.4" stroke="#1a1aff" stroke-width="1.8" stroke-linecap="round"/>
<line x1="677.3" y1="57.6" x2="675.8" y2="53.1" stroke="#1a1aff" stroke-width="1.8" stroke-linecap="round"/>
<circle cx="675.1" cy="64.8" r="1.9" fill="url(#gH)"/>
<circle cx="677.3" cy="57.6" r="2.6" fill="url(#gN)"/>
<line x1="616.6" y1="120.7" x2="613.95" y2="115.25" stroke="#6e6e6e" stroke-width="2.0" stroke-linecap="round"/><line x1="613.95" y1="115.25" x2="611.3" y2="109.8" stroke="#1a1aff" stroke-width="2.0" stroke-linecap="round"/>
<line x1="672" y1="120.7" x2="674.65" y2="115.25" stroke="#6e6e6e" stroke-width="2.0" stroke-linecap="round"/><line x1="674.65" y1="115.25" x2="677.3" y2="109.8" stroke="#1a1aff" stroke-width="2.0" stroke-linecap="round"/>
<line x1="677.3" y1="109.8" x2="701.8" y2="109.8" stroke="#e2e2e2" stroke-width="1.5" stroke-linecap="round"/>
<circle cx="686.65" cy="109.8" r="2.1" fill="url(#gH)"/>
<circle cx="692.45" cy="109.8" r="2.1" fill="url(#gH)"/>
<line x1="611.3" y1="109.8" x2="613.5" y2="103.3" stroke="#1a1aff" stroke-width="1.8" stroke-linecap="round"/>
<line x1="611.3" y1="109.8" x2="606.8" y2="110" stroke="#1a1aff" stroke-width="1.8" stroke-linecap="round"/>
<line x1="611.3" y1="109.8" x2="612.8" y2="114.3" stroke="#1a1aff" stroke-width="1.8" stroke-linecap="round"/>
<circle cx="613.5" cy="102.6" r="1.9" fill="url(#gH)"/>
<circle cx="611.3" cy="109.8" r="2.6" fill="url(#gN)"/>
<line x1="677.3" y1="109.8" x2="675.1" y2="103.3" stroke="#1a1aff" stroke-width="1.8" stroke-linecap="round"/>
<line x1="677.3" y1="109.8" x2="681.8" y2="110" stroke="#1a1aff" stroke-width="1.8" stroke-linecap="round"/>
<line x1="677.3" y1="109.8" x2="675.8" y2="114.3" stroke="#1a1aff" stroke-width="1.8" stroke-linecap="round"/>
<circle cx="675.1" cy="102.6" r="1.9" fill="url(#gH)"/>
<circle cx="677.3" cy="109.8" r="2.6" fill="url(#gN)"/>
<ellipse cx="396" cy="84.2" rx="10.2" ry="10.5" fill="url(#gYe)"/>
<ellipse cx="432.2" cy="83.7" rx="4.2" ry="8" fill="url(#gYe)"/>
<ellipse cx="450.5" cy="83.7" rx="4.2" ry="8" fill="url(#gYe)"/>
<ellipse cx="525.1" cy="40.7" rx="8.8" ry="6.9" fill="url(#gCy)"/>
<ellipse cx="532" cy="53.6" rx="7" ry="6.4" fill="url(#gCy)"/>
<ellipse cx="532" cy="113.4" rx="7" ry="6.4" fill="url(#gCy)"/>
<ellipse cx="525.1" cy="126.6" rx="8.8" ry="6.9" fill="url(#gCy)"/>
<ellipse cx="577.2" cy="51.5" rx="5" ry="6" fill="url(#gYe)"/>
<ellipse cx="577.2" cy="116" rx="5" ry="6" fill="url(#gYe)"/>
<ellipse cx="622.5" cy="48.5" rx="3" ry="3" fill="url(#gYe)"/>
<ellipse cx="622.5" cy="117.5" rx="3" ry="3" fill="url(#gYe)"/>
<circle cx="256.8" cy="53.8" r="4.2" fill="url(#gBr)"/>
<circle cx="256.8" cy="113.6" r="4.2" fill="url(#gBr)"/>
<circle cx="307.8" cy="53.8" r="4.2" fill="url(#gBr)"/>
<circle cx="307.8" cy="113.6" r="4.2" fill="url(#gBr)"/>
<circle cx="347.3" cy="53.8" r="4.2" fill="url(#gBr)"/>
<circle cx="347.3" cy="113.6" r="4.2" fill="url(#gBr)"/>
<circle cx="398.3" cy="53.8" r="4.2" fill="url(#gBr)"/>
<circle cx="398.3" cy="113.6" r="4.2" fill="url(#gBr)"/>
<circle cx="437.8" cy="53.8" r="4.2" fill="url(#gBr)"/>
<circle cx="437.8" cy="113.6" r="4.2" fill="url(#gBr)"/>
<circle cx="488.8" cy="53.8" r="4.2" fill="url(#gBr)"/>
<circle cx="488.8" cy="113.6" r="4.2" fill="url(#gBr)"/>
<circle cx="528.3" cy="53.8" r="4.2" fill="url(#gBr)"/>
<circle cx="528.3" cy="113.6" r="4.2" fill="url(#gBr)"/>
<circle cx="579.3" cy="53.8" r="4.2" fill="url(#gBr)"/>
<circle cx="579.3" cy="113.6" r="4.2" fill="url(#gBr)"/>
<circle cx="618.8" cy="53.8" r="4.2" fill="url(#gBr)"/>
<circle cx="618.8" cy="113.6" r="4.2" fill="url(#gBr)"/>
<circle cx="669.8" cy="53.8" r="4.2" fill="url(#gBr)"/>
<circle cx="669.8" cy="113.6" r="4.2" fill="url(#gBr)"/>
<ellipse cx="505" cy="83.6" rx="13" ry="14" fill="url(#gCy)"/>
<ellipse cx="521" cy="83.6" rx="14" ry="16" fill="url(#gCy)"/>
<ellipse cx="534" cy="83.6" rx="14" ry="16.5" fill="url(#gCy)"/>
<ellipse cx="550" cy="83.6" rx="8" ry="12" fill="url(#gCy)"/>
<circle cx="513.5" cy="83.7" r="4.0" fill="url(#gBr)" opacity="0.18"/>
<line x1="532.7" y1="83.7" x2="530.3" y2="68.75" stroke="#707378" stroke-width="2.0" stroke-linecap="round"/><line x1="530.3" y1="68.75" x2="527.9" y2="53.8" stroke="#8a4a1c" stroke-width="2.0" stroke-linecap="round"/>
<line x1="532.7" y1="83.7" x2="530.3" y2="98.65" stroke="#707378" stroke-width="2.0" stroke-linecap="round"/><line x1="530.3" y1="98.65" x2="527.9" y2="113.6" stroke="#8a4a1c" stroke-width="2.0" stroke-linecap="round"/>
<line x1="382.2" y1="83.7" x2="388.75" y2="83.7" stroke="#8a4a1c" stroke-width="2.2" stroke-linecap="round"/><line x1="388.75" y1="83.7" x2="395.3" y2="83.7" stroke="#6a6d72" stroke-width="2.2" stroke-linecap="round"/>
<line x1="395.3" y1="83.7" x2="405.25" y2="83.7" stroke="#6a6d72" stroke-width="2.2" stroke-linecap="round"/><line x1="405.25" y1="83.7" x2="415.2" y2="83.7" stroke="#8a4a1c" stroke-width="2.2" stroke-linecap="round"/>
<line x1="415.2" y1="83.7" x2="418.05" y2="83.7" stroke="#8a4a1c" stroke-width="2.2" stroke-linecap="round"/><line x1="418.05" y1="83.7" x2="420.9" y2="83.7" stroke="#8a4a1c" stroke-width="2.2" stroke-linecap="round"/>
<line x1="420.9" y1="83.7" x2="431.2" y2="83.7" stroke="#8a4a1c" stroke-width="2.2" stroke-linecap="round"/><line x1="431.2" y1="83.7" x2="441.5" y2="83.7" stroke="#6a6d72" stroke-width="2.2" stroke-linecap="round"/>
<line x1="441.5" y1="83.7" x2="448.15" y2="83.7" stroke="#6a6d72" stroke-width="2.2" stroke-linecap="round"/><line x1="448.15" y1="83.7" x2="454.8" y2="83.7" stroke="#8a4a1c" stroke-width="2.2" stroke-linecap="round"/>
<line x1="454.8" y1="83.7" x2="463.25" y2="83.7" stroke="#8a4a1c" stroke-width="2.2" stroke-linecap="round"/><line x1="463.25" y1="83.7" x2="471.7" y2="83.7" stroke="#8a4a1c" stroke-width="2.2" stroke-linecap="round"/>
<line x1="471.7" y1="83.7" x2="479.1" y2="83.7" stroke="#8a4a1c" stroke-width="2.2" stroke-linecap="round"/><line x1="479.1" y1="83.7" x2="486.5" y2="83.7" stroke="#6a6d72" stroke-width="2.2" stroke-linecap="round"/>
<line x1="486.5" y1="83.7" x2="496.25" y2="83.7" stroke="#6a6d72" stroke-width="2.2" stroke-linecap="round"/><line x1="496.25" y1="83.7" x2="506" y2="83.7" stroke="#8a4a1c" stroke-width="2.2" stroke-linecap="round"/>
<line x1="506" y1="83.7" x2="519.35" y2="83.7" stroke="#8a4a1c" stroke-width="2.2" stroke-linecap="round"/><line x1="519.35" y1="83.7" x2="532.7" y2="83.7" stroke="#6a6d72" stroke-width="2.2" stroke-linecap="round"/>
<line x1="532.7" y1="83.7" x2="538.65" y2="83.7" stroke="#6a6d72" stroke-width="2.2" stroke-linecap="round"/><line x1="538.65" y1="83.7" x2="544.6" y2="83.7" stroke="#8a4a1c" stroke-width="2.2" stroke-linecap="round"/>
<line x1="544.6" y1="83.7" x2="553.25" y2="83.7" stroke="#8a4a1c" stroke-width="2.2" stroke-linecap="round"/><line x1="553.25" y1="83.7" x2="561.9" y2="83.7" stroke="#8a4a1c" stroke-width="2.2" stroke-linecap="round"/>
<line x1="561.9" y1="83.7" x2="570.2" y2="83.7" stroke="#8a4a1c" stroke-width="2.2" stroke-linecap="round"/><line x1="570.2" y1="83.7" x2="578.5" y2="83.7" stroke="#6a6d72" stroke-width="2.2" stroke-linecap="round"/>
<line x1="578.5" y1="83.7" x2="586.85" y2="83.7" stroke="#6a6d72" stroke-width="2.2" stroke-linecap="round"/><line x1="586.85" y1="83.7" x2="595.2" y2="83.7" stroke="#8a4a1c" stroke-width="2.2" stroke-linecap="round"/>
<line x1="595.2" y1="83.7" x2="608.3" y2="83.7" stroke="#8a4a1c" stroke-width="2.2" stroke-linecap="round"/><line x1="608.3" y1="83.7" x2="621.4" y2="83.7" stroke="#6a6d72" stroke-width="2.2" stroke-linecap="round"/>
<circle cx="382.2" cy="83.7" r="4.0" fill="url(#gBr)"/>
<circle cx="395.3" cy="83.7" r="6.6" fill="url(#gPb)"/>
<circle cx="415.2" cy="83.7" r="4.0" fill="url(#gBr)"/>
<circle cx="420.9" cy="83.7" r="4.0" fill="url(#gBr)"/>
<circle cx="441.5" cy="83.7" r="6.6" fill="url(#gPb)"/>
<circle cx="454.8" cy="83.7" r="4.0" fill="url(#gBr)"/>
<circle cx="471.7" cy="83.7" r="4.0" fill="url(#gBr)"/>
<circle cx="486.5" cy="83.7" r="6.6" fill="url(#gPb)"/>
<circle cx="506" cy="83.7" r="4.0" fill="url(#gBr)"/>
<circle cx="532.7" cy="83.7" r="6.6" fill="url(#gPb)"/>
<circle cx="544.6" cy="83.7" r="4.0" fill="url(#gBr)"/>
<circle cx="578.5" cy="83.7" r="6.6" fill="url(#gPb)"/>
<circle cx="595.2" cy="83.7" r="4.0" fill="url(#gBr)"/>
<circle cx="621.4" cy="83.7" r="6.6" fill="url(#gPb)"/>
<ellipse cx="574" cy="83.8" rx="18.4" ry="17.4" fill="url(#gYe)"/>
<ellipse cx="596.1" cy="83.7" rx="6" ry="12" fill="url(#gYe)" opacity="0.8"/>
<ellipse cx="610.7" cy="84.2" rx="10" ry="14.2" fill="url(#gYe)"/>
<ellipse cx="632" cy="84.2" rx="11.3" ry="16" fill="url(#gYe)"/>
<circle cx="575.4" cy="83.7" r="6.2" fill="#c8c890" opacity="0.55"/>
<line x1="581" y1="83.7" x2="592" y2="83.7" stroke="#8a7a30" stroke-width="1.2" opacity="0.6"/>
<line x1="600" y1="83.7" x2="612" y2="83.7" stroke="#8a7a30" stroke-width="1.2" opacity="0.5"/>
<circle cx="595.2" cy="83.7" r="3.9" fill="url(#gBr)" opacity="0.75"/>
<circle cx="561.9" cy="83.7" r="4.0" fill="url(#gBr)"/>
<ellipse cx="627.6" cy="83.6" rx="4.4" ry="6" fill="#ff0a0a"/>
<ellipse cx="379" cy="83.3" rx="4.6" ry="7.6" fill="#ff0a0a"/>
</g>
<text x="15.2" y="205.6" font-size="16.5" font-weight="bold" fill="#000">c</text>
<line x1="39.6" y1="426.6" x2="44.6" y2="426.6" stroke="#262626" stroke-width="1.1"/>
<text x="33.9" y="431.2" font-size="15.2" text-anchor="end" fill="#111">0</text>
<line x1="39.6" y1="359.6" x2="44.6" y2="359.6" stroke="#262626" stroke-width="1.1"/>
<text x="33.9" y="364.2" font-size="15.2" text-anchor="end" fill="#111">1</text>
<line x1="39.6" y1="292.6" x2="44.6" y2="292.6" stroke="#262626" stroke-width="1.1"/>
<text x="33.9" y="297.2" font-size="15.2" text-anchor="end" fill="#111">2</text>
<line x1="39.6" y1="225.6" x2="44.6" y2="225.6" stroke="#262626" stroke-width="1.1"/>
<text x="33.9" y="230.2" font-size="15.2" text-anchor="end" fill="#111">3</text>
<line x1="39.6" y1="393.1" x2="42.6" y2="393.1" stroke="#262626" stroke-width="1.1"/>
<line x1="39.6" y1="326.1" x2="42.6" y2="326.1" stroke="#262626" stroke-width="1.1"/>
<line x1="39.6" y1="259.1" x2="42.6" y2="259.1" stroke="#262626" stroke-width="1.1"/>
<line x1="46" y1="433.3" x2="46" y2="428.3" stroke="#262626" stroke-width="1.1"/>
<text x="46.3" y="451.2" font-size="15.2" text-anchor="middle" fill="#111">0</text>
<line x1="215" y1="433.3" x2="215" y2="428.3" stroke="#262626" stroke-width="1.1"/>
<text x="215.3" y="451.2" font-size="15.2" text-anchor="middle" fill="#111">5</text>
<line x1="130.5" y1="433.3" x2="130.5" y2="430.3" stroke="#262626" stroke-width="1.1"/>
<line x1="299.5" y1="433.3" x2="299.5" y2="430.3" stroke="#262626" stroke-width="1.1"/>
<rect x="39.6" y="212.3" width="276.1" height="221" fill="none" stroke="#262626" stroke-width="1.3"/>
<polyline points="45.8,426.5 74.6,426 103.5,425.8 132.5,425.1 161,424.2 190,423 219,421.3 248,419.3 276.7,417.2 305.1,414.7" fill="none" stroke="#1b5283" stroke-width="1.7"/>
<rect x="41.35" y="422.05" width="8.9" height="8.9" fill="#a3c3e8" stroke="#3573b6" stroke-width="1.2"/>
<rect x="70.15" y="421.55" width="8.9" height="8.9" fill="#a3c3e8" stroke="#3573b6" stroke-width="1.2"/>
<rect x="99.05" y="421.35" width="8.9" height="8.9" fill="#a3c3e8" stroke="#3573b6" stroke-width="1.2"/>
<rect x="128.05" y="420.65" width="8.9" height="8.9" fill="#a3c3e8" stroke="#3573b6" stroke-width="1.2"/>
<rect x="156.55" y="419.75" width="8.9" height="8.9" fill="#a3c3e8" stroke="#3573b6" stroke-width="1.2"/>
<rect x="185.55" y="418.55" width="8.9" height="8.9" fill="#a3c3e8" stroke="#3573b6" stroke-width="1.2"/>
<rect x="214.55" y="416.85" width="8.9" height="8.9" fill="#a3c3e8" stroke="#3573b6" stroke-width="1.2"/>
<rect x="243.55" y="414.85" width="8.9" height="8.9" fill="#a3c3e8" stroke="#3573b6" stroke-width="1.2"/>
<rect x="272.25" y="412.75" width="8.9" height="8.9" fill="#a3c3e8" stroke="#3573b6" stroke-width="1.2"/>
<rect x="300.65" y="410.25" width="8.9" height="8.9" fill="#a3c3e8" stroke="#3573b6" stroke-width="1.2"/>
<polyline points="46,238.8 74.8,244.6 103.6,250.6 132.6,256 161.4,260.9 190,262.9 219,265.4 247.8,263.3 276.6,261.2 305.4,258.8" fill="none" stroke="#cf2e36" stroke-width="1.7"/>
<circle cx="46" cy="238.8" r="5.25" fill="#e9a2a4" stroke="#cf2e36" stroke-width="1.2"/>
<circle cx="74.8" cy="244.6" r="5.25" fill="#e9a2a4" stroke="#cf2e36" stroke-width="1.2"/>
<circle cx="103.6" cy="250.6" r="5.25" fill="#e9a2a4" stroke="#cf2e36" stroke-width="1.2"/>
<circle cx="132.6" cy="256" r="5.25" fill="#e9a2a4" stroke="#cf2e36" stroke-width="1.2"/>
<circle cx="161.4" cy="260.9" r="5.25" fill="#e9a2a4" stroke="#cf2e36" stroke-width="1.2"/>
<circle cx="190" cy="262.9" r="5.25" fill="#e9a2a4" stroke="#cf2e36" stroke-width="1.2"/>
<circle cx="219" cy="265.4" r="5.25" fill="#e9a2a4" stroke="#cf2e36" stroke-width="1.2"/>
<circle cx="247.8" cy="263.3" r="5.25" fill="#e9a2a4" stroke="#cf2e36" stroke-width="1.2"/>
<circle cx="276.6" cy="261.2" r="5.25" fill="#e9a2a4" stroke="#cf2e36" stroke-width="1.2"/>
<circle cx="305.4" cy="258.8" r="5.25" fill="#e9a2a4" stroke="#cf2e36" stroke-width="1.2"/>
<line x1="45.6" y1="269.4" x2="219.8" y2="269.4" stroke="#111" stroke-width="1.5" stroke-dasharray="1.7 1.7"/>
<line x1="41.6" y1="426.6" x2="215.3" y2="426.6" stroke="#111" stroke-width="1.5" stroke-dasharray="1.7 1.7"/>
<line x1="214.8" y1="428" x2="214.8" y2="433" stroke="#111" stroke-width="1.2" stroke-dasharray="1.7 1.7"/>
<line x1="44.8" y1="250" x2="44.8" y2="263" stroke="#c4c4c4" stroke-width="1.6"/>
<path d="M44.8,245.3 L42,253.7 L44.8,251.2 L47.6,253.7 Z" fill="#0a0a0a"/>
<path d="M44.8,268.1 L42,259.7 L44.8,262.2 L47.6,259.7 Z" fill="#0a0a0a"/>
<line x1="219.4" y1="276" x2="219.4" y2="409" stroke="#8a8a8a" stroke-width="1"/>
<path d="M219.4,271.6 L216.7,279.8 L219.4,277.4 L222.1,279.8 Z" fill="#0a0a0a"/>
<path d="M219.4,414 L216.7,406.2 L219.4,408.6 L222.1,406.2 Z" fill="#0a0a0a"/>
<line x1="219.4" y1="418" x2="219.4" y2="427" stroke="#0a0a0a" stroke-width="1"/>
<path d="M219.4,414.8 L217,422.6 L219.4,421.6 L221.8,422.6 Z" fill="#0a0a0a"/>
<path d="M219.4,430.3 L217,422.4 L219.4,423.4 L221.8,422.4 Z" fill="#0a0a0a"/>
<circle cx="219.4" cy="422.5" r="1.3" fill="#9cc0e6" stroke="#555" stroke-width="0.5"/>
<line x1="187.8" y1="224.4" x2="222" y2="224.4" stroke="#1b5283" stroke-width="1.7"/>
<rect x="200.4" y="219.8" width="9" height="9" fill="#a3c3e8" stroke="#3573b6" stroke-width="1.2"/>
<text x="226.2" y="229.6" font-size="14.8" fill="#111">Ground</text>
<line x1="187.8" y1="242.8" x2="222" y2="242.8" stroke="#cf2e36" stroke-width="1.8"/>
<circle cx="204.8" cy="242.8" r="5.25" fill="#e9a2a4" stroke="#cf2e36" stroke-width="1.2"/>
<text x="226.2" y="247.9" font-size="14.8" fill="#111">Excited</text>
<text x="52.6" y="289.5" font-size="17" fill="#111">E<tspan font-size="12.3" dy="5">st</tspan></text>
<text x="191.3" y="360.2" font-size="17" fill="#111">E<tspan font-size="12.3" dy="5">PL</tspan></text>
<text x="226.4" y="407.8" font-size="17" fill="#111">E<tspan font-size="12.3" dy="5">d</tspan></text>
<text transform="translate(12.9,312.2) rotate(-90)" font-size="17.4" text-anchor="middle" fill="#111">E (eV)</text>
<text x="131.2" y="474.1" font-size="17" fill="#111">Q</text>
<text x="149.7" y="474.1" font-size="17" fill="#111">(</text>
<text x="155.9" y="473.6" font-size="17.4" font-family="Liberation Serif" fill="#222">A</text>
<circle cx="162.4" cy="460.7" r="1.45" fill="none" stroke="#444" stroke-width="0.9"/>
<line x1="161.5" y1="459" x2="164.2" y2="456.2" stroke="#222" stroke-width="1.1"/>
<text x="171.6" y="474.1" font-size="17" fill="#111">AMU</text>
<text x="210.2" y="468.4" font-size="12.3" fill="#111">1/2</text>
<text x="228.8" y="474.1" font-size="17" fill="#111">)</text>
<text x="361.7" y="205.5" font-size="16.5" font-weight="bold" fill="#000">d</text>
<rect x="392.3" y="390.36" width="22.2" height="39.74" fill="#f8c6a4" stroke="#dc5a22" stroke-width="1.2"/>
<rect x="414.5" y="249.92" width="22.8" height="180.18" fill="#b8d3ef" stroke="#4f7f90" stroke-width="1.3"/>
<rect x="457" y="394.33" width="22.2" height="35.77" fill="#f8c6a4" stroke="#dc5a22" stroke-width="1.2"/>
<rect x="479.2" y="260.84" width="22.8" height="169.26" fill="#b8d3ef" stroke="#4f7f90" stroke-width="1.3"/>
<rect x="521.75" y="370.49" width="22.2" height="59.61" fill="#f8c6a4" stroke="#dc5a22" stroke-width="1.2"/>
<rect x="543.95" y="391.88" width="22.8" height="38.22" fill="#b8d3ef" stroke="#4f7f90" stroke-width="1.3"/>
<rect x="586.5" y="251.27" width="22.2" height="178.83" fill="#f8c6a4" stroke="#dc5a22" stroke-width="1.2"/>
<rect x="608.7" y="402.8" width="22.8" height="27.3" fill="#b8d3ef" stroke="#4f7f90" stroke-width="1.3"/>
<line x1="382.5" y1="211.6" x2="640.5" y2="211.6" stroke="#111" stroke-width="1.2"/>
<line x1="382.5" y1="430.1" x2="640.5" y2="430.1" stroke="#3a3a3a" stroke-width="1.3"/>
<line x1="382.5" y1="211.0" x2="382.5" y2="430.70000000000005" stroke="#dc5a22" stroke-width="1.3"/>
<line x1="640.5" y1="211.0" x2="640.5" y2="430.70000000000005" stroke="#3b7282" stroke-width="1.3"/>
<line x1="382.5" y1="430.1" x2="386.5" y2="430.1" stroke="#dc5a22" stroke-width="1.2"/>
<text x="378.8" y="435" font-size="15.2" text-anchor="end" fill="#dc5a22">0.3</text>
<line x1="382.5" y1="410.23" x2="385.0" y2="410.23" stroke="#dc5a22" stroke-width="1.2"/>
<line x1="382.5" y1="390.36" x2="386.5" y2="390.36" stroke="#dc5a22" stroke-width="1.2"/>
<text x="378.8" y="395.26" font-size="15.2" text-anchor="end" fill="#dc5a22">0.4</text>
<line x1="382.5" y1="370.49" x2="385.0" y2="370.49" stroke="#dc5a22" stroke-width="1.2"/>
<line x1="382.5" y1="350.62" x2="386.5" y2="350.62" stroke="#dc5a22" stroke-width="1.2"/>
<text x="378.8" y="355.52" font-size="15.2" text-anchor="end" fill="#dc5a22">0.5</text>
<line x1="382.5" y1="330.75" x2="385.0" y2="330.75" stroke="#dc5a22" stroke-width="1.2"/>
<line x1="382.5" y1="310.88" x2="386.5" y2="310.88" stroke="#dc5a22" stroke-width="1.2"/>
<text x="378.8" y="315.78" font-size="15.2" text-anchor="end" fill="#dc5a22">0.6</text>
<line x1="382.5" y1="291.01" x2="385.0" y2="291.01" stroke="#dc5a22" stroke-width="1.2"/>
<line x1="382.5" y1="271.14" x2="386.5" y2="271.14" stroke="#dc5a22" stroke-width="1.2"/>
<text x="378.8" y="276.04" font-size="15.2" text-anchor="end" fill="#dc5a22">0.7</text>
<line x1="382.5" y1="251.27" x2="385.0" y2="251.27" stroke="#dc5a22" stroke-width="1.2"/>
<line x1="382.5" y1="231.4" x2="386.5" y2="231.4" stroke="#dc5a22" stroke-width="1.2"/>
<text x="378.8" y="236.3" font-size="15.2" text-anchor="end" fill="#dc5a22">0.8</text>
<line x1="382.5" y1="211.53" x2="385.0" y2="211.53" stroke="#dc5a22" stroke-width="1.2"/>
<line x1="640.5" y1="430.1" x2="636.5" y2="430.1" stroke="#3b7282" stroke-width="1.2"/>
<text x="643.7" y="434.8" font-size="15.2" fill="#3b7282">2.0</text>
<line x1="640.5" y1="402.8" x2="638.0" y2="402.8" stroke="#3b7282" stroke-width="1.2"/>
<line x1="640.5" y1="375.5" x2="636.5" y2="375.5" stroke="#3b7282" stroke-width="1.2"/>
<text x="643.7" y="380.2" font-size="15.2" fill="#3b7282">2.1</text>
<line x1="640.5" y1="348.2" x2="638.0" y2="348.2" stroke="#3b7282" stroke-width="1.2"/>
<line x1="640.5" y1="320.9" x2="636.5" y2="320.9" stroke="#3b7282" stroke-width="1.2"/>
<text x="643.7" y="325.6" font-size="15.2" fill="#3b7282">2.2</text>
<line x1="640.5" y1="293.6" x2="638.0" y2="293.6" stroke="#3b7282" stroke-width="1.2"/>
<line x1="640.5" y1="266.3" x2="636.5" y2="266.3" stroke="#3b7282" stroke-width="1.2"/>
<text x="643.7" y="271" font-size="15.2" fill="#3b7282">2.3</text>
<line x1="640.5" y1="239" x2="638.0" y2="239" stroke="#3b7282" stroke-width="1.2"/>
<line x1="640.5" y1="211.7" x2="636.5" y2="211.7" stroke="#3b7282" stroke-width="1.2"/>
<text x="643.7" y="216.4" font-size="15.2" fill="#3b7282">2.4</text>
<text x="414.5" y="445.4" font-size="14.5" text-anchor="middle" fill="#111">C3</text>
<text x="479.2" y="445.4" font-size="14.5" text-anchor="middle" fill="#111">C4</text>
<text x="543.95" y="445.4" font-size="14.5" text-anchor="middle" fill="#111">C5</text>
<text x="608.7" y="445.4" font-size="14.5" text-anchor="middle" fill="#111">C6</text>
<rect x="592.4" y="216.6" width="22.6" height="9.4" fill="#f8c6a4" stroke="#dc5a22" stroke-width="1.2"/>
<rect x="592.4" y="232.7" width="22.6" height="9.4" fill="#b8d3ef" stroke="#4f7f90" stroke-width="1.3"/>
<text x="619.1" y="225.9" font-size="11.8" fill="#111">E<tspan font-size="8" dy="2">st</tspan></text>
<text x="619.1" y="242" font-size="11.8" fill="#111">E<tspan font-size="8.6" dy="2.7">PL</tspan></text>
<text transform="translate(346.9,343.8) rotate(-90)" font-size="14" fill="#dc5a22">E<tspan font-size="10" dy="3">st</tspan><tspan dx="1.2" dy="-3" font-size="15.1">(eV)</tspan></text>
<text transform="translate(680.9,346.4) rotate(-90)" font-size="14.2" fill="#3b7282">E<tspan font-size="9.5" dy="3.6">PL</tspan><tspan dx="2.8" dy="-3.6" font-size="15.1">(eV)</tspan></text>
</svg>
</body></html>
